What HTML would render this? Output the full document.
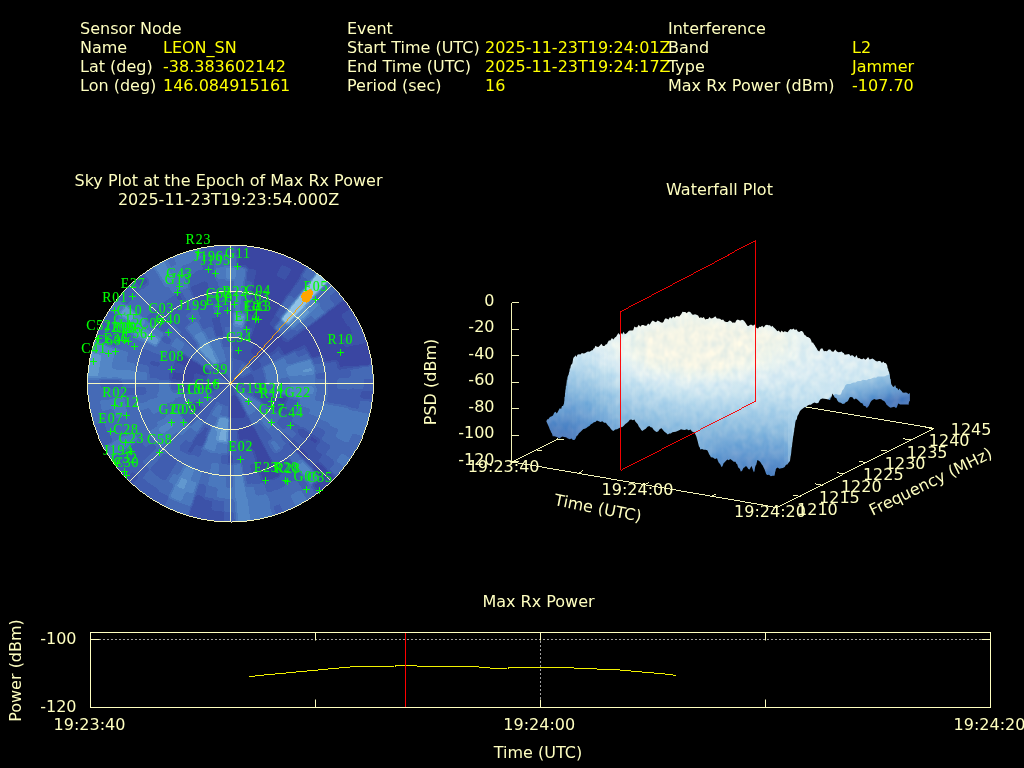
<!DOCTYPE html>
<html lang="en"><head><meta charset="utf-8"><title>Interference Event Report</title>
<style>
html,body{margin:0;padding:0;background:#000;overflow:hidden}
svg{display:block}
text{font-family:"DejaVu Sans","Liberation Sans",sans-serif;font-size:16px;fill:#ffffc0}
text.v{fill:#ffff00}
.sv text{font-family:"Liberation Serif","DejaVu Serif",serif;font-size:13.8px;letter-spacing:0.9px;fill:#00ff00;stroke:#00ff00;stroke-width:0.1px}
</style></head><body>
<svg width="1024" height="768" viewBox="0 0 1024 768">
<rect width="1024" height="768" fill="#000"/>
<g class="hd">
<text x="80" y="33.5">Sensor Node</text>
<text x="80" y="52.5">Name</text>
<text x="163" y="52.5" class="v">LEON_SN</text>
<text x="80" y="71.5">Lat (deg)</text>
<text x="163" y="71.5" class="v">-38.383602142</text>
<text x="80" y="90.5">Lon (deg)</text>
<text x="163" y="90.5" class="v">146.084915161</text>
<text x="347" y="33.5">Event</text>
<text x="347" y="52.5">Start Time (UTC)</text>
<text x="485" y="52.5" class="v">2025-11-23T19:24:01Z</text>
<text x="347" y="71.5">End Time (UTC)</text>
<text x="485" y="71.5" class="v">2025-11-23T19:24:17Z</text>
<text x="347" y="90.5">Period (sec)</text>
<text x="485" y="90.5" class="v">16</text>
<text x="668" y="33.5">Interference</text>
<text x="668" y="52.5">Band</text>
<text x="852" y="52.5" class="v">L2</text>
<text x="668" y="71.5">Type</text>
<text x="852" y="71.5" class="v">Jammer</text>
<text x="668" y="90.5">Max Rx Power (dBm)</text>
<text x="852" y="90.5" class="v">-107.70</text>
</g>
<text x="228.5" y="185.5" text-anchor="middle">Sky Plot at the Epoch of Max Rx Power</text>
<text x="228.5" y="204.5" text-anchor="middle">2025-11-23T19:23:54.000Z</text>
<text x="719.5" y="194.5" text-anchor="middle">Waterfall Plot</text>
<text x="538.5" y="606.5" text-anchor="middle">Max Rx Power</text>
<g id="pw">
<path d="M99 639.5H982" stroke="#a0a0a0" stroke-width="1" stroke-dasharray="2 2" fill="none"/>
<path d="M540.5 641V699" stroke="#a0a0a0" stroke-width="1" stroke-dasharray="2 2" fill="none"/>
<rect x="90.5" y="632.5" width="900" height="75" fill="none" stroke="#ffffc0" stroke-width="1"/>
<path d="M315.5 632.5v8M315.5 707.5v-8M540.5 632.5v8M540.5 707.5v-8M765.5 632.5v8M765.5 707.5v-8M90.5 639.5h9M990.5 639.5h-9" stroke="#ffffc0" stroke-width="1" fill="none"/>
<polyline points="248.5,676.5 355.0,666.5 394.0,666.5 395.0,665.5 417.0,665.5 418.0,666.5 479.0,666.5 480.0,667.5 490.0,667.5 491.0,668.5 507.0,668.5 508.0,667.5 574.0,667.5 575.0,668.5 597.0,668.5 598.0,669.5 614.0,669.5 625.0,670.5 636.0,671.5 648.0,672.5 659.0,673.5 670.0,674.5 676.0,675.5" fill="none" stroke="#ffff00" stroke-width="0.95" shape-rendering="crispEdges"/>
<path d="M405.5 633V707" stroke="#ff0000" stroke-width="1" fill="none" shape-rendering="crispEdges"/>
<text x="76.5" y="643.5" text-anchor="end">-100</text>
<text x="76.5" y="711.5" text-anchor="end">-120</text>
<text x="89.5" y="729.5" text-anchor="middle">19:23:40</text>
<text x="539.3" y="729.5" text-anchor="middle">19:24:00</text>
<text x="989.5" y="729.5" text-anchor="middle">19:24:20</text>
<text x="538" y="757.5" text-anchor="middle">Time (UTC)</text>
<text transform="translate(20.5,670.5) rotate(-90)" text-anchor="middle">Power (dBm)</text>
</g>
<g id="sky">
<defs><clipPath id="skc"><ellipse cx="230.5" cy="383.5" rx="143.0" ry="138.5"/></clipPath><filter id="hm" x="-5%" y="-5%" width="110%" height="110%" color-interpolation-filters="sRGB"><feGaussianBlur stdDeviation="1.3"/><feComponentTransfer><feFuncR type="discrete" tableValues="0.2275 0.2392 0.2549 0.2706 0.2902 0.3255 0.3804 0.4627 0.5608"/><feFuncG type="discrete" tableValues="0.2784 0.3216 0.3686 0.4196 0.4706 0.5294 0.5961 0.6745 0.7608"/><feFuncB type="discrete" tableValues="0.6353 0.6627 0.6902 0.7176 0.7451 0.7765 0.8118 0.8549 0.9020"/></feComponentTransfer></filter></defs>
<ellipse cx="230.5" cy="383.5" rx="142.7" ry="138.2" fill="#415eb0"/>
<g clip-path="url(#skc)"><g filter="url(#hm)">
<rect x="67.5" y="225.0" width="326.0" height="317.0" fill="#404040"/>
<path fill="#000000" d="M235.5 256.6L236.0 243.7L243.1 244.1L250.1 244.9L248.3 257.7L241.9 257.0ZM236.0 245.1L236.5 232.2L244.1 232.6L251.7 233.5L249.9 246.3L243.0 245.5ZM246.9 257.5L248.6 244.7L255.6 245.7L262.5 247.1L259.5 259.7L253.3 258.5ZM248.4 246.1L250.1 233.3L257.6 234.4L265.1 235.8L262.2 248.4L255.3 247.1ZM250.6 293.3L253.5 280.6L258.6 281.8L263.7 283.3L259.6 295.6L255.2 294.3ZM253.2 282.0L256.0 269.3L261.7 270.7L267.4 272.3L263.3 284.6L258.3 283.2ZM255.7 270.7L258.5 258.1L264.8 259.5L271.0 261.3L266.9 273.6L261.3 272.0ZM258.2 259.4L261.0 246.8L267.9 248.4L274.7 250.3L270.6 262.6L264.4 260.9ZM260.7 248.1L263.5 235.5L271.0 237.2L278.3 239.3L274.2 251.6L267.5 249.7ZM255.2 306.3L259.1 294.0L263.6 295.4L268.0 297.1L262.8 309.0L259.0 307.6ZM258.7 295.3L262.6 282.9L267.7 284.6L272.6 286.5L267.4 298.4L263.1 296.7ZM262.2 284.3L266.2 271.9L271.7 273.7L277.2 275.8L272.1 287.7L267.2 285.9ZM253.0 330.1L258.1 318.1L261.3 319.5L264.5 321.0L258.3 332.5L255.7 331.2ZM257.5 319.4L262.6 307.4L266.4 309.0L270.1 310.8L263.8 322.2L260.7 320.7ZM262.0 308.7L267.1 296.7L271.4 298.6L275.6 300.6L269.4 312.0L265.8 310.3ZM266.5 298.0L271.6 286.0L276.4 288.1L281.2 290.4L275.0 301.8L270.8 299.8ZM257.7 332.2L263.8 320.7L267.0 322.3L270.0 324.1L262.8 335.0L260.3 333.5ZM285.0 280.8L291.1 269.3L296.8 272.4L302.3 275.6L295.1 286.5L290.1 283.5ZM255.9 344.4L263.0 333.5L265.5 335.1L267.9 336.8L259.7 347.0L257.8 345.7ZM262.3 334.7L269.4 323.7L272.3 325.6L275.2 327.7L267.0 337.9L264.7 336.2ZM259.3 346.7L267.4 336.4L269.7 338.2L272.0 340.1L262.9 349.6L261.1 348.1ZM266.5 337.5L274.6 327.2L277.4 329.4L280.1 331.7L271.0 341.2L268.8 339.3ZM324.7 312.8L335.2 304.8L339.0 309.9L342.6 315.1L331.3 322.0L328.1 317.3ZM334.1 305.7L344.6 297.8L348.8 303.3L352.7 309.0L341.4 315.8L337.9 310.7ZM343.5 298.6L354.0 290.7L358.6 296.6L362.8 302.8L351.5 309.7L347.6 304.1ZM300.6 339.7L311.8 332.7L314.3 336.6L316.6 340.7L304.7 346.6L302.7 343.1ZM310.6 333.5L321.9 326.5L324.6 330.9L327.2 335.4L315.3 341.3L313.1 337.3ZM320.7 327.2L331.9 320.2L334.9 325.1L337.8 330.1L325.9 336.0L323.4 331.6ZM304.3 345.8L316.1 339.8L318.2 343.9L320.1 348.1L307.7 353.0L306.1 349.4ZM314.8 340.4L326.6 334.4L329.0 339.0L331.1 343.7L318.8 348.6L316.9 344.5ZM325.4 335.1L337.2 329.0L339.8 334.1L342.2 339.4L329.8 344.3L327.7 339.6ZM318.4 347.7L330.7 342.7L332.6 347.5L334.3 352.4L321.6 356.2L320.1 351.9ZM355.3 344.7L368.0 340.7L370.0 347.3L371.7 353.9L358.6 356.7L357.1 350.6ZM366.7 341.2L379.4 337.2L381.5 344.3L383.3 351.5L370.3 354.2L368.6 347.7ZM358.3 355.4L371.3 352.5L372.7 359.2L373.8 366.0L360.5 367.6L359.6 361.5ZM369.9 352.8L383.0 350.0L384.5 357.2L385.6 364.5L372.4 366.1L371.3 359.4ZM252.7 424.3L259.0 435.8L256.3 437.1L253.6 438.2L248.5 426.2L250.6 425.3ZM258.3 434.5L264.5 446.0L261.3 447.5L258.1 448.9L253.0 436.9L255.7 435.8ZM263.8 444.8L270.1 456.2L266.4 458.0L262.6 459.6L257.5 447.6L260.7 446.3ZM269.4 455.0L275.6 466.4L271.4 468.4L267.1 470.3L262.0 458.3L265.8 456.7ZM249.0 426.1L254.1 438.0L251.4 439.0L248.5 440.0L244.6 427.6L246.8 426.9ZM253.6 436.7L258.8 448.6L255.4 449.9L252.1 451.0L248.1 438.6L250.9 437.7ZM235.8 406.0L238.7 418.6L237.0 419.0L235.2 419.2L233.5 406.4L234.6 406.2ZM233.7 406.4L235.5 419.2L233.7 419.4L231.9 419.5L231.4 406.6L232.6 406.5ZM231.7 406.6L232.3 419.5L230.5 419.5L228.7 419.5L229.3 406.6L230.5 406.6ZM207.7 376.7L195.0 372.9L195.6 371.2L196.2 369.5L208.5 374.6L208.1 375.6ZM196.3 373.3L183.6 369.4L184.4 367.2L185.2 365.1L197.5 370.1L196.9 371.7ZM208.4 374.8L196.1 369.9L196.8 368.3L197.6 366.7L209.4 372.7L208.9 373.7ZM197.4 370.4L185.0 365.5L186.0 363.4L187.1 361.3L198.9 367.4L198.1 368.9ZM209.3 372.9L197.4 367.0L198.3 365.5L199.2 364.0L210.5 371.0L209.9 372.0ZM198.7 367.7L186.8 361.8L188.0 359.7L189.2 357.7L200.4 364.7L199.5 366.2Z"/>
<path fill="#010101" d="M245.4 269.0L247.1 256.2L253.5 257.1L259.9 258.3L256.9 271.0L251.2 269.8ZM279.5 291.1L285.6 279.6L290.8 282.3L295.8 285.3L288.6 296.2L284.1 293.5ZM275.0 465.2L281.2 476.6L276.4 478.9L271.6 481.0L266.5 469.0L270.8 467.2Z"/>
<path fill="#020202" d="M236.1 393.7L242.3 405.1L241.2 405.7L240.0 406.2L235.0 394.2L235.5 394.0ZM235.1 394.1L240.3 406.1L239.1 406.5L238.0 406.9L234.0 394.5L234.6 394.3ZM234.1 394.5L238.2 406.8L237.0 407.1L235.8 407.4L233.0 394.8L233.6 394.6ZM233.1 394.8L236.1 407.4L234.9 407.6L233.7 407.8L232.0 395.0L232.6 394.9ZM232.1 394.9L233.9 407.7L232.7 407.9L231.5 408.0L231.0 395.0L231.5 395.0ZM231.1 395.0L231.7 407.9L230.5 408.0L229.3 407.9L229.9 395.0L230.5 395.0Z"/>
<path fill="#030303" d="M296.4 334.0L307.0 326.1L309.8 329.7L312.4 333.6L301.1 340.4L298.8 337.2ZM344.0 348.2L356.7 344.3L358.5 350.3L360.0 356.4L347.0 359.1L345.6 353.6ZM318.8 461.0L328.7 469.7L324.2 474.3L319.5 478.6L310.5 469.0L314.8 465.1ZM327.6 468.8L337.5 477.5L332.6 482.4L327.5 487.1L318.6 477.6L323.2 473.3ZM336.4 476.5L346.3 485.2L341.1 490.6L335.5 495.7L326.6 486.1L331.6 481.4Z"/>
<path fill="#050505" d="M329.4 343.2L341.7 338.2L343.8 343.6L345.7 349.0L333.0 352.8L331.3 348.0ZM332.6 351.7L345.3 347.8L347.0 353.3L348.4 358.8L335.3 361.5L334.1 356.6Z"/>
<path fill="#060606" d="M315.2 319.8L325.8 311.9L329.3 316.5L332.5 321.3L321.3 328.1L318.4 323.9ZM307.4 352.2L319.7 347.2L321.4 351.4L322.9 355.8L310.2 359.6L308.9 355.9ZM186.4 366.1L174.0 361.2L175.2 358.5L176.5 355.9L188.3 362.0L187.3 364.0ZM188.1 362.4L176.2 356.5L177.7 354.0L179.2 351.5L190.4 358.5L189.2 360.4Z"/>
<path fill="#070707" d="M248.5 340.8L253.6 328.8L256.3 329.9L259.0 331.2L252.7 342.7L250.6 341.7ZM271.0 287.3L276.1 275.4L281.5 277.6L286.7 280.2L280.5 291.6L275.8 289.4ZM252.3 342.4L258.4 330.9L261.0 332.3L263.6 333.8L256.3 344.7L254.3 343.5ZM330.7 321.0L341.9 314.0L345.3 319.3L348.4 324.8L336.5 330.7L333.7 325.8Z"/>
<path fill="#080808" d="M248.1 304.5L250.9 291.9L255.5 293.0L260.1 294.3L256.0 306.6L252.1 305.5ZM262.5 349.3L271.5 339.7L273.6 341.7L275.7 343.8L265.8 352.5L264.2 350.9ZM265.5 352.1L275.3 343.3L277.2 345.5L279.1 347.8L268.5 355.6L267.0 353.8Z"/>
<path fill="#090909" d="M251.6 317.3L255.6 305.0L259.5 306.3L263.4 307.7L258.2 319.7L255.0 318.4ZM305.8 326.9L316.4 319.0L319.5 323.1L322.5 327.4L311.2 334.3L308.6 330.5Z"/>
<path fill="#0a0a0a" d="M241.6 403.9L247.8 415.4L246.2 416.1L244.5 416.8L239.5 404.9L240.6 404.4ZM239.7 404.8L244.9 416.7L243.2 417.3L241.5 417.9L237.5 405.6L238.7 405.2ZM237.8 405.5L241.9 417.8L240.1 418.3L238.4 418.7L235.5 406.1L236.7 405.8Z"/>
<path fill="#0b0b0b" d="M346.7 357.9L359.7 355.1L361.0 361.2L362.0 367.4L348.7 369.0L347.9 363.5Z"/>
<path fill="#0c0c0c" d="M335.9 329.7L347.7 323.6L350.6 329.3L353.2 335.0L340.8 339.9L338.5 334.7Z"/>
<path fill="#0d0d0d" d="M268.6 311.6L274.7 300.1L278.9 302.3L282.9 304.7L275.7 315.6L272.2 313.5ZM290.4 270.6L296.5 259.1L302.7 262.4L308.7 265.9L301.5 276.8L296.0 273.6ZM295.9 260.3L302.0 248.8L308.7 252.4L315.2 256.2L308.0 267.1L302.0 263.6Z"/>
<path fill="#0e0e0e" d="M269.3 262.2L273.2 249.9L279.9 252.1L286.5 254.5L281.3 266.5L275.3 264.2ZM272.8 251.2L276.7 238.8L284.0 241.2L291.1 243.9L285.9 255.8L279.4 253.4Z"/>
<path fill="#0f0f0f" d="M249.6 354.2L256.7 343.3L258.7 344.5L260.6 345.9L252.4 356.1L251.0 355.1ZM252.1 355.9L260.2 345.6L262.1 347.1L263.9 348.6L254.8 358.1L253.5 357.0ZM254.5 357.8L263.5 348.3L265.2 349.9L266.9 351.6L257.0 360.2L255.8 359.0ZM287.0 341.1L297.5 333.1L300.0 336.4L302.3 339.7L291.0 346.6L289.1 343.8Z"/>
<path fill="#101010" d="M263.2 321.9L269.3 310.4L272.9 312.3L276.5 314.4L269.2 325.3L266.2 323.5ZM262.8 458.0L268.0 469.9L263.6 471.6L259.1 473.0L255.2 460.7L259.0 459.4ZM245.1 427.5L249.2 439.8L246.3 440.6L243.4 441.3L240.6 428.6L242.8 428.1ZM241.1 428.5L244.0 441.1L241.1 441.7L238.1 442.1L236.5 429.3L238.8 429.0ZM194.8 382.2L181.4 381.7L181.6 379.4L181.9 377.0L195.1 378.8L194.9 380.5ZM195.0 379.2L181.8 377.5L182.1 375.2L182.6 373.0L195.6 375.8L195.3 377.5ZM195.6 376.2L182.5 373.5L183.1 371.2L183.8 369.0L196.5 372.9L196.0 374.5Z"/>
<path fill="#111111" d="M321.3 355.3L334.0 351.3L335.5 356.3L336.7 361.3L323.7 364.0L322.6 359.6Z"/>
<path fill="#121212" d="M265.7 273.2L269.7 260.9L275.8 262.9L281.9 265.2L276.7 277.1L271.3 275.0ZM277.6 348.1L288.1 340.2L290.2 343.0L292.2 345.9L280.9 352.7L279.3 350.4ZM280.6 352.2L291.8 345.2L293.7 348.2L295.4 351.2L283.5 357.1L282.1 354.6ZM267.4 468.6L272.6 480.5L267.7 482.4L262.6 484.1L258.7 471.7L263.1 470.3Z"/>
<path fill="#141414" d="M274.1 301.4L280.2 289.9L284.8 292.3L289.4 295.0L282.1 305.9L278.2 303.5ZM290.6 346.0L301.8 339.0L304.0 342.4L306.0 345.9L294.1 351.8L292.4 348.9Z"/>
<path fill="#181818" d="M301.1 445.5L311.0 454.2L307.3 457.9L303.5 461.5L294.5 451.9L297.9 448.8ZM319.6 476.7L328.6 486.1L323.3 490.7L317.8 494.9L309.8 484.6L314.8 480.8ZM327.7 485.1L336.7 494.6L331.0 499.5L325.0 504.1L317.0 493.8L322.4 489.6ZM182.9 381.7L169.5 381.2L169.7 378.3L170.1 375.5L183.3 377.2L183.0 379.5ZM183.2 377.7L170.0 376.1L170.4 373.2L171.0 370.4L184.0 373.3L183.6 375.5Z"/>
<path fill="#191919" d="M245.6 315.8L248.4 303.2L252.5 304.1L256.4 305.3L252.4 317.6L249.0 316.6Z"/>
<path fill="#1a1a1a" d="M280.0 266.0L285.1 254.0L291.5 256.7L297.9 259.8L291.6 271.2L285.9 268.4ZM284.5 255.3L289.6 243.3L296.6 246.3L303.4 249.6L297.2 261.0L290.9 258.0ZM258.2 447.3L263.4 459.3L259.5 460.7L255.6 462.0L251.6 449.7L255.0 448.6Z"/>
<path fill="#1b1b1b" d="M235.1 268.2L235.6 255.3L242.0 255.6L248.5 256.3L246.7 269.2L240.9 268.5ZM335.1 360.5L348.1 357.6L349.3 363.2L350.1 368.9L336.9 370.5L336.1 365.5ZM277.1 393.3L290.1 396.0L289.4 398.8L288.6 401.6L275.9 397.6L276.5 395.4ZM276.0 397.2L288.8 401.0L287.8 403.7L286.7 406.4L274.4 401.4L275.3 399.3Z"/>
<path fill="#1c1c1c" d="M270.5 340.7L279.5 331.2L282.1 333.6L284.5 336.1L274.6 344.7L272.6 342.7ZM274.2 344.3L284.0 335.5L286.4 338.1L288.6 340.8L278.0 348.6L276.1 346.4ZM311.2 432.7L322.5 439.6L319.5 443.9L316.4 448.0L305.8 440.1L308.6 436.5Z"/>
<path fill="#1d1d1d" d="M230.5 383.5L219.2 376.6L219.6 376.1L220.0 375.6L230.5 383.5L230.5 383.5ZM230.5 383.5L219.9 375.7L220.3 375.2L220.7 374.7L230.5 383.5L230.5 383.5ZM230.5 383.5L220.6 374.8L221.1 374.4L221.5 373.9L230.5 383.5L230.5 383.5ZM230.5 383.5L221.4 374.0L221.9 373.6L222.4 373.2L230.5 383.5L230.5 383.5ZM230.5 383.5L222.3 373.3L222.8 372.9L223.4 372.6L230.5 383.5L230.5 383.5ZM230.5 383.5L223.3 372.6L223.8 372.3L224.4 372.0L230.5 383.5L230.5 383.5Z"/>
<path fill="#1e1e1e" d="M241.1 350.4L245.0 338.1L247.3 338.8L249.5 339.7L244.4 351.6L242.7 351.0ZM244.0 351.4L249.1 339.5L251.2 340.4L253.4 341.4L247.2 352.9L245.6 352.1ZM246.8 352.7L252.9 341.2L255.0 342.3L257.1 343.5L249.9 354.4L248.4 353.5ZM230.5 383.5L242.3 377.5L242.6 378.0L242.9 378.6L230.5 383.5L230.5 383.5ZM230.5 383.5L242.8 378.5L243.0 379.1L243.2 379.7L230.5 383.5L230.5 383.5ZM230.5 383.5L243.2 379.5L243.4 380.2L243.5 380.8L230.5 383.5L230.5 383.5ZM230.5 383.5L243.5 380.6L243.6 381.3L243.7 381.9L230.5 383.5L230.5 383.5ZM230.5 383.5L243.7 381.7L243.8 382.4L243.8 383.0L230.5 383.5L230.5 383.5ZM230.5 383.5L243.8 382.9L243.8 383.5L243.8 384.1L230.5 383.5L230.5 383.5ZM247.2 414.1L253.4 425.6L251.2 426.6L249.1 427.5L244.0 415.6L245.6 414.9ZM244.4 415.4L249.5 427.3L247.3 428.2L245.0 428.9L241.1 416.6L242.7 416.0ZM241.4 416.5L245.5 428.8L243.2 429.4L240.9 430.0L238.1 417.3L239.8 416.9Z"/>
<path fill="#1f1f1f" d="M346.5 324.3L358.3 318.3L361.4 324.4L364.2 330.6L351.9 335.5L349.3 329.8ZM357.0 318.9L368.8 312.9L372.2 319.5L375.3 326.3L362.9 331.2L360.1 325.0ZM310.0 453.3L319.8 462.0L315.8 466.1L311.5 470.0L302.5 460.5L306.3 457.0ZM288.9 456.5L297.1 466.7L292.8 469.7L288.4 472.6L281.3 461.6L285.2 459.1ZM225.5 510.4L225.0 523.3L217.9 522.9L210.9 522.1L212.7 509.3L219.1 510.0ZM225.0 521.9L224.5 534.8L216.9 534.4L209.3 533.5L211.1 520.7L218.0 521.5Z"/>
<path fill="#202020" d="M340.4 338.8L352.7 333.8L355.0 339.6L357.1 345.5L344.3 349.4L342.5 344.0ZM264.7 393.7L277.4 397.6L276.6 399.8L275.8 401.9L263.5 396.9L264.1 395.3ZM263.6 396.6L276.0 401.5L275.0 403.6L273.9 405.7L262.1 399.6L262.9 398.1ZM262.3 399.3L274.2 405.2L273.0 407.3L271.8 409.3L260.6 402.3L261.5 400.8Z"/>
<path fill="#222222" d="M275.5 276.6L280.6 264.7L286.5 267.2L292.3 270.0L286.1 281.4L280.9 278.9ZM214.1 509.5L212.4 522.3L205.4 521.3L198.5 519.9L201.5 507.3L207.7 508.5ZM212.6 520.9L210.9 533.7L203.4 532.6L195.9 531.2L198.8 518.6L205.7 519.9ZM208.0 436.9L202.9 448.9L199.7 447.5L196.5 446.0L202.7 434.5L205.3 435.8ZM203.3 434.8L197.2 446.3L194.0 444.7L191.0 442.9L198.2 432.0L200.7 433.5Z"/>
<path fill="#232323" d="M195.6 391.2L182.6 394.0L182.1 391.8L181.8 389.5L195.0 387.8L195.3 389.5ZM195.1 388.2L181.9 390.0L181.6 387.6L181.4 385.3L194.8 384.8L194.9 386.5ZM194.8 385.2L181.5 385.8L181.4 383.5L181.5 381.2L194.8 381.8L194.8 383.5ZM193.6 298.4L188.4 286.5L193.3 284.6L198.4 282.9L202.3 295.3L197.9 296.7Z"/>
<path fill="#242424" d="M301.1 426.6L312.4 433.4L309.8 437.3L307.0 440.9L296.4 433.0L298.8 429.8ZM183.9 373.7L170.9 371.0L171.6 368.2L172.4 365.4L185.1 369.4L184.5 371.6ZM185.0 369.8L172.2 366.0L173.2 363.3L174.3 360.6L186.6 365.6L185.7 367.7Z"/>
<path fill="#262626" d="M268.6 324.9L275.7 314.0L279.2 316.2L282.5 318.6L274.3 328.8L271.5 326.8ZM292.3 437.8L302.2 446.5L298.9 449.8L295.5 452.9L286.5 443.4L289.5 440.6Z"/>
<path fill="#272727" d="M231.9 348.9L232.4 336.0L234.8 336.1L237.2 336.4L235.4 349.2L233.6 349.0ZM235.0 349.1L236.7 336.3L239.0 336.7L241.4 337.1L238.4 349.7L236.7 349.4ZM238.1 349.7L240.9 337.0L243.2 337.6L245.5 338.2L241.4 350.5L239.8 350.1ZM230.5 383.5L236.7 394.9L236.1 395.2L235.5 395.5L230.5 383.5L230.5 383.5ZM230.5 383.5L235.7 395.4L235.1 395.6L234.4 395.8L230.5 383.5L230.5 383.5ZM230.5 383.5L234.6 395.8L234.0 396.0L233.3 396.1L230.5 383.5L230.5 383.5ZM230.5 383.5L233.5 396.1L232.8 396.2L232.2 396.3L230.5 383.5L230.5 383.5ZM230.5 383.5L232.3 396.3L231.7 396.4L231.0 396.4L230.5 383.5L230.5 383.5ZM230.5 383.5L231.2 396.4L230.5 396.4L229.8 396.4L230.5 383.5L230.5 383.5Z"/>
<path fill="#282828" d="M241.0 378.1L252.8 372.1L253.4 373.2L253.9 374.3L241.5 379.1L241.3 378.6ZM241.5 379.0L253.8 374.0L254.2 375.1L254.6 376.3L241.9 380.1L241.7 379.6ZM241.8 380.0L254.6 376.0L254.9 377.2L255.2 378.3L242.1 381.1L242.0 380.5ZM242.1 380.9L255.1 378.1L255.4 379.3L255.6 380.4L242.3 382.1L242.2 381.5ZM242.3 381.9L255.5 380.2L255.7 381.4L255.7 382.6L242.4 383.1L242.4 382.5ZM242.4 382.9L255.7 382.3L255.8 383.5L255.7 384.7L242.4 384.1L242.4 383.5Z"/>
<path fill="#292929" d="M202.8 507.6L200.0 520.2L193.1 518.6L186.3 516.7L190.4 504.4L196.6 506.1ZM200.3 518.9L197.5 531.5L190.0 529.8L182.7 527.7L186.8 515.4L193.5 517.3ZM198.2 309.0L193.0 297.1L197.4 295.4L201.9 294.0L205.8 306.3L202.0 307.6ZM201.4 295.6L197.3 283.3L202.4 281.8L207.5 280.6L210.4 293.3L205.8 294.3Z"/>
<path fill="#2b2b2b" d="M231.4 360.4L231.9 347.5L233.7 347.6L235.5 347.8L233.7 360.6L232.6 360.5ZM233.5 360.6L235.2 347.8L237.0 348.0L238.7 348.4L235.8 361.0L234.6 360.8ZM243.9 280.4L245.6 267.6L251.4 268.5L257.2 269.6L254.3 282.2L249.1 281.2ZM235.5 360.9L238.4 348.3L240.1 348.7L241.9 349.2L237.8 361.5L236.7 361.2ZM237.5 361.4L241.5 349.1L243.2 349.7L244.9 350.3L239.7 362.2L238.7 361.8ZM239.5 362.1L244.5 350.2L246.2 350.9L247.8 351.6L241.6 363.1L240.6 362.6ZM241.4 363.0L247.5 351.5L249.1 352.3L250.6 353.2L243.4 364.1L242.4 363.5ZM274.6 400.9L287.0 405.8L285.8 408.5L284.5 411.1L272.7 405.0L273.7 403.0ZM272.9 404.6L284.8 410.5L283.3 413.0L281.8 415.5L270.6 408.5L271.8 406.6ZM230.5 383.5L218.7 389.5L218.4 389.0L218.1 388.4L230.5 383.5L230.5 383.5ZM230.5 383.5L218.2 388.5L218.0 387.9L217.8 387.3L230.5 383.5L230.5 383.5ZM230.5 383.5L217.8 387.5L217.6 386.8L217.5 386.2L230.5 383.5L230.5 383.5ZM230.5 383.5L217.5 386.4L217.4 385.7L217.3 385.1L230.5 383.5L230.5 383.5ZM230.5 383.5L217.3 385.3L217.2 384.6L217.2 384.0L230.5 383.5L230.5 383.5ZM230.5 383.5L217.2 384.1L217.2 383.5L217.2 382.9L230.5 383.5L230.5 383.5Z"/>
<path fill="#2c2c2c" d="M306.4 439.3L317.1 447.1L313.8 451.2L310.2 455.0L300.4 446.2L303.5 442.9ZM215.9 339.5L211.8 327.2L214.7 326.4L217.6 325.7L220.4 338.4L218.2 338.9ZM219.9 338.5L217.0 325.9L219.9 325.3L222.9 324.9L224.5 337.7L222.2 338.0Z"/>
<path fill="#2d2d2d" d="M238.4 417.3L241.4 429.9L239.0 430.3L236.7 430.7L235.0 417.9L236.7 417.6ZM235.4 417.8L237.2 430.6L234.8 430.9L232.4 431.0L231.9 418.1L233.6 418.0ZM232.2 418.1L232.9 431.0L230.5 431.1L228.1 431.0L228.8 418.1L230.5 418.1ZM205.3 496.3L202.5 508.9L196.2 507.5L190.0 505.7L194.1 493.4L199.7 495.0ZM206.7 382.6L193.3 382.1L193.5 380.4L193.7 378.6L206.9 380.4L206.8 381.5ZM206.9 380.6L193.6 379.0L193.9 377.2L194.2 375.5L207.3 378.4L207.0 379.5ZM207.2 378.6L194.2 375.9L194.6 374.2L195.1 372.5L207.8 376.4L207.5 377.5Z"/>
<path fill="#2e2e2e" d="M230.5 383.5L237.6 372.6L238.2 372.9L238.7 373.3L230.5 383.5L230.5 383.5ZM230.5 383.5L238.6 373.2L239.1 373.6L239.6 374.0L230.5 383.5L230.5 383.5ZM230.5 383.5L239.5 373.9L239.9 374.4L240.4 374.8L230.5 383.5L230.5 383.5ZM230.5 383.5L240.3 374.7L240.7 375.2L241.1 375.7L230.5 383.5L230.5 383.5ZM230.5 383.5L241.0 375.6L241.4 376.1L241.8 376.6L230.5 383.5L230.5 383.5ZM230.5 383.5L241.7 376.5L242.1 377.0L242.4 377.6L230.5 383.5L230.5 383.5Z"/>
<path fill="#2f2f2f" d="M351.3 334.3L363.6 329.3L366.2 335.7L368.5 342.1L355.7 346.0L353.7 340.1ZM362.3 329.8L374.6 324.8L377.4 331.7L379.9 338.7L367.1 342.5L364.9 336.1ZM248.7 438.4L252.8 450.8L249.4 451.7L245.9 452.5L243.1 439.9L245.9 439.2ZM243.7 439.8L246.7 452.4L243.2 453.1L239.6 453.6L238.0 440.8L240.8 440.3Z"/>
<path fill="#303030" d="M248.0 367.8L257.8 359.0L259.0 360.4L260.1 361.7L249.5 369.5L248.8 368.7ZM249.3 369.4L259.9 361.4L261.0 362.8L262.0 364.3L250.7 371.2L250.0 370.3ZM250.5 371.0L261.8 364.0L262.7 365.5L263.6 367.0L251.7 372.9L251.1 372.0ZM282.1 461.1L289.4 472.0L284.8 474.7L280.2 477.1L274.1 465.6L278.2 463.5Z"/>
<path fill="#313131" d="M361.5 388.4L374.8 388.9L374.4 395.7L373.6 402.5L360.4 400.7L361.1 394.6ZM373.4 388.8L386.7 389.3L386.3 396.7L385.4 404.1L372.2 402.3L373.0 395.6ZM234.0 452.7L234.6 465.6L230.5 465.7L226.4 465.6L227.0 452.7L230.5 452.8ZM220.0 388.9L208.2 394.9L207.6 393.8L207.1 392.7L219.5 387.9L219.7 388.4ZM219.5 388.0L207.2 393.0L206.8 391.9L206.4 390.7L219.1 386.9L219.3 387.4ZM219.2 387.0L206.4 391.0L206.1 389.8L205.8 388.7L218.9 385.9L219.0 386.5ZM218.9 386.1L205.9 388.9L205.6 387.7L205.4 386.6L218.7 384.9L218.8 385.5ZM218.7 385.1L205.5 386.8L205.3 385.6L205.3 384.4L218.6 383.9L218.6 384.5ZM218.6 384.1L205.3 384.7L205.2 383.5L205.3 382.3L218.6 382.9L218.6 383.5Z"/>
<path fill="#323232" d="M243.2 364.0L250.3 353.0L251.8 354.0L253.3 355.0L245.1 365.3L244.2 364.6ZM244.9 365.1L253.0 354.8L254.4 355.9L255.8 357.1L246.7 366.6L245.8 365.8ZM246.5 366.4L255.5 356.8L256.8 358.0L258.0 359.3L248.2 368.0L247.4 367.2ZM207.3 388.6L194.2 391.5L193.9 389.8L193.6 388.0L206.9 386.4L207.0 387.5ZM206.9 386.6L193.7 388.4L193.5 386.6L193.3 384.9L206.7 384.4L206.8 385.5ZM206.7 384.6L193.4 385.3L193.3 383.5L193.4 381.7L206.7 382.4L206.7 383.5ZM141.4 290.3L132.4 280.9L137.7 276.3L143.2 272.1L151.2 282.4L146.2 286.2ZM133.3 281.9L124.3 272.4L130.0 267.5L136.0 262.9L144.0 273.2L138.6 277.4Z"/>
<path fill="#333333" d="M243.1 327.1L245.9 314.5L249.4 315.3L252.8 316.2L248.7 328.6L245.9 327.8ZM248.1 328.4L252.1 316.0L255.4 317.1L258.8 318.4L253.6 330.3L250.9 329.3ZM340.7 314.7L351.9 307.7L355.6 313.6L359.0 319.6L347.1 325.5L344.0 320.0ZM350.7 308.5L361.9 301.5L365.9 307.8L369.6 314.3L357.7 320.2L354.3 314.2ZM204.3 407.0L194.5 415.8L192.9 414.1L191.4 412.2L202.0 404.4L203.1 405.8ZM202.3 404.7L191.7 412.6L190.3 410.8L189.0 408.8L200.2 402.0L201.2 403.4ZM200.4 402.3L189.2 409.3L188.0 407.3L186.8 405.2L198.7 399.3L199.5 400.8ZM160.6 368.9L147.6 366.1L148.5 362.2L149.7 358.4L162.4 362.3L161.4 365.6Z"/>
<path fill="#343434" d="M253.3 390.3L266.0 394.1L265.4 395.8L264.8 397.5L252.5 392.4L252.9 391.4ZM252.6 392.2L264.9 397.1L264.2 398.7L263.4 400.3L251.6 394.3L252.1 393.3ZM251.7 394.1L263.6 400.0L262.7 401.5L261.8 403.0L250.5 396.0L251.1 395.0ZM142.4 477.6L133.5 487.1L128.4 482.4L123.5 477.5L133.4 468.8L137.8 473.3ZM134.4 486.1L125.5 495.7L119.9 490.6L114.7 485.2L124.6 476.5L129.4 481.4Z"/>
<path fill="#353535" d="M197.8 445.1L191.7 456.6L188.1 454.7L184.5 452.6L191.8 441.7L194.8 443.5Z"/>
<path fill="#373737" d="M256.0 460.4L260.1 472.7L255.5 474.0L250.9 475.1L248.1 462.5L252.1 461.5ZM215.6 498.0L213.9 510.8L207.5 509.9L201.1 508.7L204.1 496.0L209.8 497.2ZM212.3 328.6L208.2 316.2L211.6 315.3L215.1 314.5L217.9 327.1L215.1 327.8ZM205.0 306.6L200.9 294.3L205.5 293.0L210.1 291.9L212.9 304.5L208.9 305.5ZM217.3 327.2L214.3 314.6L217.8 313.9L221.4 313.4L223.0 326.2L220.2 326.7Z"/>
<path fill="#383838" d="M285.7 405.3L298.0 410.2L296.6 413.4L295.0 416.4L283.2 410.4L284.5 407.9ZM283.5 409.9L295.4 415.8L293.7 418.8L291.8 421.8L280.6 414.8L282.1 412.4ZM315.9 446.3L326.6 454.1L322.9 458.6L319.0 462.9L309.2 454.1L312.7 450.3ZM212.5 426.2L207.4 438.2L204.7 437.1L202.0 435.8L208.3 424.3L210.4 425.3ZM208.7 424.6L202.6 436.1L200.0 434.7L197.4 433.2L204.7 422.3L206.7 423.5ZM178.9 305.9L171.6 295.0L176.2 292.3L180.8 289.9L186.9 301.4L182.8 303.5Z"/>
<path fill="#393939" d="M268.2 355.2L278.7 347.3L280.5 349.6L282.1 352.0L270.8 358.9L269.5 357.0ZM270.6 358.5L281.8 351.5L283.3 354.0L284.8 356.5L272.9 362.4L271.8 360.4ZM349.6 387.9L362.9 388.4L362.5 394.7L361.8 400.9L348.6 399.2L349.2 393.6ZM291.0 420.4L302.3 427.3L300.0 430.6L297.5 433.9L287.0 425.9L289.1 423.2ZM170.6 496.4L164.5 507.9L158.3 504.6L152.3 501.1L159.5 490.2L165.0 493.4ZM165.1 506.7L159.0 518.2L152.3 514.6L145.8 510.8L153.0 499.9L159.0 503.4ZM171.0 381.3L157.6 380.8L157.8 377.3L158.2 373.9L171.5 375.7L171.1 378.5ZM171.4 376.3L158.1 374.6L158.7 371.2L159.4 367.9L172.4 370.7L171.8 373.5ZM150.8 359.6L138.1 355.8L139.6 351.4L141.3 347.2L153.6 352.2L152.1 355.9Z"/>
<path fill="#3a3a3a" d="M242.4 291.9L244.1 279.1L249.4 279.8L254.6 280.9L251.6 293.5L247.1 292.6ZM293.7 351.2L305.6 345.2L307.4 348.8L309.1 352.5L296.7 357.3L295.3 354.2ZM202.8 319.7L197.6 307.7L201.5 306.3L205.4 305.0L209.4 317.3L206.0 318.4ZM204.1 271.0L201.1 258.3L207.5 257.1L213.9 256.2L215.6 269.0L209.8 269.8Z"/>
<path fill="#3b3b3b" d="M296.2 465.6L304.4 475.8L299.7 479.2L294.8 482.3L287.7 471.4L292.0 468.6ZM249.0 462.3L251.9 474.9L247.3 475.8L242.6 476.5L241.0 463.7L245.0 463.1ZM114.5 442.7L102.7 448.7L99.6 442.6L96.8 436.4L109.1 431.5L111.7 437.2ZM104.0 448.1L92.2 454.1L88.8 447.5L85.7 440.7L98.1 435.8L100.9 442.0ZM197.7 284.6L193.6 272.3L199.3 270.7L205.0 269.3L207.8 282.0L202.7 283.2ZM227.0 314.3L226.4 301.4L230.5 301.3L234.6 301.4L234.0 314.3L230.5 314.2Z"/>
<path fill="#3c3c3c" d="M256.7 360.0L266.5 351.2L268.1 352.9L269.6 354.8L259.0 362.6L257.9 361.2ZM258.7 362.3L269.3 354.4L270.7 356.2L272.0 358.2L260.8 365.0L259.8 363.6ZM260.6 364.7L271.8 357.7L273.0 359.7L274.2 361.8L262.3 367.7L261.5 366.2ZM325.0 371.0L338.2 369.2L338.8 374.3L339.1 379.5L325.8 380.0L325.5 375.5ZM230.5 383.5L230.0 396.4L229.3 396.4L228.7 396.3L230.5 383.5L230.5 383.5ZM230.5 383.5L228.8 396.3L228.2 396.2L227.5 396.1L230.5 383.5L230.5 383.5ZM230.5 383.5L227.7 396.1L227.0 396.0L226.4 395.8L230.5 383.5L230.5 383.5ZM207.8 485.0L205.0 497.7L199.3 496.3L193.6 494.7L197.7 482.4L202.7 483.8ZM230.5 383.5L226.6 395.8L225.9 395.6L225.3 395.4L230.5 383.5L230.5 383.5ZM230.5 383.5L225.5 395.5L224.9 395.2L224.3 394.9L230.5 383.5L230.5 383.5ZM230.5 383.5L224.4 395.0L223.8 394.7L223.3 394.4L230.5 383.5L230.5 383.5Z"/>
<path fill="#3d3d3d" d="M294.0 285.8L301.1 274.9L306.5 278.4L311.7 282.1L303.5 292.3L298.9 289.0ZM218.6 383.1L205.3 382.6L205.3 381.4L205.5 380.2L218.7 381.9L218.6 382.5ZM218.7 382.1L205.4 380.4L205.6 379.3L205.9 378.1L218.9 380.9L218.8 381.5ZM218.9 381.1L205.8 378.3L206.1 377.2L206.4 376.0L219.2 380.0L219.0 380.5ZM219.1 380.1L206.4 376.3L206.8 375.1L207.2 374.0L219.5 379.0L219.3 379.6ZM219.5 379.1L207.1 374.3L207.6 373.2L208.2 372.1L220.0 378.1L219.7 378.6ZM219.9 378.2L208.0 372.3L208.6 371.3L209.3 370.2L220.5 377.2L220.2 377.7Z"/>
<path fill="#3e3e3e" d="M325.4 453.3L336.1 461.1L332.0 466.0L327.7 470.7L317.9 461.9L321.8 457.7ZM259.6 471.4L263.7 483.7L258.6 485.2L253.5 486.4L250.6 473.7L255.2 472.7ZM120.2 339.9L107.8 335.0L110.4 329.3L113.3 323.6L125.1 329.7L122.5 334.7Z"/>
<path fill="#3f3f3f" d="M296.9 432.3L307.6 440.2L304.6 443.7L301.5 447.2L291.7 438.4L294.4 435.4ZM183.3 389.8L170.1 391.5L169.7 388.7L169.5 385.8L182.9 385.3L183.0 387.5ZM182.9 385.8L169.6 386.4L169.5 383.5L169.6 380.6L182.9 381.2L182.8 383.5ZM109.1 335.5L96.8 330.6L99.6 324.4L102.7 318.3L114.5 324.3L111.7 329.8ZM98.1 331.2L85.7 326.3L88.8 319.5L92.2 312.9L104.0 318.9L100.9 325.0ZM185.3 315.6L178.1 304.7L182.1 302.3L186.3 300.1L192.4 311.6L188.8 313.5ZM206.7 282.2L203.8 269.6L209.6 268.5L215.4 267.6L217.1 280.4L211.9 281.2Z"/>
<path fill="#404040" d="M240.6 338.4L243.4 325.7L246.3 326.4L249.2 327.2L245.1 339.5L242.8 338.9ZM244.6 339.4L248.5 327.0L251.4 328.0L254.1 329.0L249.0 340.9L246.8 340.1ZM154.6 327.7L143.9 319.9L147.2 315.8L150.8 312.0L160.6 320.8L157.5 324.1ZM165.7 315.8L156.7 306.3L160.6 302.9L164.8 299.7L172.9 310.0L169.2 312.8ZM209.4 293.5L206.4 280.9L211.6 279.8L216.9 279.1L218.6 291.9L213.9 292.6Z"/>
<path fill="#414141" d="M280.5 475.4L286.7 486.8L281.5 489.4L276.1 491.6L271.0 479.7L275.8 477.6Z"/>
<path fill="#424242" d="M134.3 469.8L124.5 478.5L119.9 473.4L115.5 468.1L126.1 460.3L130.1 465.1ZM125.6 477.6L115.8 486.4L110.7 480.8L106.0 475.1L116.6 467.2L121.0 472.5ZM164.1 334.7L153.4 326.8L156.4 323.3L159.5 319.8L169.3 328.6L166.6 331.6ZM133.4 298.2L123.5 289.5L128.4 284.6L133.5 279.9L142.4 289.4L137.8 293.7ZM124.6 290.5L114.7 281.8L119.9 276.4L125.5 271.3L134.4 280.9L129.4 285.6Z"/>
<path fill="#434343" d="M323.5 363.0L336.5 360.2L337.5 365.2L338.3 370.3L325.1 371.9L324.4 367.5ZM321.3 438.9L332.5 445.7L329.3 450.5L325.8 455.1L315.2 447.2L318.4 443.1ZM252.4 449.4L256.4 461.7L252.5 462.9L248.4 463.8L245.6 451.2L249.0 450.4ZM198.5 417.7L189.5 427.3L187.4 425.3L185.3 423.2L195.2 414.5L196.8 416.1ZM195.5 414.9L185.7 423.7L183.8 421.5L181.9 419.2L192.5 411.4L194.0 413.2ZM149.0 366.4L135.9 363.7L137.0 359.2L138.4 354.9L151.1 358.8L149.9 362.6Z"/>
<path fill="#444444" d="M242.4 383.9L255.7 384.4L255.7 385.6L255.5 386.8L242.3 385.1L242.4 384.5ZM242.3 384.9L255.6 386.6L255.4 387.7L255.1 388.9L242.1 386.1L242.2 385.5ZM242.1 385.9L255.2 388.7L254.9 389.8L254.6 391.0L241.8 387.0L242.0 386.5ZM241.9 386.9L254.6 390.7L254.2 391.9L253.8 393.0L241.5 388.0L241.7 387.4ZM241.5 387.9L253.9 392.7L253.4 393.8L252.8 394.9L241.0 388.9L241.3 388.4ZM241.1 388.8L253.0 394.7L252.4 395.7L251.7 396.8L240.5 389.8L240.8 389.3ZM145.8 447.2L135.2 455.1L131.7 450.5L128.5 445.7L139.7 438.9L142.6 443.1ZM147.9 394.5L134.6 396.2L134.1 391.7L133.8 387.1L147.1 386.6L147.4 390.5ZM162.2 363.0L149.4 359.2L150.8 355.4L152.3 351.7L164.6 356.7L163.3 359.8ZM220.4 377.3L209.1 370.5L209.8 369.5L210.5 368.5L221.1 376.4L220.7 376.9ZM221.0 376.5L210.4 368.7L211.1 367.8L212.0 366.9L221.8 375.7L221.4 376.1ZM221.7 375.7L211.8 367.1L212.6 366.2L213.5 365.4L222.5 374.9L222.1 375.3ZM222.4 375.0L213.3 365.5L214.3 364.8L215.2 364.0L223.3 374.3L222.8 374.7ZM223.2 374.4L215.0 364.2L216.0 363.5L217.0 362.8L224.1 373.7L223.7 374.0ZM224.0 373.8L216.8 362.9L217.9 362.3L219.0 361.7L225.1 373.2L224.5 373.5ZM201.5 259.7L198.5 247.1L205.4 245.7L212.4 244.7L214.1 257.5L207.7 258.5ZM198.8 248.4L195.9 235.8L203.4 234.4L210.9 233.3L212.6 246.1L205.7 247.1Z"/>
<path fill="#454545" d="M309.9 358.8L322.6 354.9L324.0 359.2L325.1 363.7L312.0 366.4L311.1 362.6ZM336.8 369.4L350.0 367.6L350.6 373.3L351.0 379.0L337.7 379.5L337.3 374.4ZM172.3 371.3L159.2 368.6L160.1 365.2L161.1 361.9L173.8 365.9L172.9 368.6ZM173.6 366.4L160.8 362.6L162.0 359.3L163.3 356.1L175.6 361.1L174.5 363.8ZM159.9 321.5L150.0 312.8L153.7 309.1L157.5 305.5L166.5 315.1L163.1 318.2ZM212.0 304.7L209.1 292.1L213.7 291.2L218.4 290.5L220.0 303.3L216.0 303.9Z"/>
<path fill="#464646" d="M283.0 336.4L292.8 327.7L295.5 330.7L298.1 333.8L287.5 341.6L285.3 339.0ZM287.2 442.8L296.2 452.3L292.7 455.3L289.0 458.1L280.9 447.9L284.1 445.4ZM246.3 451.0L249.3 463.6L245.2 464.4L241.1 465.0L239.5 452.2L242.9 451.7ZM237.0 429.2L238.8 442.0L235.8 442.4L232.8 442.5L232.3 429.6L234.7 429.5ZM232.8 429.6L233.5 442.5L230.5 442.6L227.5 442.5L228.2 429.6L230.5 429.7ZM173.3 471.4L166.2 482.3L161.3 479.2L156.6 475.8L164.8 465.6L169.0 468.6ZM160.6 490.9L153.5 501.9L147.7 498.1L142.0 494.0L150.2 483.8L155.3 487.5ZM154.3 500.7L147.2 511.6L140.8 507.5L134.7 503.2L142.9 492.9L148.5 497.0ZM126.1 306.7L115.5 298.9L119.9 293.6L124.5 288.5L134.3 297.2L130.1 301.9ZM116.6 299.8L106.0 291.9L110.7 286.2L115.8 280.6L125.6 289.4L121.0 294.5Z"/>
<path fill="#474747" d="M315.3 425.7L327.2 431.6L324.6 436.1L321.9 440.5L310.6 433.5L313.1 429.7ZM192.8 411.8L182.3 419.7L180.5 417.4L178.9 415.0L190.2 408.1L191.5 410.0ZM190.4 408.5L179.2 415.5L177.7 413.0L176.2 410.5L188.1 404.6L189.2 406.6ZM170.0 346.6L158.7 339.7L161.0 336.4L163.5 333.1L174.0 341.1L171.9 343.8ZM172.1 310.5L163.9 300.3L168.2 297.3L172.6 294.4L179.7 305.4L175.8 307.9ZM219.2 303.5L217.4 290.6L222.1 290.1L226.8 289.9L227.3 302.8L223.2 303.0ZM224.1 256.7L223.4 243.8L230.5 243.6L237.6 243.8L236.9 256.7L230.5 256.5ZM223.5 245.2L222.9 232.3L230.5 232.1L238.1 232.3L237.5 245.2L230.5 245.0Z"/>
<path fill="#484848" d="M251.6 372.7L263.4 366.7L264.2 368.3L264.9 369.9L252.6 374.8L252.1 373.7ZM252.5 374.6L264.8 369.5L265.4 371.2L266.0 372.9L253.3 376.7L252.9 375.6ZM253.2 376.4L265.9 372.5L266.4 374.2L266.8 375.9L253.8 378.6L253.5 377.5ZM275.7 451.4L282.9 462.3L278.9 464.7L274.7 466.9L268.6 455.4L272.2 453.5ZM192.4 442.1L185.3 453.0L181.8 450.8L178.5 448.4L186.7 438.2L189.5 440.2ZM123.4 388.6L110.0 389.2L109.9 383.5L110.0 377.8L123.4 378.4L123.2 383.5ZM173.8 324.2L164.8 314.7L168.3 311.7L172.0 308.9L180.1 319.1L176.9 321.6ZM188.9 287.7L183.8 275.8L189.3 273.7L194.8 271.9L198.8 284.3L193.8 285.9Z"/>
<path fill="#494949" d="M287.7 295.6L294.8 284.7L299.7 287.8L304.4 291.2L296.2 301.4L292.0 298.4ZM272.1 479.3L277.2 491.2L271.7 493.3L266.2 495.1L262.2 482.7L267.2 481.1ZM238.6 440.7L240.4 453.5L236.9 453.9L233.3 454.1L232.8 441.2L235.7 441.0ZM233.4 441.1L234.1 454.1L230.5 454.1L226.9 454.1L227.6 441.1L230.5 441.2ZM211.4 412.8L204.3 423.7L202.3 422.5L200.4 421.1L208.6 410.9L210.0 411.9ZM208.9 411.1L200.8 421.4L198.9 419.9L197.1 418.4L206.2 408.9L207.5 410.0ZM206.5 409.2L197.5 418.7L195.8 417.1L194.1 415.4L204.0 406.8L205.2 408.0ZM179.4 319.7L171.2 309.4L175.0 306.7L178.9 304.2L186.0 315.1L182.7 317.3ZM222.6 349.7L219.6 337.1L222.0 336.7L224.3 336.3L226.0 349.1L224.3 349.4ZM225.6 349.2L223.8 336.4L226.2 336.1L228.6 336.0L229.1 348.9L227.4 349.0ZM222.4 326.3L220.6 313.5L224.1 313.1L227.7 312.9L228.2 325.8L225.3 326.0ZM228.8 348.9L228.1 336.0L230.5 335.9L232.9 336.0L232.2 348.9L230.5 348.9ZM227.6 325.9L226.9 312.9L230.5 312.9L234.1 312.9L233.4 325.9L230.5 325.8Z"/>
<path fill="#4a4a4a" d="M230.0 395.0L229.5 408.0L228.3 407.9L227.1 407.7L228.9 394.9L229.5 395.0ZM225.9 498.8L225.4 511.7L219.0 511.4L212.5 510.7L214.3 497.8L220.1 498.5ZM229.0 395.0L227.3 407.8L226.1 407.6L224.9 407.4L227.9 394.8L228.4 394.9ZM228.0 394.8L225.2 407.4L224.0 407.1L222.8 406.8L226.9 394.5L227.4 394.6ZM227.0 394.5L223.0 406.9L221.9 406.5L220.7 406.1L225.9 394.1L226.4 394.3ZM226.0 394.2L221.0 406.2L219.8 405.7L218.7 405.1L224.9 393.7L225.5 394.0ZM225.1 393.8L219.0 405.3L217.9 404.7L216.8 404.1L224.0 393.2L224.5 393.5ZM126.9 461.3L116.4 469.2L112.2 463.7L108.3 458.0L119.6 451.2L123.1 456.3ZM117.5 468.4L107.0 476.3L102.4 470.4L98.2 464.2L109.5 457.3L113.4 462.9ZM168.7 329.2L158.8 320.5L162.1 317.2L165.5 314.1L174.5 323.6L171.5 326.4Z"/>
<path fill="#4b4b4b" d="M281.6 447.3L289.8 457.6L286.0 460.3L282.1 462.8L275.0 451.9L278.3 449.7ZM227.8 452.7L227.2 465.6L223.1 465.4L219.0 464.9L220.8 452.1L224.3 452.5ZM181.9 332.7L172.9 323.2L176.0 320.5L179.2 318.0L187.3 328.3L184.5 330.5Z"/>
<path fill="#4c4c4c" d="M241.0 303.3L242.6 290.5L247.3 291.2L251.9 292.1L249.0 304.7L245.0 303.9ZM253.7 378.4L266.8 375.5L267.1 377.2L267.4 379.0L254.1 380.6L254.0 379.5ZM254.1 380.4L267.3 378.6L267.5 380.4L267.7 382.1L254.3 382.6L254.2 381.5ZM313.1 372.5L326.4 370.8L326.9 375.3L327.2 379.9L313.9 380.4L313.6 376.5ZM254.3 382.4L267.6 381.7L267.7 383.5L267.6 385.3L254.3 384.6L254.3 383.5ZM337.7 387.5L351.0 388.0L350.6 393.7L350.0 399.4L336.8 397.6L337.3 392.6ZM280.9 414.3L292.2 421.1L290.2 424.0L288.1 426.8L277.6 418.9L279.3 416.6ZM278.0 418.4L288.6 426.2L286.4 428.9L284.0 431.5L274.2 422.7L276.1 420.6ZM240.2 452.1L242.0 464.9L237.9 465.4L233.8 465.6L233.2 452.7L236.7 452.5ZM236.9 510.3L237.6 523.2L230.5 523.4L223.4 523.2L224.1 510.3L230.5 510.5ZM237.5 521.8L238.1 534.7L230.5 534.9L222.9 534.7L223.5 521.8L230.5 522.0ZM179.7 461.6L172.6 472.6L168.2 469.7L163.9 466.7L172.1 456.5L175.8 459.1ZM172.9 457.0L164.8 467.3L160.6 464.1L156.7 460.7L165.7 451.2L169.2 454.2ZM150.5 469.0L141.5 478.6L136.8 474.3L132.3 469.7L142.2 461.0L146.2 465.1ZM159.6 374.8L146.3 373.2L146.9 369.2L147.8 365.3L160.8 368.2L160.1 371.5ZM116.7 349.4L103.9 345.5L106.0 339.6L108.3 333.8L120.6 338.8L118.5 344.0Z"/>
<path fill="#4d4d4d" d="M230.5 383.5L231.0 370.6L231.7 370.6L232.3 370.7L230.5 383.5L230.5 383.5ZM230.5 383.5L232.2 370.7L232.8 370.8L233.5 370.9L230.5 383.5L230.5 383.5ZM230.5 383.5L233.3 370.9L234.0 371.0L234.6 371.2L230.5 383.5L230.5 383.5ZM230.5 383.5L234.4 371.2L235.1 371.4L235.7 371.6L230.5 383.5L230.5 383.5ZM230.5 383.5L235.5 371.5L236.1 371.8L236.7 372.1L230.5 383.5L230.5 383.5ZM230.5 383.5L236.6 372.0L237.2 372.3L237.7 372.6L230.5 383.5L230.5 383.5ZM326.7 297.2L336.5 288.5L341.1 293.6L345.5 298.9L334.9 306.7L330.9 301.9ZM335.4 289.4L345.2 280.6L350.3 286.2L355.0 291.9L344.4 299.8L340.0 294.5ZM259.7 420.0L267.9 430.2L265.5 431.9L263.0 433.5L255.9 422.6L257.8 421.3ZM256.3 422.3L263.6 433.2L261.0 434.7L258.4 436.1L252.3 424.6L254.3 423.5ZM151.2 484.6L143.2 494.9L137.7 490.7L132.4 486.1L141.4 476.7L146.2 480.8ZM144.0 493.8L136.0 504.1L130.0 499.5L124.3 494.6L133.3 485.1L138.6 489.6ZM109.7 432.7L97.4 437.7L94.8 431.3L92.5 424.9L105.3 421.0L107.3 426.9ZM98.7 437.2L86.4 442.2L83.6 435.3L81.1 428.3L93.9 424.5L96.1 430.9ZM136.0 396.0L122.8 397.8L122.2 392.7L121.9 387.5L135.2 387.0L135.5 391.5ZM105.3 346.0L92.5 342.1L94.8 335.7L97.4 329.3L109.7 334.3L107.3 340.1ZM93.9 342.5L81.1 338.7L83.6 331.7L86.4 324.8L98.7 329.8L96.1 336.1ZM186.4 344.7L176.5 336.1L178.9 333.6L181.5 331.2L190.5 340.7L188.4 342.7ZM190.0 341.2L180.9 331.7L183.6 329.4L186.4 327.2L194.5 337.5L192.2 339.3ZM202.7 332.5L196.5 321.0L199.7 319.5L202.9 318.1L208.0 330.1L205.3 331.2ZM207.4 330.3L202.2 318.4L205.6 317.1L208.9 316.0L212.9 328.4L210.1 329.3Z"/>
<path fill="#4e4e4e" d="M275.0 315.1L282.1 304.2L286.0 306.7L289.8 309.4L281.6 319.7L278.3 317.3ZM325.8 387.0L339.1 387.5L338.8 392.7L338.2 397.8L325.0 396.0L325.5 391.5ZM267.0 429.1L275.2 439.3L272.3 441.4L269.4 443.3L262.3 432.3L264.7 430.8ZM262.8 432.0L270.0 442.9L267.0 444.7L263.8 446.3L257.7 434.8L260.3 433.5ZM288.6 470.8L295.8 481.7L290.8 484.7L285.6 487.4L279.5 475.9L284.1 473.5ZM203.5 447.6L198.4 459.6L194.6 458.0L190.9 456.2L197.2 444.8L200.3 446.3ZM230.5 383.5L223.4 394.4L222.8 394.1L222.3 393.7L230.5 383.5L230.5 383.5ZM217.8 403.0L210.7 414.0L209.2 413.0L207.7 412.0L215.9 401.7L216.8 402.4ZM230.5 383.5L222.4 393.8L221.9 393.4L221.4 393.0L230.5 383.5L230.5 383.5ZM216.1 401.9L208.0 412.2L206.6 411.1L205.2 409.9L214.3 400.4L215.2 401.2ZM230.5 383.5L221.5 393.1L221.1 392.6L220.6 392.2L230.5 383.5L230.5 383.5ZM214.5 400.6L205.5 410.2L204.2 409.0L203.0 407.7L212.8 399.0L213.6 399.8ZM230.5 383.5L220.7 392.3L220.3 391.8L219.9 391.3L230.5 383.5L230.5 383.5ZM230.5 383.5L220.0 391.4L219.6 390.9L219.2 390.4L230.5 383.5L230.5 383.5ZM230.5 383.5L219.3 390.5L218.9 390.0L218.6 389.4L230.5 383.5L230.5 383.5ZM113.9 325.5L102.0 319.6L105.4 313.6L109.1 307.7L120.3 314.7L117.0 320.0ZM103.3 320.2L91.4 314.3L95.1 307.8L99.1 301.5L110.3 308.5L106.7 314.2ZM186.7 328.8L178.5 318.6L181.8 316.2L185.3 314.0L192.4 324.9L189.5 326.8Z"/>
<path fill="#4f4f4f" d="M348.7 398.0L362.0 399.6L361.0 405.8L359.7 411.9L346.7 409.1L347.9 403.5ZM283.5 430.0L293.4 438.7L290.5 441.6L287.5 444.4L278.5 434.8L281.1 432.5ZM165.7 466.2L157.6 476.5L153.0 473.0L148.6 469.2L157.6 459.7L161.6 463.1ZM151.8 454.1L142.0 462.9L138.1 458.6L134.4 454.1L145.1 446.3L148.3 450.3ZM111.5 389.1L98.1 389.8L98.0 383.5L98.1 377.2L111.5 377.9L111.3 383.5ZM195.2 352.5L185.3 343.8L187.4 341.7L189.5 339.7L198.5 349.3L196.8 350.9ZM198.1 349.6L189.0 340.1L191.3 338.2L193.6 336.4L201.7 346.7L199.9 348.1ZM220.8 314.9L219.0 302.1L223.1 301.6L227.2 301.4L227.8 314.3L224.3 314.5Z"/>
<path fill="#505050" d="M325.7 379.0L339.1 378.4L339.2 383.5L339.1 388.6L325.7 388.0L325.8 383.5ZM208.6 317.6L204.6 305.3L208.5 304.1L212.6 303.2L215.4 315.8L212.0 316.6ZM226.4 302.8L225.8 289.9L230.5 289.8L235.2 289.9L234.6 302.8L230.5 302.7Z"/>
<path fill="#515151" d="M361.4 377.3L374.8 376.7L374.9 383.5L374.8 390.3L361.4 389.7L361.6 383.5ZM373.3 376.7L386.7 376.1L386.8 383.5L386.7 390.9L373.3 390.3L373.5 383.5ZM325.1 395.1L338.3 396.7L337.5 401.8L336.5 406.8L323.5 404.0L324.4 399.5ZM303.5 474.7L311.7 484.9L306.5 488.6L301.1 492.1L294.0 481.2L298.9 478.0ZM269.2 441.7L276.5 452.6L272.9 454.7L269.3 456.6L263.2 445.1L266.2 443.5Z"/>
<path fill="#525252" d="M230.5 383.5L241.8 390.4L241.4 390.9L241.0 391.4L230.5 383.5L230.5 383.5ZM230.5 383.5L241.1 391.3L240.7 391.8L240.3 392.3L230.5 383.5L230.5 383.5ZM230.5 383.5L240.4 392.2L239.9 392.6L239.5 393.1L230.5 383.5L230.5 383.5ZM230.5 383.5L239.6 393.0L239.1 393.4L238.6 393.8L230.5 383.5L230.5 383.5ZM230.5 383.5L238.7 393.7L238.2 394.1L237.6 394.4L230.5 383.5L230.5 383.5ZM230.5 383.5L237.7 394.4L237.2 394.7L236.6 395.0L230.5 383.5L230.5 383.5ZM143.1 461.9L133.3 470.7L129.0 466.0L124.9 461.1L135.6 453.3L139.2 457.7ZM136.3 454.2L125.8 462.2L122.0 457.1L118.4 451.9L129.7 445.0L132.9 449.7Z"/>
<path fill="#535353" d="M231.0 372.0L231.5 359.0L232.7 359.1L233.9 359.3L232.1 372.1L231.5 372.0ZM232.0 372.0L233.7 359.2L234.9 359.4L236.1 359.6L233.1 372.2L232.6 372.1ZM233.0 372.2L235.8 359.6L237.0 359.9L238.2 360.2L234.1 372.5L233.6 372.4ZM234.0 372.5L238.0 360.1L239.1 360.5L240.3 360.9L235.1 372.9L234.6 372.7ZM235.0 372.8L240.0 360.8L241.2 361.3L242.3 361.9L236.1 373.3L235.5 373.0ZM235.9 373.2L242.0 361.7L243.1 362.3L244.2 362.9L237.0 373.8L236.5 373.5ZM254.3 384.4L267.7 384.9L267.5 386.6L267.3 388.4L254.1 386.6L254.2 385.5ZM254.1 386.4L267.4 388.0L267.1 389.8L266.8 391.5L253.7 388.6L254.0 387.5ZM336.9 396.5L350.1 398.1L349.3 403.8L348.1 409.4L335.1 406.5L336.1 401.5ZM253.8 388.4L266.8 391.1L266.4 392.8L265.9 394.5L253.2 390.6L253.5 389.5ZM288.7 395.7L301.8 398.4L300.9 401.8L299.9 405.1L287.2 401.1L288.1 398.4ZM287.4 400.6L300.2 404.4L299.0 407.7L297.7 410.9L285.4 405.9L286.5 403.2ZM281.3 500.5L286.5 512.5L279.9 514.9L273.2 517.1L269.3 504.8L275.3 502.8ZM285.9 511.2L291.1 523.1L284.0 525.8L276.7 528.2L272.8 515.8L279.4 513.6ZM251.6 473.5L254.6 486.1L249.4 487.2L244.1 487.9L242.4 475.1L247.1 474.4ZM160.6 446.2L150.8 455.0L147.2 451.2L143.9 447.1L154.6 439.3L157.5 442.9ZM159.1 380.8L145.7 380.3L146.0 376.3L146.4 372.3L159.7 374.1L159.3 377.5ZM175.3 361.7L163.0 356.8L164.4 353.6L166.0 350.6L177.8 356.6L176.5 359.1ZM131.2 344.3L118.8 339.4L121.2 334.1L123.8 329.0L135.6 335.1L133.3 339.6ZM177.5 357.1L165.6 351.2L167.3 348.2L169.2 345.2L180.4 352.2L178.9 354.6Z"/>
<path fill="#545454" d="M224.1 393.3L217.0 404.2L216.0 403.5L215.0 402.8L223.2 392.6L223.7 393.0ZM223.3 392.7L215.2 403.0L214.3 402.2L213.3 401.5L222.4 392.0L222.8 392.3ZM222.5 392.1L213.5 401.6L212.6 400.8L211.8 399.9L221.7 391.3L222.1 391.7ZM221.8 391.3L212.0 400.1L211.1 399.2L210.4 398.3L221.0 390.5L221.4 390.9ZM221.1 390.6L210.5 398.5L209.8 397.5L209.1 396.5L220.4 389.7L220.7 390.1ZM220.5 389.8L209.3 396.8L208.6 395.7L208.0 394.7L219.9 388.8L220.2 389.3ZM212.7 257.7L210.9 244.9L217.9 244.1L225.0 243.7L225.5 256.6L219.1 257.0ZM211.1 246.3L209.3 233.5L216.9 232.6L224.5 232.2L225.0 245.1L218.0 245.5Z"/>
<path fill="#555555" d="M291.7 328.6L301.5 319.8L304.6 323.3L307.6 326.8L296.9 334.7L294.4 331.6ZM186.0 451.9L178.9 462.8L175.0 460.3L171.2 457.6L179.4 447.3L182.7 449.7ZM209.4 394.3L197.6 400.3L196.8 398.7L196.1 397.1L208.4 392.2L208.9 393.3ZM208.5 392.4L196.2 397.5L195.6 395.8L195.0 394.1L207.7 390.3L208.1 391.4ZM207.8 390.6L195.1 394.5L194.6 392.8L194.2 391.1L207.2 388.4L207.5 389.5ZM224.0 337.8L222.2 325.0L225.2 324.6L228.2 324.5L228.7 337.4L226.3 337.5ZM228.2 337.4L227.5 324.5L230.5 324.4L233.5 324.5L232.8 337.4L230.5 337.3Z"/>
<path fill="#565656" d="M348.6 367.8L361.8 366.1L362.5 372.3L362.9 378.6L349.6 379.1L349.2 373.4ZM230.5 383.5L243.8 384.0L243.8 384.6L243.7 385.3L230.5 383.5L230.5 383.5ZM230.5 383.5L243.7 385.1L243.6 385.7L243.5 386.4L230.5 383.5L230.5 383.5ZM230.5 383.5L243.5 386.2L243.4 386.8L243.2 387.5L230.5 383.5L230.5 383.5ZM230.5 383.5L243.2 387.3L243.0 387.9L242.8 388.5L230.5 383.5L230.5 383.5ZM230.5 383.5L242.9 388.4L242.6 389.0L242.3 389.5L230.5 383.5L230.5 383.5ZM230.5 383.5L242.4 389.4L242.1 390.0L241.7 390.5L230.5 383.5L230.5 383.5ZM334.9 460.3L345.5 468.1L341.1 473.4L336.5 478.5L326.7 469.8L330.9 465.1ZM344.4 467.2L355.0 475.1L350.3 480.8L345.2 486.4L335.4 477.6L340.0 472.5ZM279.1 434.3L288.1 443.8L285.0 446.5L281.8 449.0L273.7 438.7L276.5 436.5ZM310.8 483.8L319.0 494.0L313.3 498.1L307.5 501.9L300.4 490.9L305.7 487.5ZM318.1 492.9L326.3 503.2L320.2 507.5L313.8 511.6L306.7 500.7L312.5 497.0ZM167.0 481.2L159.9 492.1L154.5 488.6L149.3 484.9L157.5 474.7L162.1 478.0ZM158.5 475.4L150.4 485.7L145.3 481.8L140.5 477.7L149.5 468.2L153.9 471.9ZM156.7 421.2L144.9 427.2L142.8 423.1L140.9 418.9L153.3 414.0L154.9 417.6ZM197.2 322.2L190.9 310.8L194.6 309.0L198.4 307.4L203.5 319.4L200.3 320.7ZM194.1 273.6L190.0 261.3L196.2 259.5L202.5 258.1L205.3 270.7L199.7 272.0ZM217.6 292.0L215.8 279.2L221.0 278.6L226.3 278.3L226.8 291.2L222.2 291.5Z"/>
<path fill="#575757" d="M318.8 418.4L331.1 423.3L329.0 428.0L326.6 432.6L314.8 426.6L316.9 422.5ZM209.4 449.7L205.4 462.0L201.5 460.7L197.6 459.3L202.8 447.3L206.0 448.6ZM187.3 438.7L179.2 449.0L176.0 446.5L172.9 443.8L181.9 434.3L184.5 436.5ZM142.6 419.3L130.3 424.3L128.4 419.5L126.7 414.6L139.4 410.8L140.9 415.1ZM124.2 397.6L111.0 399.4L110.4 393.7L110.0 388.0L123.3 387.5L123.7 392.6ZM214.7 316.0L211.7 303.4L215.8 302.6L219.9 302.0L221.5 314.8L218.1 315.3Z"/>
<path fill="#585858" d="M304.7 420.4L316.6 426.3L314.3 430.4L311.8 434.3L300.6 427.3L302.7 423.9ZM210.4 473.7L207.5 486.4L202.4 485.2L197.3 483.7L201.4 471.4L205.8 472.7ZM192.4 455.4L186.3 466.9L182.1 464.7L178.1 462.3L185.3 451.4L188.8 453.5ZM180.1 447.9L172.0 458.1L168.3 455.3L164.8 452.3L173.8 442.8L176.9 445.4ZM166.5 451.9L157.5 461.5L153.7 457.9L150.0 454.2L159.9 445.5L163.1 448.8ZM158.5 460.5L149.5 470.0L145.2 466.1L141.2 462.0L151.0 453.3L154.7 457.0ZM155.2 440.1L144.6 448.0L141.5 443.9L138.5 439.6L149.8 432.7L152.4 436.5ZM167.3 415.8L155.4 421.8L153.6 418.2L151.9 414.5L164.3 409.7L165.7 412.8ZM105.7 422.3L93.0 426.3L91.0 419.7L89.3 413.1L102.4 410.3L103.9 416.4ZM94.3 425.8L81.6 429.8L79.5 422.7L77.7 415.5L90.7 412.8L92.4 419.3ZM135.6 313.7L124.9 305.9L129.0 301.0L133.3 296.3L143.1 305.1L139.2 309.3ZM149.5 298.8L140.5 289.3L145.3 285.2L150.4 281.3L158.5 291.6L153.9 295.1Z"/>
<path fill="#595959" d="M296.4 356.7L308.7 351.7L310.2 355.4L311.6 359.2L298.8 363.0L297.7 359.8ZM177.5 337.0L167.6 328.3L170.5 325.4L173.5 322.6L182.5 332.2L179.9 334.5ZM191.8 325.3L184.5 314.4L188.1 312.3L191.7 310.4L197.8 321.9L194.7 323.5Z"/>
<path fill="#5a5a5a" d="M278.5 332.2L287.5 322.6L290.5 325.4L293.4 328.3L283.5 337.0L281.1 334.5ZM135.3 388.0L121.9 388.6L121.8 383.5L121.9 378.4L135.3 379.0L135.2 383.5ZM200.2 365.0L189.0 358.2L190.3 356.2L191.7 354.4L202.3 362.3L201.2 363.6ZM202.0 362.6L191.4 354.8L192.9 352.9L194.5 351.2L204.3 360.0L203.1 361.2ZM145.1 320.7L134.4 312.9L138.1 308.4L142.0 304.1L151.8 312.9L148.3 316.7ZM204.0 360.2L194.1 351.6L195.8 349.9L197.5 348.3L206.5 357.8L205.2 359.0ZM230.5 383.5L224.3 372.1L224.9 371.8L225.5 371.5L230.5 383.5L230.5 383.5ZM186.0 301.8L179.8 290.4L184.6 288.1L189.4 286.0L194.5 298.0L190.2 299.8ZM230.5 383.5L225.3 371.6L225.9 371.4L226.6 371.2L230.5 383.5L230.5 383.5ZM230.5 383.5L226.4 371.2L227.0 371.0L227.7 370.9L230.5 383.5L230.5 383.5ZM230.5 383.5L227.5 370.9L228.2 370.8L228.8 370.7L230.5 383.5L230.5 383.5ZM230.5 383.5L228.7 370.7L229.3 370.6L230.0 370.6L230.5 383.5L230.5 383.5ZM230.5 383.5L229.8 370.6L230.5 370.6L231.2 370.6L230.5 383.5L230.5 383.5Z"/>
<path fill="#5b5b5b" d="M239.5 314.8L241.1 302.0L245.2 302.6L249.3 303.4L246.3 316.0L242.9 315.3ZM300.4 276.1L307.5 265.1L313.3 268.9L319.0 273.0L310.8 283.2L305.7 279.5ZM306.7 266.3L313.8 255.4L320.2 259.5L326.3 263.8L318.1 274.1L312.5 270.0ZM318.6 289.4L327.5 279.9L332.6 284.6L337.5 289.5L327.6 298.2L323.2 293.7ZM326.6 280.9L335.5 271.3L341.1 276.4L346.3 281.8L336.4 290.5L331.6 285.6ZM317.9 305.1L327.7 296.3L332.0 301.0L336.1 305.9L325.4 313.7L321.8 309.3ZM347.1 441.5L359.0 447.4L355.6 453.4L351.9 459.3L340.7 452.3L344.0 447.0ZM357.7 446.8L369.6 452.7L365.9 459.2L361.9 465.5L350.7 458.5L354.3 452.8ZM287.5 425.4L298.1 433.2L295.5 436.3L292.8 439.3L283.0 430.6L285.3 428.0ZM112.4 399.2L99.2 400.9L98.5 394.7L98.1 388.4L111.4 387.9L111.8 393.6ZM191.6 312.0L185.4 300.6L189.6 298.6L193.9 296.7L199.0 308.7L195.2 310.3Z"/>
<path fill="#5c5c5c" d="M236.9 373.7L244.0 362.8L245.0 363.5L246.0 364.2L237.8 374.4L237.3 374.0ZM237.7 374.3L245.8 364.0L246.7 364.8L247.7 365.5L238.6 375.0L238.2 374.7ZM238.5 374.9L247.5 365.4L248.4 366.2L249.2 367.1L239.3 375.7L238.9 375.3ZM239.2 375.7L249.0 366.9L249.9 367.8L250.6 368.7L240.0 376.5L239.6 376.1ZM239.9 376.4L250.5 368.5L251.2 369.5L251.9 370.5L240.6 377.3L240.3 376.9ZM240.5 377.2L251.7 370.2L252.4 371.3L253.0 372.3L241.1 378.2L240.8 377.7ZM313.8 379.6L327.1 378.9L327.3 383.5L327.1 388.1L313.8 387.4L313.9 383.5ZM198.9 399.6L187.1 405.7L186.0 403.6L185.0 401.5L197.4 396.6L198.1 398.1ZM197.5 396.9L185.2 401.9L184.4 399.8L183.6 397.6L196.3 393.7L196.9 395.3ZM196.5 394.1L183.8 398.0L183.1 395.8L182.5 393.5L195.6 390.8L196.0 392.5ZM149.2 401.4L136.1 404.3L135.2 399.8L134.5 395.2L147.7 393.6L148.4 397.5ZM100.6 400.7L87.4 402.5L86.6 395.7L86.2 388.9L99.5 388.4L99.9 394.6ZM88.8 402.3L75.6 404.1L74.7 396.7L74.3 389.3L87.6 388.8L88.0 395.6ZM147.2 387.4L133.9 388.1L133.7 383.5L133.9 378.9L147.2 379.6L147.1 383.5ZM139.4 356.2L126.7 352.4L128.4 347.5L130.3 342.7L142.6 347.7L140.9 351.9ZM128.0 352.8L115.3 349.0L117.2 343.6L119.3 338.2L131.6 343.2L129.7 348.0ZM164.3 357.3L151.9 352.5L153.6 348.8L155.4 345.2L167.3 351.2L165.7 354.2ZM150.2 283.2L142.0 273.0L147.7 268.9L153.5 265.1L160.6 276.1L155.3 279.5ZM142.9 274.1L134.7 263.8L140.8 259.5L147.2 255.4L154.3 266.3L148.5 270.0Z"/>
<path fill="#5d5d5d" d="M125.1 437.3L113.3 443.4L110.4 437.7L107.8 432.0L120.2 427.1L122.5 432.3ZM153.6 414.8L141.3 419.8L139.6 415.6L138.1 411.2L150.8 407.4L152.1 411.1ZM159.7 392.9L146.4 394.7L146.0 390.7L145.7 386.7L159.1 386.2L159.3 389.5Z"/>
<path fill="#5e5e5e" d="M360.5 399.4L373.8 401.0L372.7 407.8L371.3 414.5L358.3 411.6L359.6 405.5ZM372.4 400.9L385.6 402.5L384.5 409.8L383.0 417.0L369.9 414.2L371.3 407.6ZM331.3 445.0L342.6 451.9L339.0 457.1L335.2 462.2L324.7 454.2L328.1 449.7ZM166.9 351.8L155.0 345.9L157.0 342.4L159.2 339.0L170.4 346.0L168.6 348.9ZM190.2 358.9L178.9 352.0L180.5 349.6L182.3 347.3L192.8 355.2L191.5 357.0ZM192.5 355.6L181.9 347.8L183.8 345.5L185.7 343.3L195.5 352.1L194.0 353.8Z"/>
<path fill="#5f5f5f" d="M360.4 366.3L373.6 364.5L374.4 371.3L374.8 378.1L361.5 378.6L361.1 372.4ZM372.2 364.7L385.4 362.9L386.3 370.3L386.7 377.7L373.4 378.2L373.0 371.4ZM349.5 377.9L362.9 377.2L363.0 383.5L362.9 389.8L349.5 389.1L349.7 383.5ZM234.6 464.2L235.2 477.1L230.5 477.2L225.8 477.1L226.4 464.2L230.5 464.3ZM146.2 426.6L134.4 432.6L132.0 428.0L129.9 423.3L142.2 418.4L144.1 422.5Z"/>
<path fill="#606060" d="M325.9 431.0L337.8 436.9L334.9 441.9L331.9 446.8L320.7 439.8L323.4 435.4ZM291.6 495.8L297.9 507.2L291.5 510.3L285.1 513.0L280.0 501.0L285.9 498.6ZM297.2 506.0L303.4 517.4L296.6 520.7L289.6 523.7L284.5 511.7L290.9 509.0ZM227.3 464.2L226.8 477.1L222.1 476.9L217.4 476.4L219.2 463.5L223.2 464.0ZM217.1 486.6L215.4 499.4L209.6 498.5L203.8 497.4L206.7 484.8L211.9 485.8ZM188.3 405.0L176.5 411.1L175.2 408.5L174.0 405.8L186.4 400.9L187.3 403.0ZM186.6 401.4L174.3 406.4L173.2 403.7L172.2 401.0L185.0 397.2L185.7 399.3ZM147.7 373.4L134.5 371.8L135.2 367.2L136.1 362.7L149.2 365.6L148.4 369.5ZM173.5 341.6L162.9 333.8L165.5 330.7L168.2 327.7L178.0 336.4L175.7 339.0Z"/>
<path fill="#616161" d="M283.2 356.6L295.0 350.6L296.6 353.6L298.0 356.8L285.7 361.7L284.5 359.1ZM285.4 361.1L297.7 356.1L299.0 359.3L300.2 362.6L287.4 366.4L286.5 363.8ZM260.8 402.0L272.0 408.8L270.7 410.8L269.3 412.6L258.7 404.7L259.8 403.4ZM270.8 408.1L282.1 415.0L280.5 417.4L278.7 419.7L268.2 411.8L269.5 410.0ZM259.0 404.4L269.6 412.2L268.1 414.1L266.5 415.8L256.7 407.0L257.9 405.8ZM268.5 411.4L279.1 419.2L277.2 421.5L275.3 423.7L265.5 414.9L267.0 413.2ZM257.0 406.8L266.9 415.4L265.2 417.1L263.5 418.7L254.5 409.2L255.8 408.0ZM274.6 422.3L284.5 430.9L282.1 433.4L279.5 435.8L270.5 426.3L272.6 424.3ZM271.0 425.8L280.1 435.3L277.4 437.6L274.6 439.8L266.5 429.5L268.8 427.7ZM213.0 399.2L203.2 408.0L202.0 406.6L200.9 405.3L211.5 397.5L212.2 398.3ZM211.7 397.6L201.1 405.6L200.0 404.2L199.0 402.7L210.3 395.8L211.0 396.7ZM210.5 396.0L199.2 403.0L198.3 401.5L197.4 400.0L209.3 394.1L209.9 395.0ZM150.4 433.5L139.1 440.5L136.4 436.1L133.8 431.6L145.7 425.7L147.9 429.7ZM120.6 428.2L108.3 433.2L106.0 427.4L103.9 421.5L116.7 417.6L118.5 423.0ZM153.3 353.0L140.9 348.1L142.8 343.9L144.9 339.8L156.7 345.8L154.9 349.4ZM142.2 306.0L132.3 297.3L136.8 292.7L141.5 288.4L150.5 298.0L146.2 301.9Z"/>
<path fill="#626262" d="M266.2 384.8L279.6 385.3L279.4 387.6L279.1 390.0L265.9 388.2L266.1 386.5ZM266.0 387.8L279.2 389.5L278.9 391.8L278.4 394.0L265.4 391.2L265.7 389.5ZM265.4 390.8L278.5 393.5L277.9 395.8L277.2 398.0L264.5 394.1L265.0 392.5ZM307.7 414.0L320.1 418.9L318.2 423.1L316.1 427.2L304.3 421.2L306.1 417.6ZM177.8 410.4L166.0 416.4L164.4 413.4L163.0 410.2L175.3 405.3L176.5 407.9ZM175.6 405.9L163.3 410.9L162.0 407.7L160.8 404.4L173.6 400.6L174.5 403.2Z"/>
<path fill="#636363" d="M281.3 305.4L288.4 294.4L292.8 297.3L297.1 300.3L288.9 310.5L285.2 307.9ZM181.0 501.0L175.9 513.0L169.5 510.3L163.1 507.2L169.4 495.8L175.1 498.6ZM176.5 511.7L171.4 523.7L164.4 520.7L157.6 517.4L163.8 506.0L170.1 509.0ZM157.6 307.3L148.6 297.8L153.0 294.0L157.6 290.5L165.7 300.8L161.6 303.9Z"/>
<path fill="#646464" d="M236.3 498.8L237.0 511.7L230.5 511.8L224.0 511.7L224.7 498.8L230.5 498.9ZM205.8 460.7L201.9 473.0L197.4 471.6L193.0 469.9L198.2 458.0L202.0 459.4ZM159.1 386.9L145.8 387.5L145.7 383.5L145.8 379.5L159.1 380.1L159.0 383.5ZM184.3 277.1L179.1 265.2L185.2 262.9L191.3 260.9L195.3 273.2L189.7 275.0Z"/>
<path fill="#656565" d="M337.6 378.4L351.0 377.8L351.1 383.5L351.0 389.2L337.6 388.6L337.8 383.5ZM294.1 415.2L306.0 421.1L304.0 424.6L301.8 428.0L290.6 421.0L292.4 418.1ZM286.1 485.6L292.3 497.0L286.5 499.8L280.6 502.3L275.5 490.4L280.9 488.1ZM182.5 434.8L173.5 444.4L170.5 441.6L167.6 438.7L177.5 430.0L179.9 432.5Z"/>
<path fill="#666666" d="M263.3 482.4L267.4 494.7L261.7 496.3L256.0 497.7L253.2 485.0L258.3 483.8ZM198.7 432.3L191.6 443.3L188.7 441.4L185.8 439.3L194.0 429.1L196.3 430.8ZM194.5 429.5L186.4 439.8L183.6 437.6L180.9 435.3L190.0 425.8L192.2 427.7ZM102.7 411.6L89.7 414.5L88.3 407.8L87.2 401.0L100.5 399.4L101.4 405.5ZM91.1 414.2L78.0 417.0L76.5 409.8L75.4 402.5L88.6 400.9L89.7 407.6ZM164.8 301.4L156.6 291.2L161.3 287.8L166.2 284.7L173.3 295.6L169.0 298.4Z"/>
<path fill="#676767" d="M276.7 489.9L281.9 501.8L275.8 504.1L269.7 506.1L265.7 493.8L271.3 492.0ZM229.6 406.6L229.1 419.5L227.3 419.4L225.5 419.2L227.3 406.4L228.4 406.5ZM227.5 406.4L225.8 419.2L224.0 419.0L222.3 418.6L225.2 406.0L226.4 406.2ZM225.5 406.1L222.6 418.7L220.9 418.3L219.1 417.8L223.2 405.5L224.3 405.8ZM176.0 486.2L169.9 497.7L164.2 494.6L158.7 491.4L165.9 480.5L170.9 483.5ZM117.0 418.8L104.3 422.7L102.5 416.7L101.0 410.6L114.0 407.9L115.4 413.4Z"/>
<path fill="#686868" d="M221.5 452.2L219.9 465.0L215.8 464.4L211.7 463.6L214.7 451.0L218.1 451.7ZM191.7 504.8L187.8 517.1L181.1 514.9L174.5 512.5L179.7 500.5L185.7 502.8ZM188.2 515.8L184.3 528.2L177.0 525.8L169.9 523.1L175.1 511.2L181.6 513.6ZM137.5 404.0L124.5 406.8L123.5 401.8L122.7 396.7L135.9 395.1L136.6 399.5ZM224.9 373.3L218.7 361.9L219.8 361.3L221.0 360.8L226.0 372.8L225.5 373.0ZM225.9 372.9L220.7 360.9L221.9 360.5L223.0 360.1L227.0 372.5L226.4 372.7ZM226.9 372.5L222.8 360.2L224.0 359.9L225.2 359.6L228.0 372.2L227.4 372.4ZM227.9 372.2L224.9 359.6L226.1 359.4L227.3 359.2L229.0 372.0L228.4 372.1ZM225.2 361.0L222.3 348.4L224.0 348.0L225.8 347.8L227.5 360.6L226.4 360.8ZM228.9 372.1L227.1 359.3L228.3 359.1L229.5 359.0L230.0 372.0L229.5 372.0ZM227.3 360.6L225.5 347.8L227.3 347.6L229.1 347.5L229.6 360.4L228.4 360.5ZM229.9 372.0L229.3 359.1L230.5 359.0L231.7 359.1L231.1 372.0L230.5 372.0ZM229.3 360.4L228.7 347.5L230.5 347.5L232.3 347.5L231.7 360.4L230.5 360.4ZM224.7 268.2L224.0 255.3L230.5 255.2L237.0 255.3L236.3 268.2L230.5 268.1Z"/>
<path fill="#696969" d="M310.5 298.0L319.5 288.4L324.2 292.7L328.7 297.3L318.8 306.0L314.8 301.9ZM277.7 377.2L290.9 375.5L291.3 378.3L291.5 381.2L278.1 381.7L278.0 379.5ZM278.1 381.2L291.4 380.6L291.5 383.5L291.4 386.4L278.1 385.8L278.2 383.5ZM336.5 436.3L348.4 442.2L345.3 447.7L341.9 453.0L330.7 446.0L333.7 441.2ZM212.9 462.5L210.1 475.1L205.5 474.0L200.9 472.7L205.0 460.4L208.9 461.5ZM210.3 371.2L199.0 364.3L200.0 362.8L201.1 361.4L211.7 369.4L211.0 370.3ZM211.5 369.5L200.9 361.7L202.0 360.4L203.2 359.0L213.0 367.8L212.2 368.7ZM212.8 368.0L203.0 359.3L204.2 358.0L205.5 356.8L214.5 366.4L213.6 367.2ZM157.5 292.3L149.3 282.1L154.5 278.4L159.9 274.9L167.0 285.8L162.1 289.0Z"/>
<path fill="#6a6a6a" d="M311.8 365.6L324.9 362.7L325.8 367.2L326.5 371.8L313.3 373.4L312.6 369.5ZM230.5 383.5L217.2 383.0L217.2 382.4L217.3 381.7L230.5 383.5L230.5 383.5ZM230.5 383.5L217.3 381.9L217.4 381.3L217.5 380.6L230.5 383.5L230.5 383.5ZM230.5 383.5L217.5 380.8L217.6 380.2L217.8 379.5L230.5 383.5L230.5 383.5ZM230.5 383.5L217.8 379.7L218.0 379.1L218.2 378.5L230.5 383.5L230.5 383.5ZM230.5 383.5L218.1 378.6L218.4 378.0L218.7 377.5L230.5 383.5L230.5 383.5ZM230.5 383.5L218.6 377.6L218.9 377.0L219.3 376.5L230.5 383.5L230.5 383.5Z"/>
<path fill="#6b6b6b" d="M313.3 393.6L326.5 395.2L325.8 399.8L324.9 404.3L311.8 401.4L312.6 397.5ZM351.9 431.5L364.2 436.4L361.4 442.6L358.3 448.7L346.5 442.7L349.3 437.2ZM362.9 435.8L375.3 440.7L372.2 447.5L368.8 454.1L357.0 448.1L360.1 442.0ZM254.8 408.9L263.9 418.4L262.1 419.9L260.2 421.4L252.1 411.1L253.5 410.0ZM252.4 410.9L260.6 421.1L258.7 422.5L256.7 423.7L249.6 412.8L251.0 411.9ZM249.9 412.6L257.1 423.5L255.0 424.7L252.9 425.8L246.8 414.3L248.4 413.5ZM215.4 451.2L212.6 463.8L208.5 462.9L204.6 461.7L208.6 449.4L212.0 450.4ZM131.6 423.8L119.3 428.8L117.2 423.4L115.3 418.0L128.0 414.2L129.7 419.0ZM99.6 389.7L86.2 390.3L86.1 383.5L86.2 376.7L99.6 377.3L99.4 383.5ZM87.7 390.3L74.3 390.9L74.2 383.5L74.3 376.1L87.7 376.7L87.5 383.5ZM137.3 364.0L124.3 361.3L125.5 356.3L127.0 351.3L139.7 355.3L138.4 359.6ZM151.0 313.7L141.2 305.0L145.2 300.9L149.5 297.0L158.5 306.5L154.7 310.0ZM214.3 269.2L212.5 256.3L219.0 255.6L225.4 255.3L225.9 268.2L220.1 268.5Z"/>
<path fill="#6c6c6c" d="M298.8 404.0L311.6 407.8L310.2 411.6L308.7 415.3L296.4 410.3L297.7 407.2ZM135.6 431.9L123.8 438.0L121.2 432.9L118.8 427.6L131.2 422.7L133.3 427.4Z"/>
<path fill="#6d6d6d" d="M219.9 416.6L216.0 428.9L213.7 428.2L211.5 427.3L216.6 415.4L218.3 416.0ZM217.0 415.6L211.9 427.5L209.8 426.6L207.6 425.6L213.8 414.1L215.4 414.9ZM214.2 414.3L208.1 425.8L206.0 424.7L203.9 423.5L211.1 412.6L212.6 413.5ZM160.8 398.8L147.8 401.7L146.9 397.8L146.3 393.8L159.6 392.2L160.1 395.5ZM225.8 291.3L225.2 278.4L230.5 278.2L235.8 278.4L235.2 291.3L230.5 291.2Z"/>
<path fill="#6e6e6e" d="M296.7 409.7L309.1 414.5L307.4 418.2L305.6 421.8L293.7 415.8L295.3 412.8ZM235.2 475.7L235.8 488.6L230.5 488.8L225.2 488.6L225.8 475.7L230.5 475.8ZM174.5 443.4L165.5 452.9L162.1 449.8L158.8 446.5L168.7 437.8L171.5 440.6ZM139.7 411.7L127.0 415.7L125.5 410.7L124.3 405.7L137.3 403.0L138.4 407.4ZM208.3 342.7L202.0 331.2L204.7 329.9L207.4 328.8L212.5 340.8L210.4 341.7ZM212.0 340.9L206.9 329.0L209.6 328.0L212.5 327.0L216.4 339.4L214.2 340.1Z"/>
<path fill="#6f6f6f" d="M300.4 320.8L310.2 312.0L313.8 315.8L317.1 319.9L306.4 327.7L303.5 324.1ZM313.9 386.6L327.2 387.1L326.9 391.7L326.4 396.2L313.1 394.5L313.6 390.5ZM295.1 480.5L302.3 491.4L296.8 494.6L291.1 497.7L285.0 486.2L290.1 483.5ZM186.9 465.6L180.8 477.1L176.2 474.7L171.6 472.0L178.9 461.1L182.8 463.5ZM160.4 427.3L149.2 434.3L146.7 430.4L144.4 426.3L156.3 420.4L158.3 423.9Z"/>
<path fill="#707070" d="M329.8 422.7L342.2 427.6L339.8 432.9L337.2 438.0L325.4 431.9L327.7 427.4ZM199.0 458.3L193.9 470.3L189.6 468.4L185.4 466.4L191.6 455.0L195.2 456.7ZM142.2 348.6L129.9 343.7L132.0 339.0L134.4 334.4L146.2 340.4L144.1 344.5Z"/>
<path fill="#717171" d="M295.3 451.2L304.3 460.7L300.4 464.1L296.2 467.3L288.1 457.0L291.8 454.2ZM169.4 271.2L163.1 259.8L169.5 256.7L175.9 254.0L181.0 266.0L175.1 268.4ZM163.8 261.0L157.6 249.6L164.4 246.3L171.4 243.3L176.5 255.3L170.1 258.0Z"/>
<path fill="#727272" d="M226.4 487.3L225.9 500.2L220.0 499.9L214.1 499.2L215.9 486.4L221.2 487.0ZM181.5 475.9L175.4 487.4L170.2 484.7L165.2 481.7L172.4 470.8L176.9 473.5ZM185.1 397.6L172.4 401.6L171.6 398.8L170.9 396.0L183.9 393.3L184.5 395.4ZM184.0 393.7L171.0 396.6L170.4 393.8L170.0 390.9L183.2 389.3L183.6 391.5ZM172.4 296.2L165.2 285.3L170.2 282.3L175.4 279.6L181.5 291.1L176.9 293.5Z"/>
<path fill="#737373" d="M310.2 407.4L322.9 411.2L321.4 415.6L319.7 419.8L307.4 414.8L308.9 411.1ZM170.4 421.0L159.2 428.0L157.0 424.6L155.0 421.1L166.9 415.2L168.6 418.1ZM135.9 371.9L122.7 370.3L123.5 365.2L124.5 360.2L137.5 363.0L136.6 367.5Z"/>
<path fill="#747474" d="M358.6 410.3L371.7 413.1L370.0 419.7L368.0 426.3L355.3 422.3L357.1 416.4ZM370.3 412.8L383.3 415.5L381.5 422.7L379.4 429.8L366.7 425.8L368.6 419.3ZM341.4 451.2L352.7 458.0L348.8 463.7L344.6 469.2L334.1 461.3L337.9 456.3ZM351.5 457.3L362.8 464.2L358.6 470.4L354.0 476.3L343.5 468.4L347.6 462.9ZM235.7 487.3L236.4 500.2L230.5 500.3L224.6 500.2L225.3 487.3L230.5 487.4ZM226.8 475.8L226.3 488.7L221.0 488.4L215.8 487.8L217.6 475.0L222.2 475.5ZM140.3 439.8L129.1 446.8L126.1 441.9L123.2 436.9L135.1 431.0L137.6 435.4Z"/>
<path fill="#757575" d="M233.2 314.3L233.8 301.4L237.9 301.6L242.0 302.1L240.2 314.9L236.7 314.5ZM347.0 407.9L360.0 410.6L358.5 416.7L356.7 422.7L344.0 418.8L345.6 413.4ZM355.7 421.0L368.5 424.9L366.2 431.3L363.6 437.7L351.3 432.7L353.7 426.9ZM367.1 424.5L379.9 428.3L377.4 435.3L374.6 442.2L362.3 437.2L364.9 430.9ZM270.6 504.4L274.7 516.7L267.9 518.6L261.0 520.2L258.2 507.6L264.4 506.1ZM274.2 515.4L278.3 527.7L271.0 529.8L263.5 531.5L260.7 518.9L267.5 517.3ZM254.3 484.8L257.2 497.4L251.4 498.5L245.6 499.4L243.9 486.6L249.1 485.8ZM128.4 415.3L115.7 419.2L114.0 413.7L112.6 408.2L125.7 405.5L126.9 410.4ZM124.1 370.5L110.9 368.9L111.7 363.2L112.9 357.6L125.9 360.5L124.9 365.5ZM215.9 280.6L214.1 267.8L220.0 267.1L225.9 266.8L226.4 279.7L221.2 280.0Z"/>
<path fill="#767676" d="M272.7 362.0L284.5 355.9L285.8 358.5L287.0 361.2L274.6 366.1L273.7 364.0ZM274.4 365.6L286.7 360.6L287.8 363.3L288.8 366.0L276.0 369.8L275.3 367.7ZM274.3 438.2L282.5 448.4L279.2 450.8L275.7 453.0L268.6 442.1L271.5 440.2ZM114.3 409.1L101.3 411.9L100.0 405.8L99.0 399.6L112.3 398.0L113.1 403.5ZM171.5 391.3L158.2 393.1L157.8 389.7L157.6 386.2L171.0 385.7L171.1 388.5ZM171.0 386.3L157.7 387.0L157.6 383.5L157.7 380.0L171.0 380.7L170.9 383.5ZM180.1 352.7L168.8 345.9L170.8 343.0L172.9 340.2L183.4 348.1L181.7 350.4ZM183.0 348.6L172.4 340.8L174.6 338.1L177.0 335.5L186.8 344.3L184.9 346.4ZM190.4 262.6L186.3 250.3L193.1 248.4L200.0 246.8L202.8 259.4L196.6 260.9ZM186.8 251.6L182.7 239.3L190.0 237.2L197.5 235.5L200.3 248.1L193.5 249.7Z"/>
<path fill="#777777" d="M234.2 291.2L234.7 278.3L240.0 278.6L245.2 279.2L243.4 292.0L238.8 291.5ZM309.2 312.9L319.0 304.1L322.9 308.4L326.6 312.9L315.9 320.7L312.7 316.7ZM240.6 389.7L251.9 396.5L251.2 397.5L250.5 398.5L239.9 390.6L240.3 390.1ZM240.0 390.5L250.6 398.3L249.9 399.2L249.0 400.1L239.2 391.3L239.6 390.9ZM239.3 391.3L249.2 399.9L248.4 400.8L247.5 401.6L238.5 392.1L238.9 391.7ZM238.6 392.0L247.7 401.5L246.7 402.2L245.8 403.0L237.7 392.7L238.2 392.3ZM237.8 392.6L246.0 402.8L245.0 403.5L244.0 404.2L236.9 393.3L237.3 393.0ZM237.0 393.2L244.2 404.1L243.1 404.7L242.0 405.3L235.9 393.8L236.5 393.5Z"/>
<path fill="#787878" d="M233.7 302.8L234.2 289.9L238.9 290.1L243.6 290.6L241.8 303.5L237.8 303.0ZM265.8 414.5L275.7 423.2L273.6 425.3L271.5 427.3L262.5 417.7L264.2 416.1ZM262.9 417.4L272.0 426.9L269.7 428.8L267.4 430.6L259.3 420.3L261.1 418.9ZM218.6 475.1L216.9 487.9L211.6 487.2L206.4 486.1L209.4 473.5L213.9 474.4ZM223.5 405.6L219.5 417.9L217.8 417.3L216.1 416.7L221.3 404.8L222.3 405.2ZM221.5 404.9L216.5 416.8L214.8 416.1L213.2 415.4L219.4 403.9L220.4 404.4ZM219.6 404.0L213.5 415.5L211.9 414.7L210.4 413.8L217.6 402.9L218.6 403.5ZM205.1 422.6L198.0 433.5L195.5 431.9L193.1 430.2L201.3 420.0L203.2 421.3ZM201.7 420.3L193.6 430.6L191.3 428.8L189.0 426.9L198.1 417.4L199.9 418.9ZM151.1 408.2L138.4 412.1L137.0 407.8L135.9 403.3L149.0 400.6L149.9 404.4Z"/>
<path fill="#797979" d="M124.5 330.7L112.6 324.8L115.7 319.3L119.1 314.0L130.3 321.0L127.3 325.8Z"/>
<path fill="#7a7a7a" d="M340.8 427.1L353.2 432.0L350.6 437.7L347.7 443.4L335.9 437.3L338.5 432.3Z"/>
<path fill="#7b7b7b" d="M344.3 417.6L357.1 421.5L355.0 427.4L352.7 433.2L340.4 428.2L342.5 423.0ZM220.0 463.7L218.4 476.5L213.7 475.8L209.1 474.9L212.0 462.3L216.0 463.1ZM164.6 410.3L152.3 415.3L150.8 411.6L149.4 407.8L162.2 404.0L163.3 407.2ZM119.6 315.8L108.3 309.0L112.2 303.3L116.4 297.8L126.9 305.7L123.1 310.7ZM109.5 309.7L98.2 302.8L102.4 296.6L107.0 290.7L117.5 298.6L113.4 304.1ZM180.5 291.6L174.3 280.2L179.5 277.6L184.9 275.4L190.0 287.3L185.2 289.4ZM174.9 281.4L168.7 270.0L174.5 267.2L180.4 264.7L185.5 276.6L180.1 278.9Z"/>
<path fill="#7c7c7c" d="M321.6 410.8L334.3 414.6L332.6 419.5L330.7 424.3L318.4 419.3L320.1 415.1ZM266.9 493.4L271.0 505.7L264.8 507.5L258.5 508.9L255.7 496.3L261.3 495.0ZM125.9 406.5L112.9 409.4L111.7 403.8L110.9 398.1L124.1 396.5L124.9 401.5Z"/>
<path fill="#7d7d7d" d="M278.1 385.3L291.5 385.8L291.3 388.7L290.9 391.5L277.7 389.8L278.0 387.5ZM277.8 389.3L291.0 390.9L290.6 393.8L290.0 396.6L277.0 393.7L277.4 391.5ZM169.3 438.4L159.5 447.2L156.4 443.7L153.4 440.2L164.1 432.3L166.6 435.4Z"/>
<path fill="#7e7e7e" d="M262.1 367.4L273.9 361.3L275.0 363.4L276.0 365.5L263.6 370.4L262.9 368.9ZM263.5 370.1L275.8 365.1L276.6 367.2L277.4 369.4L264.7 373.3L264.1 371.7ZM264.5 372.9L277.2 369.0L277.9 371.2L278.5 373.5L265.4 376.2L265.0 374.5ZM300.4 398.1L313.4 400.9L312.5 404.8L311.3 408.6L298.6 404.7L299.6 401.4ZM178.0 430.6L168.2 439.3L165.5 436.3L162.9 433.2L173.5 425.4L175.7 428.0ZM213.8 352.9L207.6 341.4L209.8 340.4L211.9 339.5L217.0 351.4L215.4 352.1ZM216.6 351.6L211.5 339.7L213.7 338.8L216.0 338.1L219.9 350.4L218.3 351.0ZM219.6 350.5L215.5 338.2L217.8 337.6L220.1 337.0L222.9 349.7L221.2 350.1Z"/>
<path fill="#7f7f7f" d="M246.7 400.4L255.8 409.9L254.4 411.1L253.0 412.2L244.9 401.9L245.8 401.2ZM245.1 401.7L253.3 412.0L251.8 413.0L250.3 414.0L243.2 403.0L244.2 402.4ZM243.4 402.9L250.6 413.8L249.1 414.7L247.5 415.5L241.4 404.0L242.4 403.5Z"/>
<path fill="#808080" d="M289.5 375.7L302.8 373.9L303.2 377.3L303.4 380.8L290.0 381.3L289.9 378.5ZM290.0 380.7L303.3 380.0L303.4 383.5L303.3 387.0L290.0 386.3L290.1 383.5ZM250.7 395.8L262.0 402.7L261.0 404.2L259.9 405.6L249.3 397.6L250.0 396.7ZM249.5 397.5L260.1 405.3L259.0 406.6L257.8 408.0L248.0 399.2L248.8 398.3ZM248.2 399.0L258.0 407.7L256.8 409.0L255.5 410.2L246.5 400.6L247.4 399.8ZM301.5 490.2L308.7 501.1L302.7 504.6L296.5 507.9L290.4 496.4L296.0 493.4ZM308.0 499.9L315.2 510.8L308.7 514.6L302.0 518.2L295.9 506.7L302.0 503.4ZM125.7 361.5L112.6 358.8L114.0 353.3L115.7 347.8L128.4 351.7L126.9 356.6Z"/>
<path fill="#818181" d="M273.7 328.3L281.8 318.0L285.0 320.5L288.1 323.2L279.1 332.7L276.5 330.5Z"/>
<path fill="#828282" d="M234.6 279.7L235.1 266.8L241.0 267.1L246.9 267.8L245.1 280.6L239.8 280.0ZM265.4 375.8L278.4 373.0L278.9 375.2L279.2 377.5L266.0 379.2L265.7 377.5ZM265.9 378.8L279.1 377.0L279.4 379.4L279.6 381.7L266.2 382.2L266.1 380.5ZM266.2 381.8L279.5 381.2L279.6 383.5L279.5 385.8L266.2 385.2L266.2 383.5ZM323.7 403.0L336.7 405.7L335.5 410.7L334.0 415.7L321.3 411.7L322.6 407.4ZM190.5 426.3L181.5 435.8L178.9 433.4L176.5 430.9L186.4 422.3L188.4 424.3ZM186.8 422.7L177.0 431.5L174.6 428.9L172.4 426.2L183.0 418.4L184.9 420.6ZM120.3 452.3L109.1 459.3L105.4 453.4L102.0 447.4L113.9 441.5L117.0 447.0ZM110.3 458.5L99.1 465.5L95.1 459.2L91.4 452.7L103.3 446.8L106.7 452.8ZM162.4 404.7L149.7 408.6L148.5 404.8L147.6 400.9L160.6 398.1L161.4 401.4ZM194.0 337.9L185.8 327.7L188.7 325.6L191.6 323.7L198.7 334.7L196.3 336.2ZM198.2 335.0L191.0 324.1L194.0 322.3L197.2 320.7L203.3 332.2L200.7 333.5Z"/>
<path fill="#838383" d="M179.7 266.5L174.5 254.5L181.1 252.1L187.8 249.9L191.7 262.2L185.7 264.2ZM175.1 255.8L169.9 243.9L177.0 241.2L184.3 238.8L188.2 251.2L181.6 253.4Z"/>
<path fill="#848484" d="M312.0 400.6L325.1 403.3L324.0 407.8L322.6 412.1L309.9 408.2L311.1 404.4ZM147.1 380.4L133.8 379.9L134.1 375.3L134.6 370.8L147.9 372.5L147.4 376.5Z"/>
<path fill="#858585" d="M232.3 337.4L232.8 324.5L235.8 324.6L238.8 325.0L237.0 337.8L234.7 337.5ZM236.5 337.7L238.1 324.9L241.1 325.3L244.0 325.9L241.1 338.5L238.8 338.0ZM333.0 414.2L345.7 418.0L343.8 423.4L341.7 428.8L329.4 423.8L331.3 419.0ZM311.5 468.2L320.5 477.7L315.7 481.8L310.6 485.7L302.5 475.4L307.1 471.9ZM228.2 441.2L227.7 454.1L224.1 453.9L220.6 453.5L222.4 440.7L225.3 441.0ZM223.0 440.8L221.4 453.6L217.8 453.1L214.3 452.4L217.3 439.8L220.2 440.3Z"/>
<path fill="#868686" d="M241.8 463.5L243.6 476.4L238.9 476.9L234.2 477.1L233.7 464.2L237.8 464.0Z"/>
<path fill="#878787" d="M202.3 471.7L198.4 484.1L193.3 482.4L188.4 480.5L193.6 468.6L197.9 470.3Z"/>
<path fill="#888888" d="M335.3 405.5L348.4 408.2L347.0 413.7L345.3 419.2L332.6 415.3L334.1 410.4ZM195.3 493.8L191.3 506.1L185.2 504.1L179.1 501.8L184.3 489.9L189.7 492.0ZM183.4 418.9L172.9 426.8L170.8 424.0L168.8 421.1L180.1 414.3L181.7 416.6ZM180.4 414.8L169.2 421.8L167.3 418.8L165.6 415.8L177.5 409.9L178.9 412.4ZM159.9 340.4L148.6 333.6L151.2 329.7L154.0 326.1L164.6 334.0L162.2 337.2Z"/>
<path fill="#898989" d="M301.3 374.1L314.6 372.3L315.0 376.3L315.3 380.3L301.9 380.8L301.7 377.5ZM301.4 392.2L314.7 393.8L314.1 397.8L313.2 401.7L300.2 398.8L300.9 395.5ZM173.8 401.1L161.1 405.1L160.1 401.8L159.2 398.4L172.3 395.7L172.9 398.4ZM172.4 396.3L159.4 399.1L158.7 395.8L158.1 392.4L171.4 390.7L171.8 393.5ZM135.1 336.0L123.2 330.1L126.1 325.1L129.1 320.2L140.3 327.2L137.6 331.6ZM219.4 363.1L213.2 351.6L214.8 350.9L216.5 350.2L221.5 362.1L220.4 362.6ZM221.3 362.2L216.1 350.3L217.8 349.7L219.5 349.1L223.5 361.4L222.3 361.8ZM223.2 361.5L219.1 349.2L220.9 348.7L222.6 348.3L225.5 360.9L224.3 361.2Z"/>
<path fill="#8a8a8a" d="M301.9 380.1L315.2 379.5L315.3 383.5L315.2 387.5L301.9 386.9L302.0 383.5Z"/>
<path fill="#8b8b8b" d="M149.8 334.3L138.5 327.4L141.5 323.1L144.6 319.0L155.2 326.9L152.4 330.5Z"/>
<path fill="#8c8c8c" d="M256.9 496.0L259.9 508.7L253.5 509.9L247.1 510.8L245.4 498.0L251.2 497.2ZM259.5 507.3L262.5 519.9L255.6 521.3L248.6 522.3L246.9 509.5L253.3 508.5ZM262.2 518.6L265.1 531.2L257.6 532.6L250.1 533.7L248.4 520.9L255.3 519.9Z"/>
<path fill="#8d8d8d" d="M275.9 369.4L288.6 365.4L289.4 368.2L290.1 371.0L277.1 373.7L276.5 371.6ZM277.0 373.3L290.0 370.4L290.6 373.2L291.0 376.1L277.8 377.7L277.4 375.5ZM164.6 433.0L154.0 440.9L151.2 437.3L148.6 433.4L159.9 426.6L162.2 429.8ZM130.3 446.0L119.1 453.0L115.7 447.7L112.6 442.2L124.5 436.3L127.3 441.2Z"/>
<path fill="#909090" d="M198.8 482.7L194.8 495.1L189.3 493.3L183.8 491.2L188.9 479.3L193.8 481.1Z"/>
<path fill="#919191" d="M248.3 509.3L250.1 522.1L243.1 522.9L236.0 523.3L235.5 510.4L241.9 510.0ZM249.9 520.7L251.7 533.5L244.1 534.4L236.5 534.8L236.0 521.9L243.0 521.5ZM159.5 276.8L152.3 265.9L158.3 262.4L164.5 259.1L170.6 270.6L165.0 273.6ZM153.0 267.1L145.8 256.2L152.3 252.4L159.0 248.8L165.1 260.3L159.0 263.6Z"/>
<path fill="#929292" d="M301.9 386.2L315.3 386.7L315.0 390.7L314.6 394.7L301.3 392.9L301.7 389.5ZM246.7 497.8L248.5 510.7L242.0 511.4L235.6 511.7L235.1 498.8L240.9 498.5ZM123.3 379.5L110.0 379.0L110.4 373.3L111.0 367.6L124.2 369.4L123.7 374.4ZM165.9 286.5L158.7 275.6L164.2 272.4L169.9 269.3L176.0 280.8L170.9 283.5Z"/>
<path fill="#939393" d="M303.4 459.7L312.4 469.2L308.0 473.0L303.4 476.5L295.3 466.2L299.4 463.1ZM114.0 359.1L101.0 356.4L102.5 350.3L104.3 344.3L117.0 348.2L115.4 353.6Z"/>
<path fill="#949494" d="M217.9 439.9L215.1 452.5L211.6 451.7L208.2 450.8L212.3 438.4L215.1 439.2ZM212.9 438.6L208.9 451.0L205.6 449.9L202.2 448.6L207.4 436.7L210.1 437.7ZM112.3 369.0L99.0 367.4L100.0 361.2L101.3 355.1L114.3 357.9L113.1 363.5Z"/>
<path fill="#969696" d="M225.3 279.7L224.6 266.8L230.5 266.7L236.4 266.8L235.7 279.7L230.5 279.6Z"/>
<path fill="#979797" d="M111.4 379.1L98.1 378.6L98.5 372.3L99.2 366.1L112.4 367.8L111.8 373.4Z"/>
<path fill="#989898" d="M174.0 425.9L163.5 433.9L161.0 430.6L158.7 427.3L170.0 420.4L171.9 423.2Z"/>
<path fill="#999999" d="M298.6 362.3L311.3 358.4L312.5 362.2L313.4 366.1L300.4 368.9L299.6 365.6ZM194.5 469.0L189.4 481.0L184.6 478.9L179.8 476.6L186.0 465.2L190.2 467.2ZM185.5 490.4L180.4 502.3L174.5 499.8L168.7 497.0L174.9 485.6L180.1 488.1ZM201.3 347.0L193.1 336.8L195.5 335.1L198.0 333.5L205.1 344.4L203.2 345.7ZM204.7 344.7L197.4 333.8L200.0 332.3L202.6 330.9L208.7 342.4L206.7 343.5Z"/>
<path fill="#9a9a9a" d="M302.5 306.5L311.5 297.0L315.8 300.9L319.8 305.0L310.0 313.7L306.3 310.0ZM290.0 385.7L303.4 386.2L303.2 389.7L302.8 393.1L289.5 391.3L289.9 388.5ZM289.6 390.7L302.9 392.4L302.3 395.8L301.6 399.1L288.6 396.3L289.2 393.5Z"/>
<path fill="#9c9c9c" d="M243.4 475.0L245.2 487.8L240.0 488.4L234.7 488.7L234.2 475.8L238.8 475.5ZM245.1 486.4L246.9 499.2L241.0 499.9L235.1 500.2L234.6 487.3L239.8 487.0Z"/>
<path fill="#9d9d9d" d="M286.5 323.6L295.5 314.1L298.9 317.2L302.2 320.5L292.3 329.2L289.5 326.4Z"/>
<path fill="#a2a2a2" d="M287.2 365.9L299.9 361.9L300.9 365.2L301.8 368.6L288.7 371.3L288.1 368.6ZM288.6 370.7L301.6 367.9L302.3 371.2L302.9 374.6L289.6 376.3L289.2 373.5Z"/>
<path fill="#a4a4a4" d="M102.4 356.7L89.3 353.9L91.0 347.3L93.0 340.7L105.7 344.7L103.9 350.6ZM90.7 354.2L77.7 351.5L79.5 344.3L81.6 337.2L94.3 341.2L92.4 347.7Z"/>
<path fill="#a5a5a5" d="M135.2 380.0L121.9 379.5L122.2 374.3L122.8 369.2L136.0 371.0L135.5 375.5ZM139.7 328.1L128.5 321.3L131.7 316.5L135.2 311.9L145.8 319.8L142.6 323.9Z"/>
<path fill="#a7a7a7" d="M220.4 428.6L217.6 441.3L214.7 440.6L211.8 439.8L215.9 427.5L218.2 428.1ZM216.4 427.6L212.5 440.0L209.6 439.0L206.9 438.0L212.0 426.1L214.2 426.9Z"/>
<path fill="#aaaaaa" d="M300.2 368.2L313.2 365.3L314.1 369.2L314.7 373.2L301.4 374.8L300.9 371.5Z"/>
<path fill="#ababab" d="M190.0 479.7L184.9 491.6L179.5 489.4L174.3 486.8L180.5 475.4L185.2 477.6Z"/>
<path fill="#acacac" d="M232.8 325.8L233.3 312.9L236.9 313.1L240.4 313.5L238.6 326.3L235.7 326.0ZM238.0 326.2L239.6 313.4L243.2 313.9L246.7 314.6L243.7 327.2L240.8 326.7ZM99.5 378.6L86.2 378.1L86.6 371.3L87.4 364.5L100.6 366.3L99.9 372.4ZM87.6 378.2L74.3 377.7L74.7 370.3L75.6 362.9L88.8 364.7L88.0 371.4ZM145.7 341.3L133.8 335.4L136.4 330.9L139.1 326.5L150.4 333.5L147.9 337.3ZM214.3 366.6L205.2 357.1L206.6 355.9L208.0 354.8L216.1 365.1L215.2 365.8ZM215.9 365.3L207.7 355.0L209.2 354.0L210.7 353.0L217.8 364.0L216.8 364.6ZM217.6 364.1L210.4 353.2L211.9 352.3L213.5 351.5L219.6 363.0L218.6 363.5Z"/>
<path fill="#b0b0b0" d="M100.5 367.6L87.2 366.0L88.3 359.2L89.7 352.5L102.7 355.4L101.4 361.5ZM88.6 366.1L75.4 364.5L76.5 357.2L78.0 350.0L91.1 352.8L89.7 359.4Z"/>
<path fill="#b2b2b2" d="M294.5 315.1L303.5 305.5L307.3 309.1L311.0 312.8L301.1 321.5L297.9 318.2ZM129.7 322.0L118.4 315.1L122.0 309.9L125.8 304.8L136.3 312.8L132.9 317.3Z"/>
<path fill="#b7b7b7" d="M156.3 346.6L144.4 340.7L146.7 336.6L149.2 332.7L160.4 339.7L158.3 343.1Z"/>
<path fill="#b8b8b8" d="M206.2 358.1L197.1 348.6L198.9 347.1L200.8 345.6L208.9 355.9L207.5 357.0ZM208.6 356.1L200.4 345.9L202.3 344.5L204.3 343.3L211.4 354.2L210.0 355.1ZM211.1 354.4L203.9 343.5L206.0 342.3L208.1 341.2L214.2 352.7L212.6 353.5Z"/>
<path fill="#c3c3c3" d="M229.1 418.1L228.6 431.0L226.2 430.9L223.8 430.6L225.6 417.8L227.4 418.0ZM226.0 417.9L224.3 430.7L222.0 430.3L219.6 429.9L222.6 417.3L224.3 417.6ZM222.9 417.3L220.1 430.0L217.8 429.4L215.5 428.8L219.6 416.5L221.2 416.9Z"/>
<path fill="#cbcbcb" d="M228.7 429.6L228.2 442.5L225.2 442.4L222.2 442.0L224.0 429.2L226.3 429.5ZM224.5 429.3L222.9 442.1L219.9 441.7L217.0 441.1L219.9 428.5L222.2 429.0Z"/>
<path fill="#ffffff" d="M280.9 319.1L289.0 308.9L292.7 311.7L296.2 314.7L287.2 324.2L284.1 321.6ZM288.1 310.0L296.2 299.7L300.4 302.9L304.3 306.3L295.3 315.8L291.8 312.8ZM295.3 300.8L303.4 290.5L308.0 294.0L312.4 297.8L303.4 307.3L299.4 303.9ZM302.5 291.6L310.6 281.3L315.7 285.2L320.5 289.3L311.5 298.8L307.1 295.1ZM309.8 282.4L317.8 272.1L323.3 276.3L328.6 280.9L319.6 290.3L314.8 286.2ZM317.0 273.2L325.0 262.9L331.0 267.5L336.7 272.4L327.7 281.9L322.4 277.4Z"/>
</g></g>
<ellipse cx="230.5" cy="383.5" rx="47.7" ry="46.2" fill="none" stroke="#ffffc0" stroke-width="0.95" shape-rendering="crispEdges"/>
<ellipse cx="230.5" cy="383.5" rx="95.3" ry="92.3" fill="none" stroke="#ffffc0" stroke-width="0.95" shape-rendering="crispEdges"/>
<ellipse cx="230.5" cy="383.5" rx="143.0" ry="138.5" fill="none" stroke="#ffffc0" stroke-width="0.95" shape-rendering="crispEdges"/>
<path d="M230.5 245.0L230.5 522.0M331.6 285.6L129.4 481.4M373.5 383.5L87.5 383.5M331.6 481.4L129.4 285.6" stroke="#ffffc0" stroke-width="0.95" fill="none" shape-rendering="crispEdges"/>
<path d="M230.5 383.5L306.5 297.5" stroke="#ffa500" stroke-width="0.95" fill="none" shape-rendering="crispEdges"/>
<g class="sv" text-anchor="middle">
<text x="198.4" y="243.6">R23</text>
<text x="208.8" y="261.1">J196</text>
<text x="215.9" y="264.9">J195</text>
<text x="237.9" y="257.9">G11</text>
<text x="179.4" y="277.6">G43</text>
<text x="178.1" y="283.6">G13</text>
<text x="133.2" y="288.1">E27</text>
<text x="115.0" y="302.1">R01</text>
<text x="129.6" y="314.6">C10</text>
<text x="161.4" y="312.6">C03</text>
<text x="192.9" y="310.1">J199</text>
<text x="168.4" y="324.1">C40</text>
<text x="152.2" y="328.1">C07</text>
<text x="126.5" y="323.6">G15</text>
<text x="99.0" y="330.1">C52</text>
<text x="119.5" y="332.1">J200</text>
<text x="124.5" y="332.1">E09</text>
<text x="128.9" y="332.6">C16</text>
<text x="134.9" y="338.1">C56</text>
<text x="108.7" y="345.1">C60</text>
<text x="116.0" y="342.6">E36</text>
<text x="94.0" y="353.1">C41</text>
<text x="171.9" y="361.1">E08</text>
<text x="218.8" y="297.6">C62</text>
<text x="235.2" y="296.1">R22</text>
<text x="258.2" y="295.1">C04</text>
<text x="227.9" y="302.1">C01</text>
<text x="217.4" y="305.1">E11</text>
<text x="256.9" y="301.2">C63</text>
<text x="255.8" y="310.8">E03</text>
<text x="258.6" y="311.0">G13</text>
<text x="246.9" y="321.1">E14</text>
<text x="239.1" y="342.1">C34</text>
<text x="315.9" y="291.1">E05</text>
<text x="340.4" y="344.2">R10</text>
<text x="215.4" y="373.6">C39</text>
<text x="207.4" y="388.6">C16</text>
<text x="188.9" y="393.6">E10</text>
<text x="200.0" y="393.6">C06</text>
<text x="115.2" y="397.1">R02</text>
<text x="126.7" y="407.1">G12</text>
<text x="110.8" y="423.1">E07</text>
<text x="126.0" y="434.1">C28</text>
<text x="131.4" y="442.6">C23</text>
<text x="159.8" y="444.1">C58</text>
<text x="171.8" y="414.3">G20</text>
<text x="183.9" y="414.3">C09</text>
<text x="118.2" y="455.1">J194</text>
<text x="124.5" y="462.6">G32</text>
<text x="126.5" y="466.6">C30</text>
<text x="248.8" y="393.1">G19</text>
<text x="271.4" y="393.2">R24</text>
<text x="272.2" y="398.1">R11</text>
<text x="297.9" y="397.1">G22</text>
<text x="272.1" y="414.2">G17</text>
<text x="290.9" y="417.1">C44</text>
<text x="240.8" y="451.0">E02</text>
<text x="266.1" y="472.1">E23</text>
<text x="285.9" y="472.4">R20</text>
<text x="287.8" y="473.1">R28</text>
<text x="306.8" y="481.1">G06</text>
<text x="319.9" y="481.8">C35</text>
<path d="M194.5 252.0h7M198.0 248.5v7M204.8 269.5h7M208.3 266.0v7M212.0 273.3h7M215.5 269.8v7M234.0 266.3h7M237.5 262.8v7M175.5 286.0h7M179.0 282.5v7M174.2 292.0h7M177.7 288.5v7M129.3 296.5h7M132.8 293.0v7M111.0 310.5h7M114.5 307.0v7M125.7 323.0h7M129.2 319.5v7M157.5 321.0h7M161.0 317.5v7M189.0 318.5h7M192.5 315.0v7M164.5 332.5h7M168.0 329.0v7M148.3 336.5h7M151.8 333.0v7M122.5 332.0h7M126.0 328.5v7M95.1 338.5h7M98.6 335.0v7M115.5 340.5h7M119.0 337.0v7M120.5 340.5h7M124.0 337.0v7M125.0 341.0h7M128.5 337.5v7M131.0 346.5h7M134.5 343.0v7M104.7 353.5h7M108.2 350.0v7M112.1 351.0h7M115.6 347.5v7M90.0 361.5h7M93.5 358.0v7M168.0 369.5h7M171.5 366.0v7M214.8 306.0h7M218.3 302.5v7M231.3 304.5h7M234.8 301.0v7M254.3 303.5h7M257.8 300.0v7M224.0 310.5h7M227.5 307.0v7M213.5 313.5h7M217.0 310.0v7M253.0 309.6h7M256.5 306.1v7M251.8 319.2h7M255.3 315.7v7M254.7 319.4h7M258.2 315.9v7M243.0 329.5h7M246.5 326.0v7M235.2 350.5h7M238.7 347.0v7M312.0 299.5h7M315.5 296.0v7M336.5 352.6h7M340.0 349.1v7M211.5 382.0h7M215.0 378.5v7M203.5 397.0h7M207.0 393.5v7M185.0 402.0h7M188.5 398.5v7M196.1 402.0h7M199.6 398.5v7M111.2 405.5h7M114.7 402.0v7M122.7 415.5h7M126.2 412.0v7M106.8 431.5h7M110.3 428.0v7M122.0 442.5h7M125.5 439.0v7M127.5 451.0h7M131.0 447.5v7M155.9 452.5h7M159.4 449.0v7M167.8 422.7h7M171.3 419.2v7M180.0 422.7h7M183.5 419.2v7M114.2 463.5h7M117.7 460.0v7M120.5 471.0h7M124.0 467.5v7M122.5 475.0h7M126.0 471.5v7M244.8 401.5h7M248.3 398.0v7M267.5 401.6h7M271.0 398.1v7M268.3 406.5h7M271.8 403.0v7M294.0 405.5h7M297.5 402.0v7M268.1 422.6h7M271.6 419.1v7M287.0 425.5h7M290.5 422.0v7M236.8 459.4h7M240.3 455.9v7M262.1 480.5h7M265.6 477.0v7M282.0 480.8h7M285.5 477.3v7M283.8 481.5h7M287.3 478.0v7M302.9 489.5h7M306.4 486.0v7M316.0 490.2h7M319.5 486.7v7" stroke="#00ff00" stroke-width="1" fill="none" shape-rendering="crispEdges"/>
</g>
<path d="M300.9 296.9L301.8 294.1L303.2 292.3L305.7 290.9L308.7 289.6L310 289.1L312.1 290.5L313.2 293.2L312.3 296L310.9 298.7L309.1 301.4L306.4 302.8L304.1 301.7L302.3 300.5L301.8 298.7Z" fill="#ffa500" shape-rendering="crispEdges"/>
</g>
<g id="wf">
<path d="M511.5 302.5V462M511.5 302.5h7.5M511.5 329.5h7.5M511.5 355.5h7.5M511.5 382.5h7.5M511.5 408.5h7.5M511.5 435.5h7.5M511.5 461.5h7.5M511.5 462.0L776.9 507.6L933.9 428.4L805.2 406.8M511.5 462.0L558 438.3M577.9 473.4l5 -2.6M644.2 484.8l5 -2.6M710.5 496.2l5 -2.6M801.2 496.6l-8 -1.4M823.2 485.3l-8 -1.4M845.2 474.0l-8 -1.4M867.2 462.7l-8 -1.4M889.2 451.4l-8 -1.4M911.2 440.1l-8 -1.4M933.2 428.8l-8 -1.4M535.6 449.8l6.5 1.1M557.2 438.8l6.5 1.1" stroke="#ffffc0" stroke-width="0.95" fill="none" shape-rendering="crispEdges"/>
<defs><clipPath id="wfc"><path d="M546.3 421.3L547.3 419.3L548.4 419.2L549.5 417.5L550.5 416.8L551.8 416.3L553.0 415.5L554.2 412.7L555.5 411.7L556.8 413.6L558.0 411.6L559.0 409.4L560.0 408.0L561.0 409.2L562.0 406.0L563.0 405.9L564.0 403.4L564.2 401.6L564.4 400.5L564.5 397.1L564.7 397.1L564.9 396.2L565.0 393.4L565.2 392.4L565.4 389.9L565.7 389.0L565.9 385.4L566.2 386.3L566.4 384.2L566.7 381.7L566.9 379.3L567.2 380.6L567.4 377.8L567.7 376.4L568.1 375.6L568.6 374.7L569.0 372.6L569.4 371.8L569.8 368.5L570.3 368.4L570.7 365.9L571.3 364.2L571.9 364.4L572.5 362.7L573.2 358.5L573.8 357.2L574.4 356.9L575.4 355.2L576.4 357.0L577.4 354.7L578.9 354.2L580.4 354.5L581.9 353.1L583.4 353.5L584.9 353.2L586.4 352.3L587.9 351.6L589.4 351.8L590.9 351.0L591.8 350.2L592.7 350.3L593.6 348.4L594.5 348.2L595.4 345.7L596.9 346.7L598.4 346.9L599.9 345.6L601.4 343.7L602.9 345.9L604.4 346.0L605.9 344.2L606.9 344.3L607.9 342.0L608.9 340.5L610.4 340.5L611.9 338.0L613.4 339.4L614.9 337.5L616.1 336.8L617.3 334.8L618.4 333.0L619.6 334.7L620.8 332.5L622.2 334.4L623.5 331.7L624.9 334.3L626.3 333.6L627.4 332.5L628.6 330.9L629.8 330.6L630.9 330.5L632.1 330.6L633.2 330.2L634.4 326.6L635.6 327.3L637.2 327.2L638.7 324.8L640.3 326.7L641.8 324.9L643.4 325.0L645.0 325.8L646.5 325.7L648.1 323.6L649.7 324.8L651.3 321.9L652.8 320.6L654.4 321.6L656.0 322.2L657.5 320.4L659.1 321.2L660.6 322.2L662.2 322.7L663.4 322.1L664.5 319.6L665.7 318.2L666.9 318.8L668.5 319.5L670.0 317.0L671.5 318.6L673.1 316.4L674.7 317.7L676.2 316.0L677.8 316.3L679.4 316.4L680.2 315.3L681.0 314.5L681.7 313.2L682.5 311.7L683.9 311.9L685.3 312.1L686.7 313.2L688.1 311.7L689.5 311.7L690.8 312.5L692.1 314.5L693.4 314.8L695.0 314.2L696.5 314.7L698.1 315.6L699.5 318.0L700.9 317.2L702.4 318.1L703.8 317.1L705.2 319.5L706.6 318.9L708.1 319.1L709.5 316.9L710.9 318.6L712.4 318.3L713.8 317.5L715.3 316.3L716.9 318.6L718.5 318.4L720.0 318.8L721.6 320.0L723.1 319.5L724.7 321.4L726.2 322.1L727.8 321.9L729.4 320.5L730.9 320.9L732.5 322.7L733.8 322.5L735.1 322.7L736.4 320.3L737.8 319.5L739.2 320.2L740.6 320.6L742.0 319.7L743.4 320.3L744.4 321.2L745.3 322.4L746.3 324.0L747.3 325.8L748.7 325.9L750.1 324.7L751.6 324.7L753.0 325.8L754.4 324.7L755.2 324.2L755.9 327.2L756.7 328.1L758.0 328.5L759.3 326.7L760.6 326.9L762.2 325.7L763.7 327.4L765.3 325.2L766.9 324.8L768.4 325.3L770.0 325.3L771.2 326.8L772.4 325.7L773.5 327.3L774.7 328.2L775.9 329.6L777.4 331.3L778.8 330.5L780.3 332.4L781.7 330.6L783.2 332.3L784.7 331.3L786.1 331.8L787.6 332.2L789.1 330.2L790.5 328.9L792.0 329.4L793.5 328.4L794.9 330.1L796.4 329.2L797.9 331.6L799.3 332.0L800.8 331.1L802.0 331.0L803.2 332.3L804.5 335.1L805.7 335.5L806.9 337.1L808.1 337.0L809.1 337.7L810.0 338.2L811.0 339.9L812.0 342.9L812.9 342.3L813.9 344.3L814.6 345.0L815.4 346.4L816.1 347.6L816.9 348.7L817.6 350.2L819.2 351.5L820.7 348.8L822.3 348.2L823.9 351.2L825.5 350.9L827.0 351.2L828.6 349.4L830.2 349.5L831.9 351.5L833.5 351.7L835.2 349.6L836.9 351.6L838.5 352.2L840.1 351.9L841.8 351.6L842.8 352.7L843.7 353.0L844.7 354.8L846.2 354.5L847.6 354.3L849.1 353.9L850.6 355.9L852.0 355.1L853.5 356.0L855.0 357.4L856.4 355.1L857.9 358.3L859.3 357.9L860.8 359.0L862.2 359.2L863.7 358.2L865.2 359.7L866.7 358.7L868.1 357.0L869.6 359.6L871.1 358.9L872.6 358.4L874.0 359.4L875.5 360.7L877.1 361.4L878.7 361.1L880.3 360.9L881.9 362.9L883.5 361.6L884.4 363.0L885.4 363.0L886.3 363.7L887.2 365.5L887.6 368.3L888.1 368.7L888.5 371.3L889.0 371.5L889.4 373.6L889.7 374.1L890.0 376.9L890.3 379.4L890.7 378.8L891.0 382.4L891.3 384.5L891.6 384.6L892.8 386.4L893.9 387.1L895.1 385.1L896.2 387.9L897.4 388.2L898.4 390.3L899.5 388.4L900.5 390.1L901.6 390.9L902.6 392.6L904.1 392.8L905.5 392.5L907.0 392.8L908.4 393.9L909.9 393.1L909.9 393.1L909.9 394.9L909.9 396.8L909.9 398.5L909.9 401.4L909.2 400.9L908.4 405.0L907.7 404.4L905.8 404.5L903.9 404.6L902.0 404.5L900.1 404.6L898.2 403.6L897.5 405.5L896.7 407.4L896.0 408.0L894.1 406.7L892.3 407.2L890.5 407.8L888.6 406.5L887.6 405.6L886.7 404.9L885.7 402.9L884.2 400.9L882.8 400.4L881.3 399.2L879.5 398.9L877.8 399.6L876.0 399.8L874.3 398.9L872.5 400.0L871.3 401.0L870.2 402.8L869.0 405.6L867.9 406.9L866.7 408.0L865.2 406.0L863.8 406.0L862.3 403.3L860.9 403.0L859.4 401.4L857.6 399.8L855.9 398.6L854.1 399.5L852.4 397.3L850.6 397.0L849.4 397.8L848.2 400.6L847.1 401.7L845.9 401.9L844.7 403.6L842.7 404.1L840.8 402.7L838.8 402.2L837.5 400.8L836.2 398.1L834.9 397.8L833.6 395.5L832.3 393.4L831.8 396.0L831.2 397.5L830.6 397.9L830.1 400.0L828.2 399.6L826.3 399.0L824.3 398.8L822.4 398.5L820.5 399.2L819.4 400.7L818.3 402.9L816.4 403.3L814.4 402.4L812.5 403.6L810.9 404.7L809.3 404.8L807.6 405.4L806.0 407.2L804.4 407.3L802.9 408.5L801.5 409.4L800.0 411.0L799.4 412.3L798.7 414.1L798.1 415.0L797.4 416.0L796.7 419.7L796.0 419.7L795.3 422.5L795.0 425.1L794.7 427.4L794.4 427.9L794.1 431.5L793.8 432.8L793.5 435.3L793.2 436.3L792.9 438.5L792.6 441.5L792.3 443.0L792.0 446.7L791.7 447.4L791.4 450.6L791.2 453.1L790.9 455.3L790.6 456.3L790.3 458.5L790.0 460.9L788.7 462.5L787.4 464.5L786.0 464.7L784.7 467.0L782.9 467.9L781.2 468.3L779.4 468.8L777.7 467.5L775.9 468.8L775.5 471.4L775.2 471.5L774.9 473.7L774.5 475.8L772.6 475.8L770.8 476.2L769.0 474.8L767.1 474.9L766.2 474.0L765.3 471.5L764.5 469.3L763.6 467.5L762.7 465.5L761.8 464.4L760.3 462.1L758.9 460.8L757.4 460.0L756.8 462.4L756.2 465.1L755.6 465.5L755.1 467.3L754.5 471.2L753.9 472.3L753.2 470.8L752.6 469.0L751.9 467.1L751.3 466.1L750.4 468.0L749.5 469.6L748.3 469.1L747.2 467.2L746.0 466.1L744.7 467.3L743.4 467.9L742.0 470.9L740.7 471.4L739.8 468.8L739.0 468.2L738.1 467.2L737.2 464.2L736.4 463.8L735.5 461.7L733.7 461.7L732.0 460.2L730.2 459.1L728.7 460.3L727.3 459.5L725.8 460.9L724.7 462.3L723.6 463.2L722.5 466.2L721.4 467.0L720.5 464.8L719.6 463.4L718.8 462.7L717.9 460.7L717.0 458.2L715.0 458.9L712.9 457.5L710.9 457.3L710.0 455.5L709.1 454.3L708.2 452.0L707.3 450.3L705.5 449.7L703.8 449.7L702.0 448.9L700.3 449.4L699.7 447.2L699.0 446.4L698.4 444.3L697.8 441.7L697.2 439.4L696.5 437.1L695.9 435.4L694.6 433.1L693.2 432.0L691.9 431.6L690.6 429.6L688.7 430.3L686.8 429.2L684.8 429.9L682.9 429.8L681.0 429.2L679.2 430.3L677.5 430.9L675.7 431.7L673.9 431.9L672.4 432.3L670.8 433.6L669.3 433.4L667.8 434.5L666.2 432.9L664.7 431.9L663.1 430.2L661.6 428.3L659.9 429.1L658.1 431.6L656.4 431.9L655.0 431.0L653.6 429.7L652.1 427.4L650.7 427.3L649.3 426.0L647.5 426.8L645.8 428.8L644.0 429.7L642.3 431.0L641.2 430.0L640.0 428.0L638.9 426.7L637.8 424.2L636.7 423.1L635.5 421.7L634.4 419.6L632.9 420.3L631.3 419.4L629.8 419.8L628.3 421.7L626.8 423.0L625.3 423.9L623.8 425.8L622.3 427.0L620.8 427.3L618.9 428.3L617.1 429.2L615.2 429.4L613.4 431.0L612.1 430.3L610.9 429.1L609.6 426.9L608.4 425.9L607.1 424.6L605.9 422.8L604.1 422.8L602.3 421.3L600.5 422.0L598.7 421.2L596.9 420.6L595.4 421.9L593.9 422.3L592.4 423.6L590.9 424.3L589.4 426.0L587.9 426.8L586.4 428.1L584.9 428.8L583.4 429.0L581.9 430.4L580.4 432.1L578.9 433.3L577.8 435.3L576.6 436.1L575.5 438.7L574.4 440.0L572.9 440.0L571.4 438.6L569.9 439.3L567.9 438.5L566.0 437.2L564.0 437.0L562.5 436.6L561.0 437.3L559.5 438.5L557.8 437.6L556.1 436.8L554.4 436.2L552.7 436.3L552.0 433.6L551.2 432.6L550.5 430.7L549.7 429.3L549.0 427.3Z"/></clipPath>
<linearGradient id="w0" x1="0" y1="0" x2="0" y2="1"><stop offset="0.000" stop-color="#6194cd"/><stop offset="0.250" stop-color="#5b8ec9"/><stop offset="0.500" stop-color="#5384c3"/><stop offset="0.750" stop-color="#4e7cbe"/><stop offset="1.000" stop-color="#4b77bb"/></linearGradient>
<linearGradient id="w1" x1="0" y1="0" x2="0" y2="1"><stop offset="0.000" stop-color="#6599d0"/><stop offset="0.250" stop-color="#6093cc"/><stop offset="0.500" stop-color="#5687c5"/><stop offset="0.750" stop-color="#4e7ebf"/><stop offset="1.000" stop-color="#4b77bb"/></linearGradient>
<linearGradient id="w2" x1="0" y1="0" x2="0" y2="1"><stop offset="0.000" stop-color="#6a9fd3"/><stop offset="0.200" stop-color="#679cd1"/><stop offset="0.400" stop-color="#5e91cb"/><stop offset="0.600" stop-color="#5586c4"/><stop offset="0.800" stop-color="#4e7dbe"/><stop offset="1.000" stop-color="#4b77bb"/></linearGradient>
<linearGradient id="w3" x1="0" y1="0" x2="0" y2="1"><stop offset="0.000" stop-color="#70a4d5"/><stop offset="0.125" stop-color="#70a4d5"/><stop offset="0.250" stop-color="#70a4d5"/><stop offset="0.375" stop-color="#70a4d5"/><stop offset="0.500" stop-color="#699ed2"/><stop offset="0.625" stop-color="#5e91cb"/><stop offset="0.750" stop-color="#5687c5"/><stop offset="0.875" stop-color="#4e7dbf"/><stop offset="1.000" stop-color="#4b77bb"/></linearGradient>
<linearGradient id="w4" x1="0" y1="0" x2="0" y2="1"><stop offset="0.000" stop-color="#81b2db"/><stop offset="0.100" stop-color="#7fb0da"/><stop offset="0.200" stop-color="#7caed9"/><stop offset="0.300" stop-color="#79abd8"/><stop offset="0.400" stop-color="#76a9d7"/><stop offset="0.500" stop-color="#73a7d6"/><stop offset="0.600" stop-color="#6ba0d3"/><stop offset="0.700" stop-color="#5f92cb"/><stop offset="0.800" stop-color="#5688c5"/><stop offset="0.900" stop-color="#4e7ebf"/><stop offset="1.000" stop-color="#4c78bb"/></linearGradient>
<linearGradient id="w5" x1="0" y1="0" x2="0" y2="1"><stop offset="0.000" stop-color="#a4cce7"/><stop offset="0.083" stop-color="#a0c9e5"/><stop offset="0.167" stop-color="#99c5e3"/><stop offset="0.250" stop-color="#91bfe0"/><stop offset="0.333" stop-color="#89b9de"/><stop offset="0.417" stop-color="#81b2db"/><stop offset="0.500" stop-color="#79abd8"/><stop offset="0.583" stop-color="#71a5d5"/><stop offset="0.667" stop-color="#669ad0"/><stop offset="0.750" stop-color="#5d8fca"/><stop offset="0.833" stop-color="#5587c5"/><stop offset="0.917" stop-color="#4e7ebf"/><stop offset="1.000" stop-color="#4d7abd"/></linearGradient>
<linearGradient id="w6" x1="0" y1="0" x2="0" y2="1"><stop offset="0.000" stop-color="#c4e0ef"/><stop offset="0.083" stop-color="#c1dfee"/><stop offset="0.167" stop-color="#b5d8ec"/><stop offset="0.250" stop-color="#a9cfe8"/><stop offset="0.333" stop-color="#9bc5e4"/><stop offset="0.417" stop-color="#8dbcdf"/><stop offset="0.500" stop-color="#7fb0da"/><stop offset="0.583" stop-color="#72a5d6"/><stop offset="0.667" stop-color="#669ad0"/><stop offset="0.750" stop-color="#5e91ca"/><stop offset="0.833" stop-color="#5788c5"/><stop offset="0.917" stop-color="#5080c0"/><stop offset="1.000" stop-color="#4e7cbe"/></linearGradient>
<linearGradient id="w7" x1="0" y1="0" x2="0" y2="1"><stop offset="0.000" stop-color="#c7e3f0"/><stop offset="0.083" stop-color="#c4e1ef"/><stop offset="0.167" stop-color="#b8d9ec"/><stop offset="0.250" stop-color="#abd1e9"/><stop offset="0.333" stop-color="#9dc7e4"/><stop offset="0.417" stop-color="#90bee0"/><stop offset="0.500" stop-color="#82b3db"/><stop offset="0.583" stop-color="#75a8d7"/><stop offset="0.667" stop-color="#699dd2"/><stop offset="0.750" stop-color="#6094cc"/><stop offset="0.833" stop-color="#598bc7"/><stop offset="0.917" stop-color="#5384c3"/><stop offset="1.000" stop-color="#5182c2"/></linearGradient>
<linearGradient id="w8" x1="0" y1="0" x2="0" y2="1"><stop offset="0.000" stop-color="#cbe4f0"/><stop offset="0.083" stop-color="#c6e2f0"/><stop offset="0.167" stop-color="#b9daed"/><stop offset="0.250" stop-color="#acd2e9"/><stop offset="0.333" stop-color="#9fc8e5"/><stop offset="0.417" stop-color="#92bfe1"/><stop offset="0.500" stop-color="#84b5dc"/><stop offset="0.583" stop-color="#77aad8"/><stop offset="0.667" stop-color="#6ba0d3"/><stop offset="0.750" stop-color="#6396ce"/><stop offset="0.833" stop-color="#5b8dc9"/><stop offset="0.917" stop-color="#5788c5"/><stop offset="1.000" stop-color="#5586c4"/></linearGradient>
<linearGradient id="w9" x1="0" y1="0" x2="0" y2="1"><stop offset="0.000" stop-color="#cfe7f1"/><stop offset="0.083" stop-color="#cae4f0"/><stop offset="0.167" stop-color="#beddee"/><stop offset="0.250" stop-color="#b0d4eb"/><stop offset="0.333" stop-color="#a3cbe6"/><stop offset="0.417" stop-color="#96c2e2"/><stop offset="0.500" stop-color="#89b9de"/><stop offset="0.583" stop-color="#7caed9"/><stop offset="0.667" stop-color="#70a4d5"/><stop offset="0.750" stop-color="#669ad0"/><stop offset="0.833" stop-color="#5e91cb"/><stop offset="0.917" stop-color="#5a8dc8"/><stop offset="1.000" stop-color="#598bc7"/></linearGradient>
<linearGradient id="w10" x1="0" y1="0" x2="0" y2="1"><stop offset="0.000" stop-color="#d4e9f2"/><stop offset="0.083" stop-color="#cfe6f1"/><stop offset="0.167" stop-color="#c5e1ef"/><stop offset="0.250" stop-color="#b8d9ec"/><stop offset="0.333" stop-color="#abd1e9"/><stop offset="0.417" stop-color="#9fc8e5"/><stop offset="0.500" stop-color="#93c0e1"/><stop offset="0.583" stop-color="#86b6dd"/><stop offset="0.667" stop-color="#7aadd9"/><stop offset="0.750" stop-color="#6fa3d5"/><stop offset="0.833" stop-color="#669ad0"/><stop offset="0.917" stop-color="#5f92cb"/><stop offset="1.000" stop-color="#5d90ca"/></linearGradient>
<linearGradient id="w11" x1="0" y1="0" x2="0" y2="1"><stop offset="0.000" stop-color="#d8ebf2"/><stop offset="0.083" stop-color="#d5eaf2"/><stop offset="0.167" stop-color="#cce5f1"/><stop offset="0.250" stop-color="#bfdeee"/><stop offset="0.333" stop-color="#b2d5eb"/><stop offset="0.417" stop-color="#a6cee7"/><stop offset="0.500" stop-color="#9bc6e4"/><stop offset="0.583" stop-color="#8fbee0"/><stop offset="0.667" stop-color="#83b4dc"/><stop offset="0.750" stop-color="#78abd8"/><stop offset="0.833" stop-color="#6ea2d4"/><stop offset="0.917" stop-color="#659ad0"/><stop offset="1.000" stop-color="#6194cd"/></linearGradient>
<linearGradient id="w12" x1="0" y1="0" x2="0" y2="1"><stop offset="0.000" stop-color="#dbedf3"/><stop offset="0.083" stop-color="#daecf3"/><stop offset="0.167" stop-color="#d2e8f2"/><stop offset="0.250" stop-color="#c6e2f0"/><stop offset="0.333" stop-color="#b8d9ec"/><stop offset="0.417" stop-color="#acd2e9"/><stop offset="0.500" stop-color="#a0c9e5"/><stop offset="0.583" stop-color="#94c1e1"/><stop offset="0.667" stop-color="#88b8dd"/><stop offset="0.750" stop-color="#7dafda"/><stop offset="0.833" stop-color="#72a6d6"/><stop offset="0.917" stop-color="#699dd2"/><stop offset="1.000" stop-color="#6497cf"/></linearGradient>
<linearGradient id="w13" x1="0" y1="0" x2="0" y2="1"><stop offset="0.000" stop-color="#deeef3"/><stop offset="0.091" stop-color="#ddedf3"/><stop offset="0.182" stop-color="#d5e9f2"/><stop offset="0.273" stop-color="#c9e3f0"/><stop offset="0.364" stop-color="#badbed"/><stop offset="0.455" stop-color="#aed3ea"/><stop offset="0.545" stop-color="#a1cae6"/><stop offset="0.636" stop-color="#94c1e1"/><stop offset="0.727" stop-color="#88b8dd"/><stop offset="0.818" stop-color="#7dafd9"/><stop offset="0.909" stop-color="#72a6d6"/><stop offset="1.000" stop-color="#689dd2"/></linearGradient>
<linearGradient id="w14" x1="0" y1="0" x2="0" y2="1"><stop offset="0.000" stop-color="#dfeef2"/><stop offset="0.083" stop-color="#e0eff2"/><stop offset="0.167" stop-color="#dcedf3"/><stop offset="0.250" stop-color="#d2e8f2"/><stop offset="0.333" stop-color="#c6e2ef"/><stop offset="0.417" stop-color="#b8d9ec"/><stop offset="0.500" stop-color="#acd1e9"/><stop offset="0.583" stop-color="#9fc9e5"/><stop offset="0.667" stop-color="#93c0e1"/><stop offset="0.750" stop-color="#88b8dd"/><stop offset="0.833" stop-color="#7dafda"/><stop offset="0.917" stop-color="#73a6d6"/><stop offset="1.000" stop-color="#699ed3"/></linearGradient>
<linearGradient id="w15" x1="0" y1="0" x2="0" y2="1"><stop offset="0.000" stop-color="#dfeff2"/><stop offset="0.077" stop-color="#e2f0f1"/><stop offset="0.154" stop-color="#e0eff2"/><stop offset="0.231" stop-color="#daecf3"/><stop offset="0.308" stop-color="#cee6f1"/><stop offset="0.385" stop-color="#c1dfee"/><stop offset="0.462" stop-color="#b4d7eb"/><stop offset="0.538" stop-color="#a8cfe8"/><stop offset="0.615" stop-color="#9bc6e4"/><stop offset="0.692" stop-color="#91bfe0"/><stop offset="0.769" stop-color="#86b6dd"/><stop offset="0.846" stop-color="#7badd9"/><stop offset="0.923" stop-color="#71a5d5"/><stop offset="1.000" stop-color="#6ca1d4"/></linearGradient>
<linearGradient id="w16" x1="0" y1="0" x2="0" y2="1"><stop offset="0.000" stop-color="#dfeef2"/><stop offset="0.077" stop-color="#e4f1f1"/><stop offset="0.154" stop-color="#e4f1f1"/><stop offset="0.231" stop-color="#e0eff2"/><stop offset="0.308" stop-color="#d6eaf2"/><stop offset="0.385" stop-color="#c9e4f0"/><stop offset="0.462" stop-color="#bcdbed"/><stop offset="0.538" stop-color="#afd3ea"/><stop offset="0.615" stop-color="#a2cae6"/><stop offset="0.692" stop-color="#96c2e2"/><stop offset="0.769" stop-color="#8bbade"/><stop offset="0.846" stop-color="#80b1db"/><stop offset="0.923" stop-color="#75a8d7"/><stop offset="1.000" stop-color="#6fa4d5"/></linearGradient>
<linearGradient id="w17" x1="0" y1="0" x2="0" y2="1"><stop offset="0.000" stop-color="#e0eff2"/><stop offset="0.077" stop-color="#e4f1f1"/><stop offset="0.154" stop-color="#e6f2f0"/><stop offset="0.231" stop-color="#e3f1f1"/><stop offset="0.308" stop-color="#dcedf3"/><stop offset="0.385" stop-color="#cfe7f1"/><stop offset="0.462" stop-color="#c2dfef"/><stop offset="0.538" stop-color="#b4d7eb"/><stop offset="0.615" stop-color="#a6cee7"/><stop offset="0.692" stop-color="#9bc5e4"/><stop offset="0.769" stop-color="#90bee0"/><stop offset="0.846" stop-color="#84b5dc"/><stop offset="0.923" stop-color="#79acd8"/><stop offset="1.000" stop-color="#73a6d6"/></linearGradient>
<linearGradient id="w18" x1="0" y1="0" x2="0" y2="1"><stop offset="0.000" stop-color="#e1f0f2"/><stop offset="0.071" stop-color="#e5f1f1"/><stop offset="0.143" stop-color="#e9f3ef"/><stop offset="0.214" stop-color="#e7f2f0"/><stop offset="0.286" stop-color="#e2f0f1"/><stop offset="0.357" stop-color="#d9ebf3"/><stop offset="0.429" stop-color="#cde5f1"/><stop offset="0.500" stop-color="#bfdeee"/><stop offset="0.571" stop-color="#b3d6eb"/><stop offset="0.643" stop-color="#a6cde7"/><stop offset="0.714" stop-color="#9cc6e4"/><stop offset="0.786" stop-color="#91bfe0"/><stop offset="0.857" stop-color="#87b7dd"/><stop offset="0.929" stop-color="#7caed9"/><stop offset="1.000" stop-color="#76a9d7"/></linearGradient>
<linearGradient id="w19" x1="0" y1="0" x2="0" y2="1"><stop offset="0.000" stop-color="#e3f0f1"/><stop offset="0.071" stop-color="#e5f2f1"/><stop offset="0.143" stop-color="#ebf3ed"/><stop offset="0.214" stop-color="#e9f3ef"/><stop offset="0.286" stop-color="#e5f2f1"/><stop offset="0.357" stop-color="#ddeef3"/><stop offset="0.429" stop-color="#d2e8f1"/><stop offset="0.500" stop-color="#c5e1ef"/><stop offset="0.571" stop-color="#b7d9ec"/><stop offset="0.643" stop-color="#abd1e9"/><stop offset="0.714" stop-color="#a0c9e5"/><stop offset="0.786" stop-color="#95c2e2"/><stop offset="0.857" stop-color="#8bbade"/><stop offset="0.929" stop-color="#81b2db"/><stop offset="1.000" stop-color="#79abd8"/></linearGradient>
<linearGradient id="w20" x1="0" y1="0" x2="0" y2="1"><stop offset="0.000" stop-color="#e4f1f1"/><stop offset="0.077" stop-color="#e8f3f0"/><stop offset="0.154" stop-color="#ecf4ec"/><stop offset="0.231" stop-color="#eaf3ee"/><stop offset="0.308" stop-color="#e5f2f1"/><stop offset="0.385" stop-color="#ddedf3"/><stop offset="0.462" stop-color="#cfe7f1"/><stop offset="0.538" stop-color="#c1dfee"/><stop offset="0.615" stop-color="#b3d6eb"/><stop offset="0.692" stop-color="#a6cde7"/><stop offset="0.769" stop-color="#9bc5e4"/><stop offset="0.846" stop-color="#8fbee0"/><stop offset="0.923" stop-color="#84b5dc"/><stop offset="1.000" stop-color="#7aacd9"/></linearGradient>
<linearGradient id="w21" x1="0" y1="0" x2="0" y2="1"><stop offset="0.000" stop-color="#e4f1f1"/><stop offset="0.071" stop-color="#e7f3f0"/><stop offset="0.143" stop-color="#ecf3ed"/><stop offset="0.214" stop-color="#edf4ec"/><stop offset="0.286" stop-color="#ebf3ee"/><stop offset="0.357" stop-color="#e6f2f1"/><stop offset="0.429" stop-color="#ddeef3"/><stop offset="0.500" stop-color="#d1e7f1"/><stop offset="0.571" stop-color="#c3e0ef"/><stop offset="0.643" stop-color="#b5d7ec"/><stop offset="0.714" stop-color="#a8cfe8"/><stop offset="0.786" stop-color="#9dc7e4"/><stop offset="0.857" stop-color="#93c0e1"/><stop offset="0.929" stop-color="#88b8dd"/><stop offset="1.000" stop-color="#7dafda"/></linearGradient>
<linearGradient id="w22" x1="0" y1="0" x2="0" y2="1"><stop offset="0.000" stop-color="#e3f1f1"/><stop offset="0.071" stop-color="#e9f3ef"/><stop offset="0.143" stop-color="#ecf4ec"/><stop offset="0.214" stop-color="#eef4eb"/><stop offset="0.286" stop-color="#ecf4ec"/><stop offset="0.357" stop-color="#e8f3f0"/><stop offset="0.429" stop-color="#dfeef2"/><stop offset="0.500" stop-color="#d2e8f1"/><stop offset="0.571" stop-color="#c3e0ef"/><stop offset="0.643" stop-color="#b4d7eb"/><stop offset="0.714" stop-color="#a7cee8"/><stop offset="0.786" stop-color="#9bc6e4"/><stop offset="0.857" stop-color="#90bee0"/><stop offset="0.929" stop-color="#85b5dc"/><stop offset="1.000" stop-color="#7caed9"/></linearGradient>
<linearGradient id="w23" x1="0" y1="0" x2="0" y2="1"><stop offset="0.000" stop-color="#e4f1f1"/><stop offset="0.071" stop-color="#ebf3ed"/><stop offset="0.143" stop-color="#eef4eb"/><stop offset="0.214" stop-color="#eff4ea"/><stop offset="0.286" stop-color="#eef4eb"/><stop offset="0.357" stop-color="#eaf3ee"/><stop offset="0.429" stop-color="#e1eff2"/><stop offset="0.500" stop-color="#d4e9f2"/><stop offset="0.571" stop-color="#c6e1ef"/><stop offset="0.643" stop-color="#b6d8ec"/><stop offset="0.714" stop-color="#a9cfe8"/><stop offset="0.786" stop-color="#9dc7e4"/><stop offset="0.857" stop-color="#91bfe0"/><stop offset="0.929" stop-color="#86b6dd"/><stop offset="1.000" stop-color="#7eafda"/></linearGradient>
<linearGradient id="w24" x1="0" y1="0" x2="0" y2="1"><stop offset="0.000" stop-color="#e4f1f1"/><stop offset="0.067" stop-color="#ebf3ed"/><stop offset="0.133" stop-color="#eff4ea"/><stop offset="0.200" stop-color="#f0f4e9"/><stop offset="0.267" stop-color="#f0f4e9"/><stop offset="0.333" stop-color="#eef4eb"/><stop offset="0.400" stop-color="#e8f3f0"/><stop offset="0.467" stop-color="#deeef2"/><stop offset="0.533" stop-color="#d1e8f1"/><stop offset="0.600" stop-color="#c3e0ef"/><stop offset="0.667" stop-color="#b4d7eb"/><stop offset="0.733" stop-color="#a8cfe8"/><stop offset="0.800" stop-color="#9cc7e4"/><stop offset="0.867" stop-color="#92bfe1"/><stop offset="0.933" stop-color="#87b7dd"/><stop offset="1.000" stop-color="#7fb0da"/></linearGradient>
<linearGradient id="w25" x1="0" y1="0" x2="0" y2="1"><stop offset="0.000" stop-color="#e5f1f1"/><stop offset="0.067" stop-color="#e9f3f0"/><stop offset="0.133" stop-color="#f1f4e8"/><stop offset="0.200" stop-color="#f2f4e8"/><stop offset="0.267" stop-color="#f1f4e8"/><stop offset="0.333" stop-color="#f0f4e9"/><stop offset="0.400" stop-color="#edf4ec"/><stop offset="0.467" stop-color="#e3f0f1"/><stop offset="0.533" stop-color="#d7eaf2"/><stop offset="0.600" stop-color="#c8e3f0"/><stop offset="0.667" stop-color="#b9d9ec"/><stop offset="0.733" stop-color="#abd1e9"/><stop offset="0.800" stop-color="#9fc8e5"/><stop offset="0.867" stop-color="#94c1e1"/><stop offset="0.933" stop-color="#89b9de"/><stop offset="1.000" stop-color="#80b1db"/></linearGradient>
<linearGradient id="w26" x1="0" y1="0" x2="0" y2="1"><stop offset="0.000" stop-color="#e5f2f1"/><stop offset="0.067" stop-color="#eaf3ee"/><stop offset="0.133" stop-color="#f3f4e6"/><stop offset="0.200" stop-color="#f3f4e7"/><stop offset="0.267" stop-color="#f2f4e7"/><stop offset="0.333" stop-color="#f2f4e7"/><stop offset="0.400" stop-color="#eef4ea"/><stop offset="0.467" stop-color="#e4f1f1"/><stop offset="0.533" stop-color="#d8ebf2"/><stop offset="0.600" stop-color="#c9e3f0"/><stop offset="0.667" stop-color="#badaed"/><stop offset="0.733" stop-color="#abd1e9"/><stop offset="0.800" stop-color="#9fc9e5"/><stop offset="0.867" stop-color="#94c1e1"/><stop offset="0.933" stop-color="#8ab9de"/><stop offset="1.000" stop-color="#81b2db"/></linearGradient>
<linearGradient id="w27" x1="0" y1="0" x2="0" y2="1"><stop offset="0.000" stop-color="#e6f2f0"/><stop offset="0.067" stop-color="#ebf3ee"/><stop offset="0.133" stop-color="#f3f4e6"/><stop offset="0.200" stop-color="#f3f4e7"/><stop offset="0.267" stop-color="#f2f4e7"/><stop offset="0.333" stop-color="#f2f4e7"/><stop offset="0.400" stop-color="#eff4ea"/><stop offset="0.467" stop-color="#e5f2f1"/><stop offset="0.533" stop-color="#daecf3"/><stop offset="0.600" stop-color="#cae4f0"/><stop offset="0.667" stop-color="#bbdbed"/><stop offset="0.733" stop-color="#add2ea"/><stop offset="0.800" stop-color="#a0cae5"/><stop offset="0.867" stop-color="#95c2e2"/><stop offset="0.933" stop-color="#8bbade"/><stop offset="1.000" stop-color="#82b3db"/></linearGradient>
<linearGradient id="w28" x1="0" y1="0" x2="0" y2="1"><stop offset="0.000" stop-color="#e6f2f0"/><stop offset="0.067" stop-color="#e9f3ef"/><stop offset="0.133" stop-color="#f3f4e6"/><stop offset="0.200" stop-color="#f3f4e7"/><stop offset="0.267" stop-color="#f3f4e7"/><stop offset="0.333" stop-color="#f2f4e7"/><stop offset="0.400" stop-color="#f1f4e8"/><stop offset="0.467" stop-color="#e7f3f0"/><stop offset="0.533" stop-color="#ddedf3"/><stop offset="0.600" stop-color="#cde5f1"/><stop offset="0.667" stop-color="#bddcee"/><stop offset="0.733" stop-color="#afd3ea"/><stop offset="0.800" stop-color="#a2cbe6"/><stop offset="0.867" stop-color="#97c3e2"/><stop offset="0.933" stop-color="#8cbbdf"/><stop offset="1.000" stop-color="#83b3db"/></linearGradient>
<linearGradient id="w29" x1="0" y1="0" x2="0" y2="1"><stop offset="0.000" stop-color="#e6f2f1"/><stop offset="0.062" stop-color="#e9f3ef"/><stop offset="0.125" stop-color="#f1f4e8"/><stop offset="0.188" stop-color="#f3f4e6"/><stop offset="0.250" stop-color="#f3f4e7"/><stop offset="0.312" stop-color="#f2f4e7"/><stop offset="0.375" stop-color="#f2f4e7"/><stop offset="0.438" stop-color="#edf4ec"/><stop offset="0.500" stop-color="#e3f0f1"/><stop offset="0.562" stop-color="#d6eaf2"/><stop offset="0.625" stop-color="#c6e2f0"/><stop offset="0.688" stop-color="#b7d9ec"/><stop offset="0.750" stop-color="#aad0e9"/><stop offset="0.812" stop-color="#9ec8e5"/><stop offset="0.875" stop-color="#93c0e1"/><stop offset="0.938" stop-color="#88b8dd"/><stop offset="1.000" stop-color="#83b4dc"/></linearGradient>
<linearGradient id="w30" x1="0" y1="0" x2="0" y2="1"><stop offset="0.000" stop-color="#e6f2f0"/><stop offset="0.062" stop-color="#ebf3ee"/><stop offset="0.125" stop-color="#f1f4e8"/><stop offset="0.188" stop-color="#f3f4e6"/><stop offset="0.250" stop-color="#f3f4e7"/><stop offset="0.312" stop-color="#f3f4e7"/><stop offset="0.375" stop-color="#f2f4e7"/><stop offset="0.438" stop-color="#eef4eb"/><stop offset="0.500" stop-color="#e4f1f1"/><stop offset="0.562" stop-color="#d7ebf2"/><stop offset="0.625" stop-color="#c7e3f0"/><stop offset="0.688" stop-color="#b8d9ec"/><stop offset="0.750" stop-color="#abd1e9"/><stop offset="0.812" stop-color="#9fc9e5"/><stop offset="0.875" stop-color="#94c1e1"/><stop offset="0.938" stop-color="#89b9de"/><stop offset="1.000" stop-color="#84b5dc"/></linearGradient>
<linearGradient id="w31" x1="0" y1="0" x2="0" y2="1"><stop offset="0.000" stop-color="#e5f2f1"/><stop offset="0.062" stop-color="#ecf4ec"/><stop offset="0.125" stop-color="#f1f4e8"/><stop offset="0.188" stop-color="#f3f4e6"/><stop offset="0.250" stop-color="#f3f4e6"/><stop offset="0.312" stop-color="#f3f4e7"/><stop offset="0.375" stop-color="#f2f4e7"/><stop offset="0.438" stop-color="#eff4ea"/><stop offset="0.500" stop-color="#e5f2f1"/><stop offset="0.562" stop-color="#d9ecf3"/><stop offset="0.625" stop-color="#c9e4f0"/><stop offset="0.688" stop-color="#badbed"/><stop offset="0.750" stop-color="#add2ea"/><stop offset="0.812" stop-color="#a0cae5"/><stop offset="0.875" stop-color="#95c2e2"/><stop offset="0.938" stop-color="#8abade"/><stop offset="1.000" stop-color="#85b5dc"/></linearGradient>
<linearGradient id="w32" x1="0" y1="0" x2="0" y2="1"><stop offset="0.000" stop-color="#e4f1f1"/><stop offset="0.062" stop-color="#edf4eb"/><stop offset="0.125" stop-color="#f0f4e9"/><stop offset="0.188" stop-color="#f3f4e6"/><stop offset="0.250" stop-color="#f3f4e6"/><stop offset="0.312" stop-color="#f3f4e7"/><stop offset="0.375" stop-color="#f3f4e7"/><stop offset="0.438" stop-color="#f0f4e9"/><stop offset="0.500" stop-color="#e7f3f0"/><stop offset="0.562" stop-color="#dcedf3"/><stop offset="0.625" stop-color="#cce5f1"/><stop offset="0.688" stop-color="#bddced"/><stop offset="0.750" stop-color="#afd3ea"/><stop offset="0.812" stop-color="#a2cbe6"/><stop offset="0.875" stop-color="#97c3e2"/><stop offset="0.938" stop-color="#8cbbdf"/><stop offset="1.000" stop-color="#86b6dc"/></linearGradient>
<linearGradient id="w33" x1="0" y1="0" x2="0" y2="1"><stop offset="0.000" stop-color="#e4f1f1"/><stop offset="0.062" stop-color="#ecf3ed"/><stop offset="0.125" stop-color="#f0f4e9"/><stop offset="0.188" stop-color="#f3f4e6"/><stop offset="0.250" stop-color="#f3f4e6"/><stop offset="0.312" stop-color="#f3f4e6"/><stop offset="0.375" stop-color="#f3f4e7"/><stop offset="0.438" stop-color="#f2f4e8"/><stop offset="0.500" stop-color="#eaf3ee"/><stop offset="0.562" stop-color="#e0eff2"/><stop offset="0.625" stop-color="#d0e7f1"/><stop offset="0.688" stop-color="#c0deee"/><stop offset="0.750" stop-color="#b2d5eb"/><stop offset="0.812" stop-color="#a5cde7"/><stop offset="0.875" stop-color="#99c4e3"/><stop offset="0.938" stop-color="#8ebddf"/><stop offset="1.000" stop-color="#86b6dd"/></linearGradient>
<linearGradient id="w34" x1="0" y1="0" x2="0" y2="1"><stop offset="0.000" stop-color="#e4f1f1"/><stop offset="0.062" stop-color="#ecf4ec"/><stop offset="0.125" stop-color="#f1f4e8"/><stop offset="0.188" stop-color="#f3f4e6"/><stop offset="0.250" stop-color="#f3f4e6"/><stop offset="0.312" stop-color="#f3f4e6"/><stop offset="0.375" stop-color="#f3f4e6"/><stop offset="0.438" stop-color="#f2f4e7"/><stop offset="0.500" stop-color="#edf4ec"/><stop offset="0.562" stop-color="#e2f0f1"/><stop offset="0.625" stop-color="#d4e9f2"/><stop offset="0.688" stop-color="#c4e1ef"/><stop offset="0.750" stop-color="#b6d8ec"/><stop offset="0.812" stop-color="#a9cfe8"/><stop offset="0.875" stop-color="#9dc7e4"/><stop offset="0.938" stop-color="#92bfe1"/><stop offset="1.000" stop-color="#87b7dd"/></linearGradient>
<linearGradient id="w35" x1="0" y1="0" x2="0" y2="1"><stop offset="0.000" stop-color="#e4f1f1"/><stop offset="0.062" stop-color="#edf4eb"/><stop offset="0.125" stop-color="#f2f4e7"/><stop offset="0.188" stop-color="#f3f4e6"/><stop offset="0.250" stop-color="#f3f4e6"/><stop offset="0.312" stop-color="#f3f4e6"/><stop offset="0.375" stop-color="#f3f4e6"/><stop offset="0.438" stop-color="#f3f4e7"/><stop offset="0.500" stop-color="#edf4ec"/><stop offset="0.562" stop-color="#e3f0f1"/><stop offset="0.625" stop-color="#d4e9f2"/><stop offset="0.688" stop-color="#c4e1ef"/><stop offset="0.750" stop-color="#b6d8ec"/><stop offset="0.812" stop-color="#a9cfe8"/><stop offset="0.875" stop-color="#9dc7e4"/><stop offset="0.938" stop-color="#91bfe0"/><stop offset="1.000" stop-color="#88b8dd"/></linearGradient>
<linearGradient id="w36" x1="0" y1="0" x2="0" y2="1"><stop offset="0.000" stop-color="#e4f1f1"/><stop offset="0.059" stop-color="#eef4ea"/><stop offset="0.118" stop-color="#f3f4e6"/><stop offset="0.176" stop-color="#f3f4e6"/><stop offset="0.235" stop-color="#f3f4e6"/><stop offset="0.294" stop-color="#f3f4e6"/><stop offset="0.353" stop-color="#f3f4e6"/><stop offset="0.412" stop-color="#f3f4e6"/><stop offset="0.471" stop-color="#edf4eb"/><stop offset="0.529" stop-color="#e3f0f1"/><stop offset="0.588" stop-color="#d4e9f2"/><stop offset="0.647" stop-color="#c4e1ef"/><stop offset="0.706" stop-color="#b6d8ec"/><stop offset="0.765" stop-color="#a9cfe8"/><stop offset="0.824" stop-color="#9cc7e4"/><stop offset="0.882" stop-color="#91bfe0"/><stop offset="0.941" stop-color="#88b8dd"/><stop offset="1.000" stop-color="#88b8dd"/></linearGradient>
<linearGradient id="w37" x1="0" y1="0" x2="0" y2="1"><stop offset="0.000" stop-color="#e4f1f1"/><stop offset="0.056" stop-color="#edf4eb"/><stop offset="0.111" stop-color="#f3f4e6"/><stop offset="0.167" stop-color="#f3f4e6"/><stop offset="0.222" stop-color="#f3f4e6"/><stop offset="0.278" stop-color="#f3f4e6"/><stop offset="0.333" stop-color="#f3f4e6"/><stop offset="0.389" stop-color="#f3f4e6"/><stop offset="0.444" stop-color="#edf4ec"/><stop offset="0.500" stop-color="#e2f0f1"/><stop offset="0.556" stop-color="#d4e9f2"/><stop offset="0.611" stop-color="#c4e1ef"/><stop offset="0.667" stop-color="#b5d8ec"/><stop offset="0.722" stop-color="#a8cfe8"/><stop offset="0.778" stop-color="#9cc6e4"/><stop offset="0.833" stop-color="#90bee0"/><stop offset="0.889" stop-color="#87b7dd"/><stop offset="0.944" stop-color="#86b6dd"/><stop offset="1.000" stop-color="#84b5dc"/></linearGradient>
<linearGradient id="w38" x1="0" y1="0" x2="0" y2="1"><stop offset="0.000" stop-color="#e4f1f1"/><stop offset="0.056" stop-color="#edf4eb"/><stop offset="0.111" stop-color="#f3f4e6"/><stop offset="0.167" stop-color="#f3f4e6"/><stop offset="0.222" stop-color="#f3f4e6"/><stop offset="0.278" stop-color="#f3f4e6"/><stop offset="0.333" stop-color="#f3f4e6"/><stop offset="0.389" stop-color="#f3f4e7"/><stop offset="0.444" stop-color="#ecf3ed"/><stop offset="0.500" stop-color="#e2f0f2"/><stop offset="0.556" stop-color="#d3e8f2"/><stop offset="0.611" stop-color="#c3e0ef"/><stop offset="0.667" stop-color="#b5d7ec"/><stop offset="0.722" stop-color="#a8cfe8"/><stop offset="0.778" stop-color="#9bc6e4"/><stop offset="0.833" stop-color="#90bee0"/><stop offset="0.889" stop-color="#86b6dd"/><stop offset="0.944" stop-color="#83b4dc"/><stop offset="1.000" stop-color="#80b1db"/></linearGradient>
<linearGradient id="w39" x1="0" y1="0" x2="0" y2="1"><stop offset="0.000" stop-color="#e4f1f1"/><stop offset="0.053" stop-color="#eef4eb"/><stop offset="0.105" stop-color="#f3f4e6"/><stop offset="0.158" stop-color="#f3f4e6"/><stop offset="0.211" stop-color="#f3f4e6"/><stop offset="0.263" stop-color="#f3f4e7"/><stop offset="0.316" stop-color="#f3f4e7"/><stop offset="0.368" stop-color="#f3f4e7"/><stop offset="0.421" stop-color="#ebf3ed"/><stop offset="0.474" stop-color="#e1f0f2"/><stop offset="0.526" stop-color="#d3e8f2"/><stop offset="0.579" stop-color="#c4e0ef"/><stop offset="0.632" stop-color="#b6d8ec"/><stop offset="0.684" stop-color="#a9cfe8"/><stop offset="0.737" stop-color="#9dc7e4"/><stop offset="0.789" stop-color="#91bfe0"/><stop offset="0.842" stop-color="#86b6dd"/><stop offset="0.895" stop-color="#81b2db"/><stop offset="0.947" stop-color="#7dafd9"/><stop offset="1.000" stop-color="#79abd8"/></linearGradient>
<linearGradient id="w40" x1="0" y1="0" x2="0" y2="1"><stop offset="0.000" stop-color="#e5f2f1"/><stop offset="0.053" stop-color="#eef4eb"/><stop offset="0.105" stop-color="#f3f4e6"/><stop offset="0.158" stop-color="#f3f4e6"/><stop offset="0.211" stop-color="#f3f4e7"/><stop offset="0.263" stop-color="#f3f4e7"/><stop offset="0.316" stop-color="#f3f4e7"/><stop offset="0.368" stop-color="#f2f4e7"/><stop offset="0.421" stop-color="#e9f3ef"/><stop offset="0.474" stop-color="#dfeef2"/><stop offset="0.526" stop-color="#cfe7f1"/><stop offset="0.579" stop-color="#c1dfee"/><stop offset="0.632" stop-color="#b3d6eb"/><stop offset="0.684" stop-color="#a6cee7"/><stop offset="0.737" stop-color="#9ac5e3"/><stop offset="0.789" stop-color="#8ebddf"/><stop offset="0.842" stop-color="#84b4dc"/><stop offset="0.895" stop-color="#7dafda"/><stop offset="0.947" stop-color="#78aad8"/><stop offset="1.000" stop-color="#72a5d6"/></linearGradient>
<linearGradient id="w41" x1="0" y1="0" x2="0" y2="1"><stop offset="0.000" stop-color="#e6f2f1"/><stop offset="0.053" stop-color="#eef4eb"/><stop offset="0.105" stop-color="#f3f4e6"/><stop offset="0.158" stop-color="#f3f4e6"/><stop offset="0.211" stop-color="#f3f4e7"/><stop offset="0.263" stop-color="#f3f4e7"/><stop offset="0.316" stop-color="#f2f4e7"/><stop offset="0.368" stop-color="#f1f4e8"/><stop offset="0.421" stop-color="#e7f2f0"/><stop offset="0.474" stop-color="#dbedf3"/><stop offset="0.526" stop-color="#cbe5f0"/><stop offset="0.579" stop-color="#bddced"/><stop offset="0.632" stop-color="#afd4ea"/><stop offset="0.684" stop-color="#a2cbe6"/><stop offset="0.737" stop-color="#96c2e2"/><stop offset="0.789" stop-color="#8ab9de"/><stop offset="0.842" stop-color="#80b1da"/><stop offset="0.895" stop-color="#78abd8"/><stop offset="0.947" stop-color="#71a5d5"/><stop offset="1.000" stop-color="#699ed3"/></linearGradient>
<linearGradient id="w42" x1="0" y1="0" x2="0" y2="1"><stop offset="0.000" stop-color="#e6f2f1"/><stop offset="0.050" stop-color="#edf4ec"/><stop offset="0.100" stop-color="#f3f4e6"/><stop offset="0.150" stop-color="#f3f4e7"/><stop offset="0.200" stop-color="#f3f4e7"/><stop offset="0.250" stop-color="#f2f4e7"/><stop offset="0.300" stop-color="#f2f4e7"/><stop offset="0.350" stop-color="#f2f4e8"/><stop offset="0.400" stop-color="#e7f3f0"/><stop offset="0.450" stop-color="#ddedf3"/><stop offset="0.500" stop-color="#cde6f1"/><stop offset="0.550" stop-color="#bfddee"/><stop offset="0.600" stop-color="#b1d5eb"/><stop offset="0.650" stop-color="#a4cce7"/><stop offset="0.700" stop-color="#98c3e3"/><stop offset="0.750" stop-color="#8bbbde"/><stop offset="0.800" stop-color="#80b1da"/><stop offset="0.850" stop-color="#77aad7"/><stop offset="0.900" stop-color="#6ea2d4"/><stop offset="0.950" stop-color="#669bd0"/><stop offset="1.000" stop-color="#6093cc"/></linearGradient>
<linearGradient id="w43" x1="0" y1="0" x2="0" y2="1"><stop offset="0.000" stop-color="#e5f2f1"/><stop offset="0.050" stop-color="#ecf3ed"/><stop offset="0.100" stop-color="#f3f4e6"/><stop offset="0.150" stop-color="#f3f4e7"/><stop offset="0.200" stop-color="#f3f4e7"/><stop offset="0.250" stop-color="#f2f4e7"/><stop offset="0.300" stop-color="#f2f4e7"/><stop offset="0.350" stop-color="#f1f4e8"/><stop offset="0.400" stop-color="#e7f3f0"/><stop offset="0.450" stop-color="#dcedf3"/><stop offset="0.500" stop-color="#cde6f1"/><stop offset="0.550" stop-color="#bfddee"/><stop offset="0.600" stop-color="#b1d5eb"/><stop offset="0.650" stop-color="#a4cce7"/><stop offset="0.700" stop-color="#97c3e2"/><stop offset="0.750" stop-color="#8bbade"/><stop offset="0.800" stop-color="#7eb0da"/><stop offset="0.850" stop-color="#74a7d6"/><stop offset="0.900" stop-color="#6a9fd3"/><stop offset="0.950" stop-color="#6295cd"/><stop offset="1.000" stop-color="#5b8dc8"/></linearGradient>
<linearGradient id="w44" x1="0" y1="0" x2="0" y2="1"><stop offset="0.000" stop-color="#e5f2f1"/><stop offset="0.050" stop-color="#ebf3ed"/><stop offset="0.100" stop-color="#f3f4e7"/><stop offset="0.150" stop-color="#f3f4e7"/><stop offset="0.200" stop-color="#f2f4e7"/><stop offset="0.250" stop-color="#f2f4e7"/><stop offset="0.300" stop-color="#f2f4e7"/><stop offset="0.350" stop-color="#f1f4e8"/><stop offset="0.400" stop-color="#e7f2f0"/><stop offset="0.450" stop-color="#dcedf3"/><stop offset="0.500" stop-color="#cde5f1"/><stop offset="0.550" stop-color="#bfddee"/><stop offset="0.600" stop-color="#b1d5eb"/><stop offset="0.650" stop-color="#a4cce7"/><stop offset="0.700" stop-color="#97c3e2"/><stop offset="0.750" stop-color="#8bbade"/><stop offset="0.800" stop-color="#7eafda"/><stop offset="0.850" stop-color="#72a6d6"/><stop offset="0.900" stop-color="#689dd2"/><stop offset="0.950" stop-color="#5f93cc"/><stop offset="1.000" stop-color="#588ac6"/></linearGradient>
<linearGradient id="w45" x1="0" y1="0" x2="0" y2="1"><stop offset="0.000" stop-color="#e5f2f1"/><stop offset="0.050" stop-color="#eef4eb"/><stop offset="0.100" stop-color="#f3f4e6"/><stop offset="0.150" stop-color="#f3f4e7"/><stop offset="0.200" stop-color="#f2f4e7"/><stop offset="0.250" stop-color="#f2f4e7"/><stop offset="0.300" stop-color="#f1f4e8"/><stop offset="0.350" stop-color="#eef4eb"/><stop offset="0.400" stop-color="#e4f1f1"/><stop offset="0.450" stop-color="#d9ebf3"/><stop offset="0.500" stop-color="#cae4f0"/><stop offset="0.550" stop-color="#bddced"/><stop offset="0.600" stop-color="#afd4ea"/><stop offset="0.650" stop-color="#a3cbe6"/><stop offset="0.700" stop-color="#96c3e2"/><stop offset="0.750" stop-color="#8abade"/><stop offset="0.800" stop-color="#7dafda"/><stop offset="0.850" stop-color="#72a6d6"/><stop offset="0.900" stop-color="#689cd1"/><stop offset="0.950" stop-color="#5f92cc"/><stop offset="1.000" stop-color="#588ac6"/></linearGradient>
<linearGradient id="w46" x1="0" y1="0" x2="0" y2="1"><stop offset="0.000" stop-color="#e5f2f1"/><stop offset="0.050" stop-color="#eef4ea"/><stop offset="0.100" stop-color="#f3f4e6"/><stop offset="0.150" stop-color="#f3f4e7"/><stop offset="0.200" stop-color="#f2f4e7"/><stop offset="0.250" stop-color="#f2f4e8"/><stop offset="0.300" stop-color="#f1f4e9"/><stop offset="0.350" stop-color="#ecf4ec"/><stop offset="0.400" stop-color="#e3f0f1"/><stop offset="0.450" stop-color="#d7eaf2"/><stop offset="0.500" stop-color="#c9e3f0"/><stop offset="0.550" stop-color="#bbdbed"/><stop offset="0.600" stop-color="#aed3ea"/><stop offset="0.650" stop-color="#a2cbe6"/><stop offset="0.700" stop-color="#96c2e2"/><stop offset="0.750" stop-color="#8ab9de"/><stop offset="0.800" stop-color="#7dafda"/><stop offset="0.850" stop-color="#72a5d6"/><stop offset="0.900" stop-color="#689cd1"/><stop offset="0.950" stop-color="#5f92cc"/><stop offset="1.000" stop-color="#588ac6"/></linearGradient>
<linearGradient id="w47" x1="0" y1="0" x2="0" y2="1"><stop offset="0.000" stop-color="#e5f2f1"/><stop offset="0.050" stop-color="#edf4eb"/><stop offset="0.100" stop-color="#f3f4e6"/><stop offset="0.150" stop-color="#f2f4e7"/><stop offset="0.200" stop-color="#f2f4e7"/><stop offset="0.250" stop-color="#f1f4e8"/><stop offset="0.300" stop-color="#eff4ea"/><stop offset="0.350" stop-color="#e9f3ef"/><stop offset="0.400" stop-color="#dfeff2"/><stop offset="0.450" stop-color="#d2e8f1"/><stop offset="0.500" stop-color="#c4e1ef"/><stop offset="0.550" stop-color="#b6d8ec"/><stop offset="0.600" stop-color="#a9d0e8"/><stop offset="0.650" stop-color="#9dc7e4"/><stop offset="0.700" stop-color="#91bfe0"/><stop offset="0.750" stop-color="#84b4dc"/><stop offset="0.800" stop-color="#77aad7"/><stop offset="0.850" stop-color="#6ca0d4"/><stop offset="0.900" stop-color="#6396ce"/><stop offset="0.950" stop-color="#5a8dc8"/><stop offset="1.000" stop-color="#5788c5"/></linearGradient>
<linearGradient id="w48" x1="0" y1="0" x2="0" y2="1"><stop offset="0.000" stop-color="#e5f2f1"/><stop offset="0.050" stop-color="#ecf3ed"/><stop offset="0.100" stop-color="#f3f4e6"/><stop offset="0.150" stop-color="#f2f4e7"/><stop offset="0.200" stop-color="#f2f4e7"/><stop offset="0.250" stop-color="#f1f4e8"/><stop offset="0.300" stop-color="#eff4ea"/><stop offset="0.350" stop-color="#e8f3f0"/><stop offset="0.400" stop-color="#deeef2"/><stop offset="0.450" stop-color="#d1e8f1"/><stop offset="0.500" stop-color="#c3e0ef"/><stop offset="0.550" stop-color="#b6d8ec"/><stop offset="0.600" stop-color="#a9d0e8"/><stop offset="0.650" stop-color="#9dc7e4"/><stop offset="0.700" stop-color="#91bfe0"/><stop offset="0.750" stop-color="#84b4dc"/><stop offset="0.800" stop-color="#77aad7"/><stop offset="0.850" stop-color="#6ca0d4"/><stop offset="0.900" stop-color="#6396ce"/><stop offset="0.950" stop-color="#5b8dc8"/><stop offset="1.000" stop-color="#5687c5"/></linearGradient>
<linearGradient id="w49" x1="0" y1="0" x2="0" y2="1"><stop offset="0.000" stop-color="#e5f2f1"/><stop offset="0.050" stop-color="#eaf3ee"/><stop offset="0.100" stop-color="#f3f4e6"/><stop offset="0.150" stop-color="#f2f4e7"/><stop offset="0.200" stop-color="#f2f4e8"/><stop offset="0.250" stop-color="#f1f4e8"/><stop offset="0.300" stop-color="#eef4eb"/><stop offset="0.350" stop-color="#e7f2f0"/><stop offset="0.400" stop-color="#deeef3"/><stop offset="0.450" stop-color="#d0e7f1"/><stop offset="0.500" stop-color="#c3e0ef"/><stop offset="0.550" stop-color="#b6d8ec"/><stop offset="0.600" stop-color="#a9d0e8"/><stop offset="0.650" stop-color="#9dc7e4"/><stop offset="0.700" stop-color="#91bfe0"/><stop offset="0.750" stop-color="#84b4dc"/><stop offset="0.800" stop-color="#77aad7"/><stop offset="0.850" stop-color="#6ca0d4"/><stop offset="0.900" stop-color="#6396ce"/><stop offset="0.950" stop-color="#5b8dc8"/><stop offset="1.000" stop-color="#5687c5"/></linearGradient>
<linearGradient id="w50" x1="0" y1="0" x2="0" y2="1"><stop offset="0.000" stop-color="#e5f2f1"/><stop offset="0.050" stop-color="#e8f3f0"/><stop offset="0.100" stop-color="#f3f4e6"/><stop offset="0.150" stop-color="#f2f4e7"/><stop offset="0.200" stop-color="#f2f4e8"/><stop offset="0.250" stop-color="#f1f4e8"/><stop offset="0.300" stop-color="#edf4ec"/><stop offset="0.350" stop-color="#e6f2f1"/><stop offset="0.400" stop-color="#dcedf3"/><stop offset="0.450" stop-color="#cfe6f1"/><stop offset="0.500" stop-color="#c2dfef"/><stop offset="0.550" stop-color="#b4d7eb"/><stop offset="0.600" stop-color="#a8cfe8"/><stop offset="0.650" stop-color="#9cc6e4"/><stop offset="0.700" stop-color="#90bee0"/><stop offset="0.750" stop-color="#83b3db"/><stop offset="0.800" stop-color="#76a9d7"/><stop offset="0.850" stop-color="#6a9fd3"/><stop offset="0.900" stop-color="#6295cd"/><stop offset="0.950" stop-color="#5a8cc8"/><stop offset="1.000" stop-color="#5586c4"/></linearGradient>
<linearGradient id="w51" x1="0" y1="0" x2="0" y2="1"><stop offset="0.000" stop-color="#e5f2f1"/><stop offset="0.050" stop-color="#e7f2f0"/><stop offset="0.100" stop-color="#f3f4e6"/><stop offset="0.150" stop-color="#f2f4e7"/><stop offset="0.200" stop-color="#f1f4e8"/><stop offset="0.250" stop-color="#f1f4e8"/><stop offset="0.300" stop-color="#ecf4ec"/><stop offset="0.350" stop-color="#e5f1f1"/><stop offset="0.400" stop-color="#dbedf3"/><stop offset="0.450" stop-color="#cee6f1"/><stop offset="0.500" stop-color="#c1dfee"/><stop offset="0.550" stop-color="#b4d7eb"/><stop offset="0.600" stop-color="#a8cfe8"/><stop offset="0.650" stop-color="#9cc6e4"/><stop offset="0.700" stop-color="#90bee0"/><stop offset="0.750" stop-color="#83b4dc"/><stop offset="0.800" stop-color="#76a9d7"/><stop offset="0.850" stop-color="#6a9fd3"/><stop offset="0.900" stop-color="#6295cd"/><stop offset="0.950" stop-color="#5a8cc8"/><stop offset="1.000" stop-color="#5586c4"/></linearGradient>
<linearGradient id="w52" x1="0" y1="0" x2="0" y2="1"><stop offset="0.000" stop-color="#e5f2f1"/><stop offset="0.050" stop-color="#eef4eb"/><stop offset="0.100" stop-color="#f3f4e7"/><stop offset="0.150" stop-color="#f2f4e7"/><stop offset="0.200" stop-color="#f1f4e8"/><stop offset="0.250" stop-color="#f0f4e9"/><stop offset="0.300" stop-color="#e9f3ef"/><stop offset="0.350" stop-color="#e1f0f2"/><stop offset="0.400" stop-color="#d6eaf2"/><stop offset="0.450" stop-color="#cae4f0"/><stop offset="0.500" stop-color="#bddcee"/><stop offset="0.550" stop-color="#b1d5eb"/><stop offset="0.600" stop-color="#a5cde7"/><stop offset="0.650" stop-color="#9ac5e3"/><stop offset="0.700" stop-color="#8ebddf"/><stop offset="0.750" stop-color="#81b2db"/><stop offset="0.800" stop-color="#75a8d7"/><stop offset="0.850" stop-color="#6a9fd3"/><stop offset="0.900" stop-color="#6195cd"/><stop offset="0.950" stop-color="#5a8cc8"/><stop offset="1.000" stop-color="#5586c4"/></linearGradient>
<linearGradient id="w53" x1="0" y1="0" x2="0" y2="1"><stop offset="0.000" stop-color="#e5f2f1"/><stop offset="0.050" stop-color="#eff4ea"/><stop offset="0.100" stop-color="#f2f4e7"/><stop offset="0.150" stop-color="#f1f4e8"/><stop offset="0.200" stop-color="#f0f4e9"/><stop offset="0.250" stop-color="#eff4ea"/><stop offset="0.300" stop-color="#e7f3f0"/><stop offset="0.350" stop-color="#e0eff2"/><stop offset="0.400" stop-color="#d5e9f2"/><stop offset="0.450" stop-color="#c9e3f0"/><stop offset="0.500" stop-color="#bddced"/><stop offset="0.550" stop-color="#b0d4eb"/><stop offset="0.600" stop-color="#a5cde7"/><stop offset="0.650" stop-color="#9ac5e3"/><stop offset="0.700" stop-color="#8ebddf"/><stop offset="0.750" stop-color="#81b2db"/><stop offset="0.800" stop-color="#75a8d7"/><stop offset="0.850" stop-color="#6a9fd3"/><stop offset="0.900" stop-color="#6195cd"/><stop offset="0.950" stop-color="#5a8cc8"/><stop offset="1.000" stop-color="#5485c4"/></linearGradient>
<linearGradient id="w54" x1="0" y1="0" x2="0" y2="1"><stop offset="0.000" stop-color="#e5f2f1"/><stop offset="0.050" stop-color="#eef4eb"/><stop offset="0.100" stop-color="#f2f4e7"/><stop offset="0.150" stop-color="#f1f4e8"/><stop offset="0.200" stop-color="#eff4ea"/><stop offset="0.250" stop-color="#edf4ec"/><stop offset="0.300" stop-color="#e6f2f1"/><stop offset="0.350" stop-color="#deeef3"/><stop offset="0.400" stop-color="#d3e8f2"/><stop offset="0.450" stop-color="#c7e3f0"/><stop offset="0.500" stop-color="#bbdbed"/><stop offset="0.550" stop-color="#b0d4ea"/><stop offset="0.600" stop-color="#a4cce7"/><stop offset="0.650" stop-color="#99c4e3"/><stop offset="0.700" stop-color="#8dbcdf"/><stop offset="0.750" stop-color="#80b1da"/><stop offset="0.800" stop-color="#73a7d6"/><stop offset="0.850" stop-color="#689dd2"/><stop offset="0.900" stop-color="#6093cc"/><stop offset="0.950" stop-color="#588ac6"/><stop offset="1.000" stop-color="#5485c4"/></linearGradient>
<linearGradient id="w55" x1="0" y1="0" x2="0" y2="1"><stop offset="0.000" stop-color="#e5f2f1"/><stop offset="0.050" stop-color="#ecf4ec"/><stop offset="0.100" stop-color="#f1f4e8"/><stop offset="0.150" stop-color="#f0f4e9"/><stop offset="0.200" stop-color="#eef4ea"/><stop offset="0.250" stop-color="#ebf3ed"/><stop offset="0.300" stop-color="#e4f1f1"/><stop offset="0.350" stop-color="#dcedf3"/><stop offset="0.400" stop-color="#d1e8f1"/><stop offset="0.450" stop-color="#c6e2f0"/><stop offset="0.500" stop-color="#badbed"/><stop offset="0.550" stop-color="#afd3ea"/><stop offset="0.600" stop-color="#a3cbe6"/><stop offset="0.650" stop-color="#98c3e3"/><stop offset="0.700" stop-color="#8bbade"/><stop offset="0.750" stop-color="#7eafda"/><stop offset="0.800" stop-color="#71a5d6"/><stop offset="0.850" stop-color="#669bd1"/><stop offset="0.900" stop-color="#5e91cb"/><stop offset="0.950" stop-color="#5687c5"/><stop offset="1.000" stop-color="#5485c4"/></linearGradient>
<linearGradient id="w56" x1="0" y1="0" x2="0" y2="1"><stop offset="0.000" stop-color="#e5f2f1"/><stop offset="0.050" stop-color="#ebf3ee"/><stop offset="0.100" stop-color="#f1f4e8"/><stop offset="0.150" stop-color="#eff4e9"/><stop offset="0.200" stop-color="#edf4eb"/><stop offset="0.250" stop-color="#eaf3ee"/><stop offset="0.300" stop-color="#e3f1f1"/><stop offset="0.350" stop-color="#dcedf3"/><stop offset="0.400" stop-color="#d1e7f1"/><stop offset="0.450" stop-color="#c6e2f0"/><stop offset="0.500" stop-color="#bbdbed"/><stop offset="0.550" stop-color="#afd4ea"/><stop offset="0.600" stop-color="#a4cce7"/><stop offset="0.650" stop-color="#98c4e3"/><stop offset="0.700" stop-color="#8cbbdf"/><stop offset="0.750" stop-color="#7fb0da"/><stop offset="0.800" stop-color="#72a6d6"/><stop offset="0.850" stop-color="#679bd1"/><stop offset="0.900" stop-color="#5e91cb"/><stop offset="0.950" stop-color="#5687c5"/><stop offset="1.000" stop-color="#5485c4"/></linearGradient>
<linearGradient id="w57" x1="0" y1="0" x2="0" y2="1"><stop offset="0.000" stop-color="#e5f2f1"/><stop offset="0.050" stop-color="#e9f3ef"/><stop offset="0.100" stop-color="#f1f4e8"/><stop offset="0.150" stop-color="#eff4ea"/><stop offset="0.200" stop-color="#edf4ec"/><stop offset="0.250" stop-color="#e8f3f0"/><stop offset="0.300" stop-color="#e2f0f1"/><stop offset="0.350" stop-color="#dbecf3"/><stop offset="0.400" stop-color="#d1e7f1"/><stop offset="0.450" stop-color="#c6e2f0"/><stop offset="0.500" stop-color="#bbdbed"/><stop offset="0.550" stop-color="#b0d4ea"/><stop offset="0.600" stop-color="#a4cce7"/><stop offset="0.650" stop-color="#99c4e3"/><stop offset="0.700" stop-color="#8dbcdf"/><stop offset="0.750" stop-color="#7fb1da"/><stop offset="0.800" stop-color="#73a6d6"/><stop offset="0.850" stop-color="#679cd1"/><stop offset="0.900" stop-color="#5e91cb"/><stop offset="0.950" stop-color="#5687c5"/><stop offset="1.000" stop-color="#5485c4"/></linearGradient>
<linearGradient id="w58" x1="0" y1="0" x2="0" y2="1"><stop offset="0.000" stop-color="#e5f2f1"/><stop offset="0.050" stop-color="#e8f3f0"/><stop offset="0.100" stop-color="#f0f4e9"/><stop offset="0.150" stop-color="#eef4eb"/><stop offset="0.200" stop-color="#ebf3ed"/><stop offset="0.250" stop-color="#e7f2f0"/><stop offset="0.300" stop-color="#e1eff2"/><stop offset="0.350" stop-color="#d9ecf3"/><stop offset="0.400" stop-color="#cfe7f1"/><stop offset="0.450" stop-color="#c5e1ef"/><stop offset="0.500" stop-color="#bbdbed"/><stop offset="0.550" stop-color="#b0d4ea"/><stop offset="0.600" stop-color="#a5cce7"/><stop offset="0.650" stop-color="#99c4e3"/><stop offset="0.700" stop-color="#8dbcdf"/><stop offset="0.750" stop-color="#80b1da"/><stop offset="0.800" stop-color="#73a6d6"/><stop offset="0.850" stop-color="#679cd1"/><stop offset="0.900" stop-color="#5e91cb"/><stop offset="0.950" stop-color="#5687c5"/><stop offset="1.000" stop-color="#5485c4"/></linearGradient>
<linearGradient id="w59" x1="0" y1="0" x2="0" y2="1"><stop offset="0.000" stop-color="#e5f2f1"/><stop offset="0.050" stop-color="#ebf3ee"/><stop offset="0.100" stop-color="#eff4ea"/><stop offset="0.150" stop-color="#edf4ec"/><stop offset="0.200" stop-color="#e9f3ef"/><stop offset="0.250" stop-color="#e4f1f1"/><stop offset="0.300" stop-color="#deeef2"/><stop offset="0.350" stop-color="#d6eaf2"/><stop offset="0.400" stop-color="#cee6f1"/><stop offset="0.450" stop-color="#c4e0ef"/><stop offset="0.500" stop-color="#badaed"/><stop offset="0.550" stop-color="#b0d4ea"/><stop offset="0.600" stop-color="#a4cce7"/><stop offset="0.650" stop-color="#99c5e3"/><stop offset="0.700" stop-color="#8dbcdf"/><stop offset="0.750" stop-color="#81b2db"/><stop offset="0.800" stop-color="#74a7d6"/><stop offset="0.850" stop-color="#689dd2"/><stop offset="0.900" stop-color="#5f92cb"/><stop offset="0.950" stop-color="#5688c5"/><stop offset="1.000" stop-color="#5485c4"/></linearGradient>
<linearGradient id="w60" x1="0" y1="0" x2="0" y2="1"><stop offset="0.000" stop-color="#e5f1f1"/><stop offset="0.053" stop-color="#e9f3ef"/><stop offset="0.105" stop-color="#eef4eb"/><stop offset="0.158" stop-color="#ecf3ed"/><stop offset="0.211" stop-color="#e8f3f0"/><stop offset="0.263" stop-color="#e3f0f1"/><stop offset="0.316" stop-color="#ddeef3"/><stop offset="0.368" stop-color="#d5eaf2"/><stop offset="0.421" stop-color="#cde6f1"/><stop offset="0.474" stop-color="#c4e0ef"/><stop offset="0.526" stop-color="#badaed"/><stop offset="0.579" stop-color="#b0d4ea"/><stop offset="0.632" stop-color="#a6cde7"/><stop offset="0.684" stop-color="#9bc6e4"/><stop offset="0.737" stop-color="#90bee0"/><stop offset="0.789" stop-color="#84b5dc"/><stop offset="0.842" stop-color="#78abd8"/><stop offset="0.895" stop-color="#6ca1d4"/><stop offset="0.947" stop-color="#6397ce"/><stop offset="1.000" stop-color="#5b8dc8"/></linearGradient>
<linearGradient id="w61" x1="0" y1="0" x2="0" y2="1"><stop offset="0.000" stop-color="#e4f1f1"/><stop offset="0.053" stop-color="#e8f3f0"/><stop offset="0.105" stop-color="#ebf3ed"/><stop offset="0.158" stop-color="#e9f3ef"/><stop offset="0.211" stop-color="#e6f2f1"/><stop offset="0.263" stop-color="#e2f0f2"/><stop offset="0.316" stop-color="#ddedf3"/><stop offset="0.368" stop-color="#d5eaf2"/><stop offset="0.421" stop-color="#cee6f1"/><stop offset="0.474" stop-color="#c5e1ef"/><stop offset="0.526" stop-color="#bcdced"/><stop offset="0.579" stop-color="#b3d6eb"/><stop offset="0.632" stop-color="#abd1e9"/><stop offset="0.684" stop-color="#a4cce7"/><stop offset="0.737" stop-color="#9cc6e4"/><stop offset="0.789" stop-color="#94c1e1"/><stop offset="0.842" stop-color="#8cbbdf"/><stop offset="0.895" stop-color="#83b4dc"/><stop offset="0.947" stop-color="#7badd9"/><stop offset="1.000" stop-color="#74a7d6"/></linearGradient>
<linearGradient id="w62" x1="0" y1="0" x2="0" y2="1"><stop offset="0.000" stop-color="#e4f1f1"/><stop offset="0.056" stop-color="#e6f2f0"/><stop offset="0.111" stop-color="#e8f3f0"/><stop offset="0.167" stop-color="#e7f2f0"/><stop offset="0.222" stop-color="#e3f1f1"/><stop offset="0.278" stop-color="#e0eff2"/><stop offset="0.333" stop-color="#dbecf3"/><stop offset="0.389" stop-color="#d4e9f2"/><stop offset="0.444" stop-color="#cce5f1"/><stop offset="0.500" stop-color="#c4e0ef"/><stop offset="0.556" stop-color="#bbdbed"/><stop offset="0.611" stop-color="#b3d6eb"/><stop offset="0.667" stop-color="#aed3ea"/><stop offset="0.722" stop-color="#a9d0e8"/><stop offset="0.778" stop-color="#a4cce7"/><stop offset="0.833" stop-color="#9fc9e5"/><stop offset="0.889" stop-color="#9ac5e3"/><stop offset="0.944" stop-color="#96c2e2"/><stop offset="1.000" stop-color="#91bfe0"/></linearGradient>
<linearGradient id="w63" x1="0" y1="0" x2="0" y2="1"><stop offset="0.000" stop-color="#e4f1f1"/><stop offset="0.056" stop-color="#e5f1f1"/><stop offset="0.111" stop-color="#e6f2f1"/><stop offset="0.167" stop-color="#e5f1f1"/><stop offset="0.222" stop-color="#e2f0f2"/><stop offset="0.278" stop-color="#dfeef2"/><stop offset="0.333" stop-color="#dbedf3"/><stop offset="0.389" stop-color="#d5e9f2"/><stop offset="0.444" stop-color="#cee6f1"/><stop offset="0.500" stop-color="#c7e2f0"/><stop offset="0.556" stop-color="#bfddee"/><stop offset="0.611" stop-color="#b6d8ec"/><stop offset="0.667" stop-color="#b4d7eb"/><stop offset="0.722" stop-color="#b3d6eb"/><stop offset="0.778" stop-color="#b1d5eb"/><stop offset="0.833" stop-color="#b0d4ea"/><stop offset="0.889" stop-color="#aed3ea"/><stop offset="0.944" stop-color="#acd2e9"/><stop offset="1.000" stop-color="#abd1e9"/></linearGradient>
<linearGradient id="w64" x1="0" y1="0" x2="0" y2="1"><stop offset="0.000" stop-color="#e3f1f1"/><stop offset="0.071" stop-color="#e3f1f1"/><stop offset="0.143" stop-color="#e4f1f1"/><stop offset="0.214" stop-color="#e3f0f1"/><stop offset="0.286" stop-color="#e0eff2"/><stop offset="0.357" stop-color="#ddeef3"/><stop offset="0.429" stop-color="#daecf3"/><stop offset="0.500" stop-color="#d4e9f2"/><stop offset="0.571" stop-color="#cee6f1"/><stop offset="0.643" stop-color="#c6e2f0"/><stop offset="0.714" stop-color="#beddee"/><stop offset="0.786" stop-color="#b8d9ec"/><stop offset="0.857" stop-color="#b8d9ec"/><stop offset="0.929" stop-color="#b8d9ec"/><stop offset="1.000" stop-color="#b8d9ec"/></linearGradient>
<linearGradient id="w65" x1="0" y1="0" x2="0" y2="1"><stop offset="0.000" stop-color="#e2f0f1"/><stop offset="0.083" stop-color="#e3f0f1"/><stop offset="0.167" stop-color="#e3f1f1"/><stop offset="0.250" stop-color="#e2f0f2"/><stop offset="0.333" stop-color="#dfeff2"/><stop offset="0.417" stop-color="#ddedf3"/><stop offset="0.500" stop-color="#d9ecf3"/><stop offset="0.583" stop-color="#d4e9f2"/><stop offset="0.667" stop-color="#cee6f1"/><stop offset="0.750" stop-color="#c7e2f0"/><stop offset="0.833" stop-color="#bfdeee"/><stop offset="0.917" stop-color="#badaed"/><stop offset="1.000" stop-color="#b9daed"/></linearGradient>
<linearGradient id="w66" x1="0" y1="0" x2="0" y2="1"><stop offset="0.000" stop-color="#e1f0f2"/><stop offset="0.091" stop-color="#e2f0f2"/><stop offset="0.182" stop-color="#e2f0f2"/><stop offset="0.273" stop-color="#e1eff2"/><stop offset="0.364" stop-color="#deeef2"/><stop offset="0.455" stop-color="#dcedf3"/><stop offset="0.545" stop-color="#d9ebf3"/><stop offset="0.636" stop-color="#d3e9f2"/><stop offset="0.727" stop-color="#cee6f1"/><stop offset="0.818" stop-color="#c5e1ef"/><stop offset="0.909" stop-color="#beddee"/><stop offset="1.000" stop-color="#bbdbed"/></linearGradient>
<linearGradient id="w67" x1="0" y1="0" x2="0" y2="1"><stop offset="0.000" stop-color="#e0eff2"/><stop offset="0.100" stop-color="#e1eff2"/><stop offset="0.200" stop-color="#e0eff2"/><stop offset="0.300" stop-color="#deeef2"/><stop offset="0.400" stop-color="#dcedf3"/><stop offset="0.500" stop-color="#d9ecf3"/><stop offset="0.600" stop-color="#d4e9f2"/><stop offset="0.700" stop-color="#cfe7f1"/><stop offset="0.800" stop-color="#c7e2f0"/><stop offset="0.900" stop-color="#bfdeee"/><stop offset="1.000" stop-color="#bddced"/></linearGradient>
<linearGradient id="w68" x1="0" y1="0" x2="0" y2="1"><stop offset="0.000" stop-color="#e0eff2"/><stop offset="0.111" stop-color="#e0eff2"/><stop offset="0.222" stop-color="#dfeef2"/><stop offset="0.333" stop-color="#ddedf3"/><stop offset="0.444" stop-color="#dbecf3"/><stop offset="0.556" stop-color="#d8ebf2"/><stop offset="0.667" stop-color="#d2e8f2"/><stop offset="0.778" stop-color="#cce5f1"/><stop offset="0.889" stop-color="#c1dfee"/><stop offset="1.000" stop-color="#bfddee"/></linearGradient>
<linearGradient id="w69" x1="0" y1="0" x2="0" y2="1"><stop offset="0.000" stop-color="#dfeef2"/><stop offset="0.111" stop-color="#dfeef2"/><stop offset="0.222" stop-color="#ddeef3"/><stop offset="0.333" stop-color="#dbedf3"/><stop offset="0.444" stop-color="#d9ecf3"/><stop offset="0.556" stop-color="#d6eaf2"/><stop offset="0.667" stop-color="#d1e8f1"/><stop offset="0.778" stop-color="#cbe5f1"/><stop offset="0.889" stop-color="#c2dfef"/><stop offset="1.000" stop-color="#c0deee"/></linearGradient>
<linearGradient id="w70" x1="0" y1="0" x2="0" y2="1"><stop offset="0.000" stop-color="#deeef2"/><stop offset="0.125" stop-color="#deeef3"/><stop offset="0.250" stop-color="#dcedf3"/><stop offset="0.375" stop-color="#d9ecf3"/><stop offset="0.500" stop-color="#d6eaf2"/><stop offset="0.625" stop-color="#d2e8f1"/><stop offset="0.750" stop-color="#cde6f1"/><stop offset="0.875" stop-color="#c4e1ef"/><stop offset="1.000" stop-color="#c1deee"/></linearGradient>
<linearGradient id="w71" x1="0" y1="0" x2="0" y2="1"><stop offset="0.000" stop-color="#deeef3"/><stop offset="0.125" stop-color="#ddeef3"/><stop offset="0.250" stop-color="#dbedf3"/><stop offset="0.375" stop-color="#d9ebf2"/><stop offset="0.500" stop-color="#d6eaf2"/><stop offset="0.625" stop-color="#d2e8f2"/><stop offset="0.750" stop-color="#cee6f1"/><stop offset="0.875" stop-color="#c7e2f0"/><stop offset="1.000" stop-color="#c2dfef"/></linearGradient>
<linearGradient id="w72" x1="0" y1="0" x2="0" y2="1"><stop offset="0.000" stop-color="#ddeef3"/><stop offset="0.125" stop-color="#dcedf3"/><stop offset="0.250" stop-color="#daecf3"/><stop offset="0.375" stop-color="#d7ebf2"/><stop offset="0.500" stop-color="#d5e9f2"/><stop offset="0.625" stop-color="#d1e7f1"/><stop offset="0.750" stop-color="#cce5f1"/><stop offset="0.875" stop-color="#c6e2ef"/><stop offset="1.000" stop-color="#c2dfef"/></linearGradient>
<linearGradient id="w73" x1="0" y1="0" x2="0" y2="1"><stop offset="0.000" stop-color="#ddedf3"/><stop offset="0.125" stop-color="#dcedf3"/><stop offset="0.250" stop-color="#d9ecf3"/><stop offset="0.375" stop-color="#d6eaf2"/><stop offset="0.500" stop-color="#d3e9f2"/><stop offset="0.625" stop-color="#cfe7f1"/><stop offset="0.750" stop-color="#cbe4f0"/><stop offset="0.875" stop-color="#c5e1ef"/><stop offset="1.000" stop-color="#c3e0ef"/></linearGradient>
<linearGradient id="w74" x1="0" y1="0" x2="0" y2="1"><stop offset="0.000" stop-color="#dcedf3"/><stop offset="0.125" stop-color="#dbedf3"/><stop offset="0.250" stop-color="#d9ebf2"/><stop offset="0.375" stop-color="#d6eaf2"/><stop offset="0.500" stop-color="#d2e8f2"/><stop offset="0.625" stop-color="#cfe6f1"/><stop offset="0.750" stop-color="#cbe4f0"/><stop offset="0.875" stop-color="#c6e2f0"/><stop offset="1.000" stop-color="#c4e0ef"/></linearGradient>
<linearGradient id="w75" x1="0" y1="0" x2="0" y2="1"><stop offset="0.000" stop-color="#dcedf3"/><stop offset="0.125" stop-color="#dbecf3"/><stop offset="0.250" stop-color="#d8ebf2"/><stop offset="0.375" stop-color="#d5eaf2"/><stop offset="0.500" stop-color="#d2e8f1"/><stop offset="0.625" stop-color="#cee6f1"/><stop offset="0.750" stop-color="#cae4f0"/><stop offset="0.875" stop-color="#c6e2f0"/><stop offset="1.000" stop-color="#c4e0ef"/></linearGradient>
<linearGradient id="w76" x1="0" y1="0" x2="0" y2="1"><stop offset="0.000" stop-color="#dcedf3"/><stop offset="0.125" stop-color="#dbecf3"/><stop offset="0.250" stop-color="#d8ebf2"/><stop offset="0.375" stop-color="#d5e9f2"/><stop offset="0.500" stop-color="#d1e8f1"/><stop offset="0.625" stop-color="#cde6f1"/><stop offset="0.750" stop-color="#cae4f0"/><stop offset="0.875" stop-color="#c6e2f0"/><stop offset="1.000" stop-color="#c4e0ef"/></linearGradient>
<linearGradient id="w77" x1="0" y1="0" x2="0" y2="1"><stop offset="0.000" stop-color="#dcedf3"/><stop offset="0.143" stop-color="#dbecf3"/><stop offset="0.286" stop-color="#d7eaf2"/><stop offset="0.429" stop-color="#d3e9f2"/><stop offset="0.571" stop-color="#cfe7f1"/><stop offset="0.714" stop-color="#cbe5f0"/><stop offset="0.857" stop-color="#c7e3f0"/><stop offset="1.000" stop-color="#c4e0ef"/></linearGradient>
<linearGradient id="w78" x1="0" y1="0" x2="0" y2="1"><stop offset="0.000" stop-color="#dcedf3"/><stop offset="0.143" stop-color="#daecf3"/><stop offset="0.286" stop-color="#d5eaf2"/><stop offset="0.429" stop-color="#d1e8f1"/><stop offset="0.571" stop-color="#cde6f1"/><stop offset="0.714" stop-color="#cae4f0"/><stop offset="0.857" stop-color="#c6e2ef"/><stop offset="1.000" stop-color="#c4e0ef"/></linearGradient>
<linearGradient id="w79" x1="0" y1="0" x2="0" y2="1"><stop offset="0.000" stop-color="#dcedf3"/><stop offset="0.125" stop-color="#dbecf3"/><stop offset="0.250" stop-color="#d6eaf2"/><stop offset="0.375" stop-color="#d2e8f2"/><stop offset="0.500" stop-color="#cfe6f1"/><stop offset="0.625" stop-color="#cbe5f0"/><stop offset="0.750" stop-color="#c8e3f0"/><stop offset="0.875" stop-color="#c4e1ef"/><stop offset="1.000" stop-color="#c4e0ef"/></linearGradient>
<linearGradient id="w80" x1="0" y1="0" x2="0" y2="1"><stop offset="0.000" stop-color="#dcedf3"/><stop offset="0.125" stop-color="#daecf3"/><stop offset="0.250" stop-color="#d6eaf2"/><stop offset="0.375" stop-color="#d2e8f1"/><stop offset="0.500" stop-color="#cee6f1"/><stop offset="0.625" stop-color="#cbe4f0"/><stop offset="0.750" stop-color="#c8e3f0"/><stop offset="0.875" stop-color="#c4e1ef"/><stop offset="1.000" stop-color="#c4e0ef"/></linearGradient>
<linearGradient id="w81" x1="0" y1="0" x2="0" y2="1"><stop offset="0.000" stop-color="#dcedf3"/><stop offset="0.125" stop-color="#dbecf3"/><stop offset="0.250" stop-color="#d5eaf2"/><stop offset="0.375" stop-color="#d1e8f1"/><stop offset="0.500" stop-color="#cee6f1"/><stop offset="0.625" stop-color="#cae4f0"/><stop offset="0.750" stop-color="#c7e3f0"/><stop offset="0.875" stop-color="#c4e1ef"/><stop offset="1.000" stop-color="#c4e0ef"/></linearGradient>
<linearGradient id="w82" x1="0" y1="0" x2="0" y2="1"><stop offset="0.000" stop-color="#dbedf3"/><stop offset="0.125" stop-color="#daecf3"/><stop offset="0.250" stop-color="#d5eaf2"/><stop offset="0.375" stop-color="#d1e7f1"/><stop offset="0.500" stop-color="#cde5f1"/><stop offset="0.625" stop-color="#cae4f0"/><stop offset="0.750" stop-color="#c7e2f0"/><stop offset="0.875" stop-color="#c4e1ef"/><stop offset="1.000" stop-color="#c4e0ef"/></linearGradient>
<linearGradient id="w83" x1="0" y1="0" x2="0" y2="1"><stop offset="0.000" stop-color="#daecf3"/><stop offset="0.143" stop-color="#d9ebf2"/><stop offset="0.286" stop-color="#d3e9f2"/><stop offset="0.429" stop-color="#cfe6f1"/><stop offset="0.571" stop-color="#cbe4f0"/><stop offset="0.714" stop-color="#c8e3f0"/><stop offset="0.857" stop-color="#c6e2f0"/><stop offset="1.000" stop-color="#c4e0ef"/></linearGradient>
<linearGradient id="w84" x1="0" y1="0" x2="0" y2="1"><stop offset="0.000" stop-color="#d9ecf3"/><stop offset="0.143" stop-color="#d8ebf2"/><stop offset="0.286" stop-color="#d1e8f1"/><stop offset="0.429" stop-color="#cde5f1"/><stop offset="0.571" stop-color="#c9e3f0"/><stop offset="0.714" stop-color="#c7e2f0"/><stop offset="0.857" stop-color="#c5e1ef"/><stop offset="1.000" stop-color="#c4e0ef"/></linearGradient>
<linearGradient id="w85" x1="0" y1="0" x2="0" y2="1"><stop offset="0.000" stop-color="#d8ebf2"/><stop offset="0.143" stop-color="#d7eaf2"/><stop offset="0.286" stop-color="#d0e7f1"/><stop offset="0.429" stop-color="#cbe5f0"/><stop offset="0.571" stop-color="#c8e3f0"/><stop offset="0.714" stop-color="#c6e2f0"/><stop offset="0.857" stop-color="#c4e1ef"/><stop offset="1.000" stop-color="#c4e0ef"/></linearGradient>
<linearGradient id="w86" x1="0" y1="0" x2="0" y2="1"><stop offset="0.000" stop-color="#d6eaf2"/><stop offset="0.143" stop-color="#d4e9f2"/><stop offset="0.286" stop-color="#cee6f1"/><stop offset="0.429" stop-color="#cae4f0"/><stop offset="0.571" stop-color="#c7e3f0"/><stop offset="0.714" stop-color="#c6e2f0"/><stop offset="0.857" stop-color="#c4e1ef"/><stop offset="1.000" stop-color="#c4e0ef"/></linearGradient>
<linearGradient id="w87" x1="0" y1="0" x2="0" y2="1"><stop offset="0.000" stop-color="#d2e8f2"/><stop offset="0.143" stop-color="#d0e7f1"/><stop offset="0.286" stop-color="#cce5f1"/><stop offset="0.429" stop-color="#c9e4f0"/><stop offset="0.571" stop-color="#c7e3f0"/><stop offset="0.714" stop-color="#c6e2f0"/><stop offset="0.857" stop-color="#c4e1ef"/><stop offset="1.000" stop-color="#c4e0ef"/></linearGradient>
<linearGradient id="w88" x1="0" y1="0" x2="0" y2="1"><stop offset="0.000" stop-color="#cbe4f0"/><stop offset="0.200" stop-color="#c9e3f0"/><stop offset="0.400" stop-color="#c8e3f0"/><stop offset="0.600" stop-color="#c6e2f0"/><stop offset="0.800" stop-color="#c4e1ef"/><stop offset="1.000" stop-color="#c4e0ef"/></linearGradient>
<linearGradient id="w89" x1="0" y1="0" x2="0" y2="1"><stop offset="0.000" stop-color="#c8e3f0"/><stop offset="0.250" stop-color="#c8e3f0"/><stop offset="0.500" stop-color="#c6e2f0"/><stop offset="0.750" stop-color="#c4e1ef"/><stop offset="1.000" stop-color="#c4e0ef"/></linearGradient>
<linearGradient id="w90" x1="0" y1="0" x2="0" y2="1"><stop offset="0.000" stop-color="#c8e3f0"/><stop offset="0.333" stop-color="#c7e2f0"/><stop offset="0.667" stop-color="#c5e1ef"/><stop offset="1.000" stop-color="#c4e0ef"/></linearGradient>
<linearGradient id="w91" x1="0" y1="0" x2="0" y2="1"><stop offset="0.000" stop-color="#c8e3f0"/><stop offset="0.333" stop-color="#c6e2f0"/><stop offset="0.667" stop-color="#c4e1ef"/><stop offset="1.000" stop-color="#c4e0ef"/></linearGradient>
<filter id="tx" x="0" y="0" width="1" height="1" color-interpolation-filters="sRGB"><feTurbulence type="fractalNoise" baseFrequency="0.13 0.1" numOctaves="2" seed="4" result="n"/><feColorMatrix in="n" type="matrix" values="0.6 0.6 0 0 -0.1 0.3 0.3 0 0 0.2 0.06 0.06 0 0 0.44 0 0 0 0 1" result="g"/><feComposite in="SourceGraphic" in2="g" operator="arithmetic" k1="0" k2="1" k3="0.2" k4="-0.1"/></filter>
<linearGradient id="wu" gradientUnits="userSpaceOnUse" x1="860" y1="381" x2="866" y2="407"><stop offset="0" stop-color="#98c4e3"/><stop offset=".3" stop-color="#81b2db"/><stop offset=".65" stop-color="#669bd0"/><stop offset="1" stop-color="#4e7cbe"/></linearGradient>
</defs>
<g clip-path="url(#wfc)"><g filter="url(#tx)"><rect x="544" y="413" width="4.6" height="26" fill="url(#w0)"/><rect x="548" y="409" width="4.6" height="31" fill="url(#w1)"/><rect x="552" y="404" width="4.6" height="37" fill="url(#w2)"/><rect x="556" y="383" width="4.6" height="58" fill="url(#w3)"/><rect x="560" y="366" width="4.6" height="76" fill="url(#w4)"/><rect x="564" y="355" width="4.6" height="88" fill="url(#w5)"/><rect x="568" y="352" width="4.6" height="91" fill="url(#w6)"/><rect x="572" y="351" width="4.6" height="92" fill="url(#w7)"/><rect x="576" y="351" width="4.6" height="92" fill="url(#w8)"/><rect x="580" y="349" width="4.6" height="93" fill="url(#w9)"/><rect x="584" y="346" width="4.6" height="90" fill="url(#w10)"/><rect x="588" y="343" width="4.6" height="88" fill="url(#w11)"/><rect x="592" y="341" width="4.6" height="90" fill="url(#w12)"/><rect x="596" y="341" width="4.6" height="86" fill="url(#w13)"/><rect x="600" y="338" width="4.6" height="91" fill="url(#w14)"/><rect x="604" y="336" width="4.6" height="97" fill="url(#w15)"/><rect x="608" y="332" width="4.6" height="101" fill="url(#w16)"/><rect x="612" y="330" width="4.6" height="103" fill="url(#w17)"/><rect x="616" y="329" width="4.6" height="104" fill="url(#w18)"/><rect x="620" y="328" width="4.6" height="104" fill="url(#w19)"/><rect x="624" y="328" width="4.6" height="103" fill="url(#w20)"/><rect x="628" y="324" width="4.6" height="105" fill="url(#w21)"/><rect x="632" y="322" width="4.6" height="111" fill="url(#w22)"/><rect x="636" y="322" width="4.6" height="111" fill="url(#w23)"/><rect x="640" y="321" width="4.6" height="112" fill="url(#w24)"/><rect x="644" y="318" width="4.6" height="115" fill="url(#w25)"/><rect x="648" y="318" width="4.6" height="116" fill="url(#w26)"/><rect x="652" y="318" width="4.6" height="116" fill="url(#w27)"/><rect x="656" y="316" width="4.6" height="118" fill="url(#w28)"/><rect x="660" y="314" width="4.6" height="123" fill="url(#w29)"/><rect x="664" y="314" width="4.6" height="123" fill="url(#w30)"/><rect x="668" y="313" width="4.6" height="124" fill="url(#w31)"/><rect x="672" y="311" width="4.6" height="126" fill="url(#w32)"/><rect x="676" y="309" width="4.6" height="127" fill="url(#w33)"/><rect x="680" y="309" width="4.6" height="125" fill="url(#w34)"/><rect x="684" y="309" width="4.6" height="126" fill="url(#w35)"/><rect x="688" y="309" width="4.6" height="135" fill="url(#w36)"/><rect x="692" y="309" width="4.6" height="143" fill="url(#w37)"/><rect x="696" y="310" width="4.6" height="142" fill="url(#w38)"/><rect x="700" y="312" width="4.6" height="146" fill="url(#w39)"/><rect x="704" y="313" width="4.6" height="147" fill="url(#w40)"/><rect x="708" y="314" width="4.6" height="149" fill="url(#w41)"/><rect x="712" y="314" width="4.6" height="155" fill="url(#w42)"/><rect x="716" y="314" width="4.6" height="155" fill="url(#w43)"/><rect x="720" y="314" width="4.6" height="155" fill="url(#w44)"/><rect x="724" y="316" width="4.6" height="153" fill="url(#w45)"/><rect x="728" y="317" width="4.6" height="152" fill="url(#w46)"/><rect x="732" y="317" width="4.6" height="157" fill="url(#w47)"/><rect x="736" y="317" width="4.6" height="157" fill="url(#w48)"/><rect x="740" y="317" width="4.6" height="157" fill="url(#w49)"/><rect x="744" y="317" width="4.6" height="158" fill="url(#w50)"/><rect x="748" y="317" width="4.6" height="158" fill="url(#w51)"/><rect x="752" y="321" width="4.6" height="154" fill="url(#w52)"/><rect x="756" y="322" width="4.6" height="153" fill="url(#w53)"/><rect x="760" y="322" width="4.6" height="155" fill="url(#w54)"/><rect x="764" y="322" width="4.6" height="157" fill="url(#w55)"/><rect x="768" y="322" width="4.6" height="157" fill="url(#w56)"/><rect x="772" y="322" width="4.6" height="157" fill="url(#w57)"/><rect x="776" y="323" width="4.6" height="156" fill="url(#w58)"/><rect x="780" y="326" width="4.6" height="152" fill="url(#w59)"/><rect x="784" y="326" width="4.6" height="145" fill="url(#w60)"/><rect x="788" y="326" width="4.6" height="144" fill="url(#w61)"/><rect x="792" y="326" width="4.6" height="141" fill="url(#w62)"/><rect x="796" y="326" width="4.6" height="137" fill="url(#w63)"/><rect x="800" y="327" width="4.6" height="107" fill="url(#w64)"/><rect x="804" y="329" width="4.6" height="88" fill="url(#w65)"/><rect x="808" y="329" width="4.6" height="82" fill="url(#w66)"/><rect x="812" y="335" width="4.6" height="75" fill="url(#w67)"/><rect x="816" y="336" width="4.6" height="71" fill="url(#w68)"/><rect x="820" y="342" width="4.6" height="64" fill="url(#w69)"/><rect x="824" y="346" width="4.6" height="59" fill="url(#w70)"/><rect x="828" y="346" width="4.6" height="57" fill="url(#w71)"/><rect x="832" y="347" width="4.6" height="58" fill="url(#w72)"/><rect x="836" y="347" width="4.6" height="60" fill="url(#w73)"/><rect x="840" y="347" width="4.6" height="60" fill="url(#w74)"/><rect x="844" y="349" width="4.6" height="58" fill="url(#w75)"/><rect x="848" y="350" width="4.6" height="57" fill="url(#w76)"/><rect x="852" y="351" width="4.6" height="54" fill="url(#w77)"/><rect x="856" y="353" width="4.6" height="55" fill="url(#w78)"/><rect x="860" y="353" width="4.6" height="57" fill="url(#w79)"/><rect x="864" y="354" width="4.6" height="56" fill="url(#w80)"/><rect x="868" y="354" width="4.6" height="56" fill="url(#w81)"/><rect x="872" y="354" width="4.6" height="56" fill="url(#w82)"/><rect x="876" y="356" width="4.6" height="49" fill="url(#w83)"/><rect x="880" y="357" width="4.6" height="52" fill="url(#w84)"/><rect x="884" y="358" width="4.6" height="52" fill="url(#w85)"/><rect x="888" y="359" width="4.6" height="51" fill="url(#w86)"/><rect x="892" y="361" width="4.6" height="49" fill="url(#w87)"/><rect x="896" y="374" width="4.6" height="36" fill="url(#w88)"/><rect x="900" y="383" width="4.6" height="27" fill="url(#w89)"/><rect x="904" y="386" width="4.6" height="22" fill="url(#w90)"/><rect x="908" y="390" width="4.6" height="18" fill="url(#w91)"/><path d="M826.0 401.0L827.5 399.7L829.1 398.3L830.6 396.6L832.2 396.7L833.7 394.8L835.9 393.9L838.1 394.8L840.3 394.8L841.3 393.6L842.3 390.2L843.4 389.2L844.4 387.4L845.4 385.3L847.0 383.9L848.7 384.0L850.4 384.0L852.0 383.1L853.8 382.6L855.5 382.6L857.3 381.2L859.0 380.9L860.8 380.9L862.8 379.7L864.7 379.9L866.6 380.2L868.6 379.1L870.5 379.0L872.5 378.0L874.3 377.5L876.0 377.8L877.8 376.4L879.5 376.4L881.3 376.5L883.1 376.4L885.0 376.2L886.8 375.2L888.6 375.0L889.2 372.9L889.9 371.9L890.5 371.0L915.0 371.0L915.0 416.0L826.0 416.0Z" fill="url(#wu)"/></g></g>
<path d="M620.5 311.2L755.5 240.5V400.8L620.5 470Z" stroke="#ff0000" stroke-width="0.95" fill="none" shape-rendering="crispEdges"/>
<text x="494.5" y="305.5" text-anchor="end">0</text>
<text x="494.5" y="332.1" text-anchor="end">-20</text>
<text x="494.5" y="358.6" text-anchor="end">-40</text>
<text x="494.5" y="385.1" text-anchor="end">-60</text>
<text x="494.5" y="411.7" text-anchor="end">-80</text>
<text x="494.5" y="438.2" text-anchor="end">-100</text>
<text x="494.5" y="464.8" text-anchor="end">-120</text>
<text transform="translate(436.4,382) rotate(-90)" text-anchor="middle">PSD (dBm)</text>
<text x="503.6" y="472" text-anchor="middle">19:23:40</text>
<text x="637.5" y="495" text-anchor="middle">19:24:00</text>
<text x="770" y="517" text-anchor="middle">19:24:20</text>
<text transform="translate(597,513.5) rotate(11)" text-anchor="middle">Time (UTC)</text>
<text x="817.4" y="514.5" text-anchor="middle">1210</text>
<text x="839.4" y="503.1" text-anchor="middle">1215</text>
<text x="861.3" y="491.8" text-anchor="middle">1220</text>
<text x="883.3" y="480.4" text-anchor="middle">1225</text>
<text x="905.2" y="469.1" text-anchor="middle">1230</text>
<text x="927.2" y="457.7" text-anchor="middle">1235</text>
<text x="949.2" y="446.3" text-anchor="middle">1240</text>
<text x="971.1" y="435.0" text-anchor="middle">1245</text>
<text transform="translate(933,486.5) rotate(-26)" text-anchor="middle">Frequency (MHz)</text>
</g>
</svg>
</body></html>
